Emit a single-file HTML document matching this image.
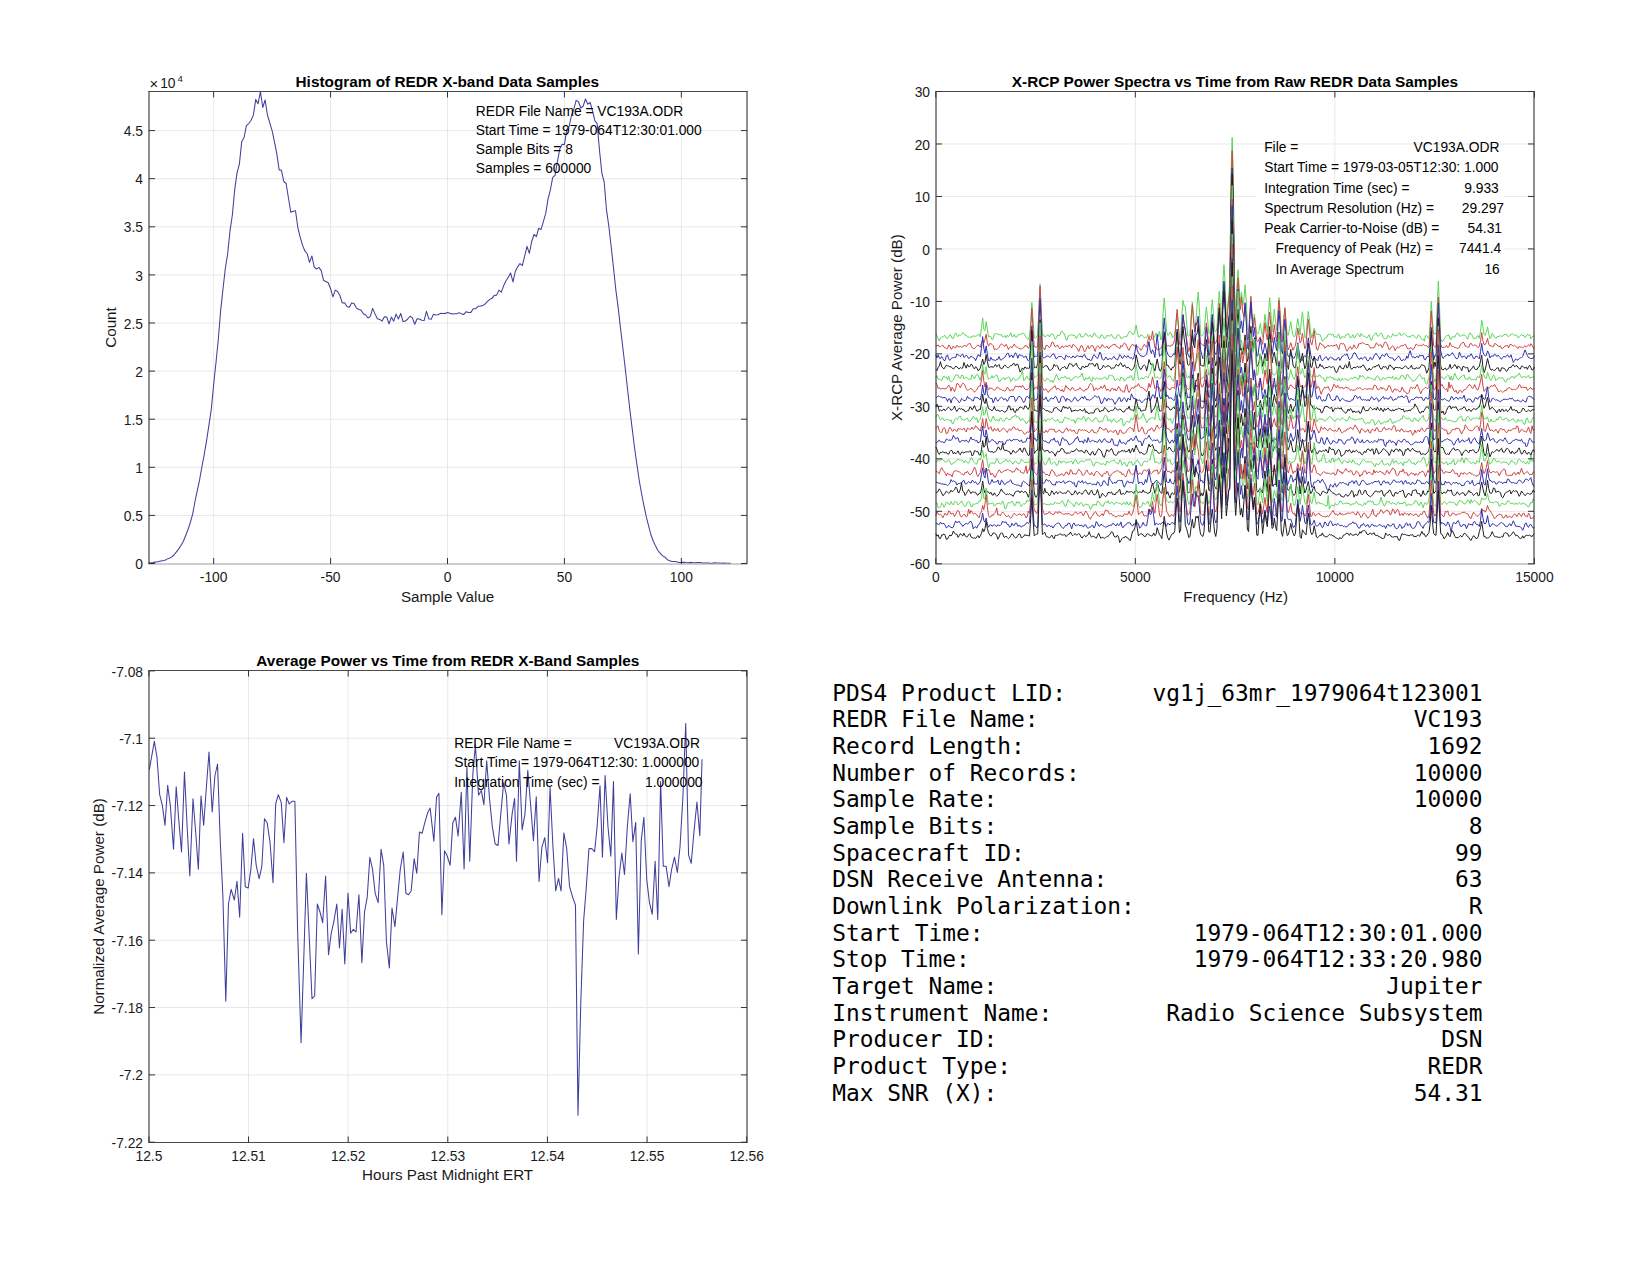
<!DOCTYPE html><html><head><meta charset="utf-8"><title>REDR X-band summary</title>
<style>html,body{margin:0;padding:0;background:#fff;}svg{display:block;}.grid line{stroke:#e8e8e8;stroke-width:1;}.frame line,.frame path{stroke-width:1;}.tk{font-family:'Liberation Sans', sans-serif;font-size:13.8px;fill:#1a1a1a;}.lb{font-family:'Liberation Sans', sans-serif;font-size:15.2px;fill:#1a1a1a;}.tt{font-family:'Liberation Sans', sans-serif;font-size:15.35px;font-weight:bold;fill:#000;}.an{font-family:'Liberation Sans', sans-serif;font-size:13.8px;fill:#000;}.mono{font-family:'DejaVu Sans Mono', 'Liberation Mono', monospace;font-size:22.85px;fill:#000;}</style></head><body>
<svg width="1650" height="1275" viewBox="0 0 1650 1275">
<rect width="1650" height="1275" fill="#fff"/>
<g class="grid"><line x1="213.65" y1="91.4" x2="213.65" y2="563.5"/><line x1="330.58" y1="91.4" x2="330.58" y2="563.5"/><line x1="447.5" y1="91.4" x2="447.5" y2="563.5"/><line x1="564.42" y1="91.4" x2="564.42" y2="563.5"/><line x1="681.35" y1="91.4" x2="681.35" y2="563.5"/><line x1="148.6" y1="515.4" x2="746.6" y2="515.4"/><line x1="148.6" y1="467.3" x2="746.6" y2="467.3"/><line x1="148.6" y1="419.2" x2="746.6" y2="419.2"/><line x1="148.6" y1="371.1" x2="746.6" y2="371.1"/><line x1="148.6" y1="323" x2="746.6" y2="323"/><line x1="148.6" y1="274.9" x2="746.6" y2="274.9"/><line x1="148.6" y1="226.8" x2="746.6" y2="226.8"/><line x1="148.6" y1="178.7" x2="746.6" y2="178.7"/><line x1="148.6" y1="130.6" x2="746.6" y2="130.6"/></g>
<polyline fill="none" stroke="#40409c" stroke-width="1.05" stroke-linejoin="round" points="148.17,562.92 150.51,562.75 152.85,562.46 155.19,562.11 157.53,561.84 159.86,561.33 162.2,560.79 164.54,560.43 166.88,559.13 169.22,558.16 171.56,557.11 173.9,555.01 176.23,552.09 178.57,549.15 180.91,545.49 183.25,541.54 185.59,535.7 187.93,529.8 190.27,522.51 192.6,514.38 194.94,501.74 197.28,490.67 199.62,479.66 201.96,466.48 204.3,454.16 206.63,440.37 208.97,424.95 211.31,409.15 213.65,384.52 215.99,362.47 218.33,338.93 220.67,310.39 223,288.97 225.34,268.31 227.68,253.62 230.02,230.7 232.36,215 234.7,189.61 237.04,172.89 239.37,164.09 241.71,141.84 244.05,137.61 246.39,125.63 248.73,123.52 251.07,120.19 253.4,115.1 255.74,99.39 258.08,103.66 260.42,91.64 262.76,107.51 265.1,99.9 267.44,115.01 269.77,122.9 272.11,130.61 274.45,141.89 276.79,153.66 279.13,169.87 281.47,170.35 283.81,181.51 286.14,183.52 288.48,198.22 290.82,212.32 293.16,211.36 295.5,210.75 297.84,227.52 300.17,237.05 302.51,245.1 304.85,250.94 307.19,253.72 309.53,262.37 311.87,255.92 314.21,266.99 316.54,269.07 318.88,267.39 321.22,270.61 323.56,280.43 325.9,281.43 328.24,282.76 330.58,288.72 332.91,296.84 335.25,290.15 337.59,291.47 339.93,295.51 342.27,302.91 344.61,302.82 346.94,306.51 349.28,307.19 351.62,302.9 353.96,303.44 356.3,307.84 358.64,309.45 360.98,310.12 363.31,313.75 365.65,315 367.99,318.04 370.33,316.42 372.67,308.41 375.01,313.89 377.35,318.66 379.68,319.44 382.02,321.14 384.36,316.85 386.7,317.02 389.04,323.95 391.38,317.12 393.71,321.21 396.05,314.14 398.39,319 400.73,313.49 403.07,321.6 405.41,321.1 407.75,319.01 410.08,316.24 412.42,317.9 414.76,324.25 417.1,318.76 419.44,318.96 421.78,320.18 424.12,320.52 426.45,311.3 428.79,318.66 431.13,319.35 433.47,314.3 435.81,315.01 438.15,314.81 440.48,313.38 442.82,313.45 445.16,313.39 447.5,312.53 449.84,313.18 452.18,314.09 454.52,313.66 456.85,313.68 459.19,312.64 461.53,313.88 463.87,314.42 466.21,311.68 468.55,312.58 470.88,312.39 473.22,308.68 475.56,308.83 477.9,306.3 480.24,306.29 482.58,305.6 484.92,304.21 487.25,301.7 489.59,299.63 491.93,298.31 494.27,295.44 496.61,295.14 498.95,290.14 501.29,292.11 503.62,285.82 505.96,280.7 508.3,277.28 510.64,273.05 512.98,281.96 515.32,271.46 517.65,266.85 519.99,263.57 522.33,265.54 524.67,256.14 527.01,246.35 529.35,253.37 531.69,241.5 534.02,234.5 536.36,236.59 538.7,228.26 541.04,229.46 543.38,221.69 545.72,213.44 548.06,198.94 550.39,189.77 552.73,177.45 555.07,175.41 557.41,161.68 559.75,149.02 562.09,144.23 564.42,144.61 566.76,129.61 569.1,126.53 571.44,115.49 573.78,109.4 576.12,100.35 578.46,101.7 580.79,108 583.13,106.25 585.47,99.02 587.81,104.24 590.15,102.4 592.49,110.74 594.83,120.65 597.16,123.64 599.5,150.32 601.84,172.96 604.18,182.04 606.52,210.2 608.86,226.34 611.19,246.99 613.53,268.16 615.87,290.07 618.21,307.94 620.55,328.66 622.89,347.99 625.23,368.44 627.56,389.24 629.9,409.9 632.24,429.08 634.58,447.98 636.92,464.61 639.26,480.54 641.6,493.78 643.93,505.65 646.27,516.72 648.61,525.85 650.95,534.77 653.29,541.28 655.63,546.12 657.96,550.53 660.3,553.34 662.64,555.89 664.98,557.18 667.32,559.66 669.66,560.65 672,561.55 674.33,561.56 676.67,561.66 679.01,562.47 681.35,562.36 683.69,562.19 686.03,562.58 688.37,562.78 690.7,562.36 693.04,562.69 695.38,562.65 697.72,562.48 700.06,562.54 702.4,562.97 704.73,563.05 707.07,562.9 709.41,563.02 711.75,563.4 714.09,562.82 716.43,563.08 718.77,562.99 721.1,563.3 723.44,562.99 725.78,563.25 728.12,563.22 730.46,563.37"/>
<g class="frame"><line x1="149" y1="90.9" x2="149" y2="564.0" stroke="#1e1e1e"/><line x1="747" y1="90.9" x2="747" y2="564.0" stroke="#1e1e1e"/><line x1="148.5" y1="91.5" x2="747.5" y2="91.5" stroke="#4a4a4a"/><line x1="148.5" y1="564" x2="747.5" y2="564" stroke="#9a9a9a"/><path d="M213.65 564V558M213.65 91.5V97.5M330.58 564V558M330.58 91.5V97.5M447.5 564V558M447.5 91.5V97.5M564.42 564V558M564.42 91.5V97.5M681.35 564V558M681.35 91.5V97.5M149 563.5H155M747 563.5H741M149 515.4H155M747 515.4H741M149 467.3H155M747 467.3H741M149 419.2H155M747 419.2H741M149 371.1H155M747 371.1H741M149 323H155M747 323H741M149 274.9H155M747 274.9H741M149 226.8H155M747 226.8H741M149 178.7H155M747 178.7H741M149 130.6H155M747 130.6H741" fill="none" stroke="#333"/></g>
<text class="tk" x="213.65" y="581.9" text-anchor="middle">-100</text>
<text class="tk" x="330.58" y="581.9" text-anchor="middle">-50</text>
<text class="tk" x="447.5" y="581.9" text-anchor="middle">0</text>
<text class="tk" x="564.42" y="581.9" text-anchor="middle">50</text>
<text class="tk" x="681.35" y="581.9" text-anchor="middle">100</text>
<text class="tk" x="143" y="569.1" text-anchor="end">0</text>
<text class="tk" x="143" y="521" text-anchor="end">0.5</text>
<text class="tk" x="143" y="472.9" text-anchor="end">1</text>
<text class="tk" x="143" y="424.8" text-anchor="end">1.5</text>
<text class="tk" x="143" y="376.7" text-anchor="end">2</text>
<text class="tk" x="143" y="328.6" text-anchor="end">2.5</text>
<text class="tk" x="143" y="280.5" text-anchor="end">3</text>
<text class="tk" x="143" y="232.4" text-anchor="end">3.5</text>
<text class="tk" x="143" y="184.3" text-anchor="end">4</text>
<text class="tk" x="143" y="136.2" text-anchor="end">4.5</text>
<text class="tk" x="149.4" y="88.6" style="font-size:15px">×</text><text class="tk" x="160.2" y="88.4">10</text><text class="tk" x="177.5" y="81.6" style="font-size:9.6px">4</text>
<text class="lb" x="447.6" y="601.6" text-anchor="middle">Sample Value</text>
<text class="lb" transform="translate(116.3 327.5) rotate(-90)" text-anchor="middle">Count</text>
<text class="tt" x="447.3" y="86.8" text-anchor="middle">Histogram of REDR X-band Data Samples</text>
<text class="an" x="475.8" y="116.1">REDR File Name = VC193A.ODR</text>
<text class="an" x="475.8" y="135">Start Time = 1979-064T12:30:01.000</text>
<text class="an" x="475.8" y="153.9">Sample Bits = 8</text>
<text class="an" x="475.8" y="172.8">Samples = 600000</text>
<g class="grid"><line x1="1135.33" y1="91.5" x2="1135.33" y2="563.8"/><line x1="1334.87" y1="91.5" x2="1334.87" y2="563.8"/><line x1="935.8" y1="143.98" x2="1534.4" y2="143.98"/><line x1="935.8" y1="301.41" x2="1534.4" y2="301.41"/><line x1="935.8" y1="353.89" x2="1534.4" y2="353.89"/><line x1="935.8" y1="406.37" x2="1534.4" y2="406.37"/><line x1="935.8" y1="458.84" x2="1534.4" y2="458.84"/><line x1="935.8" y1="511.32" x2="1534.4" y2="511.32"/><line x1="935.8" y1="196.46" x2="1256" y2="196.46"/><line x1="1504" y1="196.46" x2="1534.4" y2="196.46"/><line x1="935.8" y1="248.93" x2="1256" y2="248.93"/><line x1="1504" y1="248.93" x2="1534.4" y2="248.93"/></g>
<polyline fill="none" stroke="#5ad65a" stroke-width="1" stroke-linejoin="round" points="935.8,333.18 936.97,335.81 938.14,338.58 939.31,340.93 940.49,337.78 941.66,336.91 942.83,336.98 944,335.57 945.17,335.75 946.34,338.16 947.51,338.47 948.69,336.98 949.86,334.8 951.03,335.43 952.2,338.63 953.37,338.31 954.54,334.51 955.71,332.91 956.89,335.59 958.06,336.62 959.23,334.72 960.4,335.53 961.57,334.07 962.74,332.58 963.91,334.02 965.09,335.13 966.26,335.11 967.43,336.84 968.6,337.06 969.77,337.26 970.94,337.01 972.11,337.11 973.29,335.4 974.46,336.76 975.63,336.08 976.8,335.71 977.97,334.69 979.14,334.34 980.31,336.77 981.49,327.19 982.66,317.89 983.83,329.5 985,330.67 986.17,321.62 987.34,329.23 988.51,336.87 989.69,336.21 990.86,336.69 992.03,339.58 993.2,338.73 994.37,333.92 995.54,333.87 996.71,333.45 997.89,334.27 999.06,334.66 1000.23,334.91 1001.4,334.37 1002.57,336.89 1003.74,336.56 1004.91,335.61 1006.09,337.8 1007.26,335.14 1008.43,336.7 1009.6,335.38 1010.77,332.83 1011.94,336.54 1013.11,336.54 1014.29,334.27 1015.46,337.26 1016.63,337.12 1017.8,335.14 1018.97,334.62 1020.14,334.54 1021.31,334.29 1022.49,332.92 1023.66,333.17 1024.83,334.82 1026,337.3 1027.17,338.78 1028.34,339.37 1029.51,336.63 1030.69,322.84 1031.86,302.41 1033.03,320.02 1034.2,336.83 1035.37,338.12 1036.54,336.79 1037.71,334.43 1038.89,308.73 1040.06,283.83 1041.23,308.74 1042.4,335.06 1043.57,334.51 1044.74,336.93 1045.91,336.32 1047.09,335.04 1048.26,335.13 1049.43,337.1 1050.6,334.59 1051.77,334.15 1052.94,334.24 1054.11,336.36 1055.29,339.22 1056.46,337.64 1057.63,334.98 1058.8,335.54 1059.97,335.08 1061.14,331.7 1062.31,331.22 1063.49,333.72 1064.66,333.87 1065.83,339.57 1067,340.25 1068.17,335.88 1069.34,335.67 1070.51,334.9 1071.69,334.87 1072.86,335.51 1074.03,334.83 1075.2,336.28 1076.37,338.49 1077.54,335.82 1078.71,334.54 1079.89,333.42 1081.06,336.93 1082.23,336.91 1083.4,336.85 1084.57,335.56 1085.74,333.03 1086.91,334.7 1088.09,336.54 1089.26,335.61 1090.43,335.2 1091.6,337.48 1092.77,336.19 1093.94,333.03 1095.11,333.7 1096.29,335.91 1097.46,336.99 1098.63,337.48 1099.8,338.28 1100.97,335.11 1102.14,334.83 1103.31,336.36 1104.49,338.63 1105.66,337.74 1106.83,335.42 1108,335.59 1109.17,336.47 1110.34,334.92 1111.51,334.52 1112.69,336.98 1113.86,337.86 1115.03,338.53 1116.2,338.09 1117.37,335.04 1118.54,334.51 1119.71,335.84 1120.89,338.48 1122.06,338.57 1123.23,337.01 1124.4,336.73 1125.57,336.48 1126.74,336.81 1127.91,334.28 1129.09,331.66 1130.26,331.4 1131.43,332.32 1132.6,334.46 1133.77,334.28 1134.94,330.95 1136.11,325.07 1137.29,331.61 1138.46,337.1 1139.63,337.04 1140.8,335.05 1141.97,335.06 1143.14,336.22 1144.31,337.83 1145.49,337.29 1146.66,337.6 1147.83,334.28 1149,335.02 1150.17,335.73 1151.34,337.02 1152.51,339.64 1153.69,338.09 1154.86,335.94 1156.03,332.98 1157.2,334.44 1158.37,336.6 1159.54,331.06 1160.71,339.93 1161.89,337.06 1163.06,313.37 1164.23,298.02 1165.4,312.7 1166.57,331.31 1167.74,335.2 1168.91,334.59 1170.09,332.09 1171.26,333.09 1172.43,338.03 1173.6,336.93 1174.77,333.94 1175.94,324.61 1177.11,313.51 1178.29,325.32 1179.46,338.42 1180.63,336.21 1181.8,315.32 1182.97,300.33 1184.14,306.26 1185.31,306.26 1186.49,321.05 1187.66,335.72 1188.83,336.38 1190,333.5 1191.17,315.89 1192.34,302.02 1193.51,315.86 1194.69,330.71 1195.86,322.28 1197.03,306.12 1198.2,291.95 1199.37,307.7 1200.54,334.89 1201.71,336.11 1202.89,334.53 1204.06,333.88 1205.23,319.1 1206.4,306.97 1207.57,318.75 1208.74,332.99 1209.91,334.3 1211.09,314.38 1212.26,299.62 1213.43,313.76 1214.6,330.62 1215.77,332.19 1216.94,327.75 1218.11,306.07 1219.29,291.18 1220.46,306.65 1221.63,320.79 1222.8,283.11 1223.97,264.69 1225.14,282.89 1226.31,317.88 1227.49,308.98 1228.66,296.16 1229.83,281.88 1231,175.85 1232.17,137.53 1233.34,175.85 1234.51,285.11 1235.69,316.31 1236.86,287.07 1238.03,269.81 1239.2,286.85 1240.37,303.2 1241.54,292.23 1242.71,305.11 1243.89,300.29 1245.06,284.9 1246.23,301 1247.4,327.33 1248.57,331.37 1249.74,319.14 1250.91,307.75 1252.09,318.35 1253.26,321.97 1254.43,313.93 1255.6,324.99 1256.77,333.03 1257.94,334.04 1259.11,330.48 1260.29,323.49 1261.46,330.88 1262.63,337 1263.8,324.7 1264.97,314.31 1266.14,324.47 1267.31,331.42 1268.49,312.36 1269.66,297.5 1270.83,312.2 1272,331.85 1273.17,321.08 1274.34,309.03 1275.51,320.79 1276.69,330.27 1277.86,312.54 1279.03,297.38 1280.2,312.36 1281.37,335.69 1282.54,338.31 1283.71,319.49 1284.89,308.76 1286.06,321.62 1287.23,334.82 1288.4,335.1 1289.57,328.32 1290.74,321.5 1291.91,330.19 1293.09,335.33 1294.26,336.97 1295.43,335.19 1296.6,326.61 1297.77,318.58 1298.94,326.56 1300.11,334.84 1301.29,321.26 1302.46,311.71 1303.63,323.62 1304.8,337.4 1305.97,337.16 1307.14,323.1 1308.31,311.44 1309.49,320.8 1310.66,332.54 1311.83,338.03 1313,333.24 1314.17,328.18 1315.34,331.63 1316.51,334.63 1317.69,334.16 1318.86,334.53 1320.03,334.72 1321.2,337.57 1322.37,341.25 1323.54,340.04 1324.71,338.49 1325.89,337.97 1327.06,337.14 1328.23,333.9 1329.4,334.65 1330.57,334.09 1331.74,334.93 1332.91,334.07 1334.09,336.82 1335.26,336.47 1336.43,337.75 1337.6,335.13 1338.77,333.99 1339.94,338.46 1341.11,338.36 1342.29,336.23 1343.46,337.02 1344.63,337.86 1345.8,334.8 1346.97,334.54 1348.14,333.59 1349.31,335.41 1350.49,338.14 1351.66,336.75 1352.83,334.73 1354,337.92 1355.17,337.31 1356.34,334.69 1357.51,333.46 1358.69,334.88 1359.86,336.92 1361.03,333.38 1362.2,335.12 1363.37,336.12 1364.54,336.18 1365.71,337.01 1366.89,338.04 1368.06,336.41 1369.23,334.73 1370.4,339.05 1371.57,340.74 1372.74,336.33 1373.91,334.73 1375.09,333.59 1376.26,333.05 1377.43,336.2 1378.6,335.87 1379.77,334.36 1380.94,333.03 1382.11,334.05 1383.29,337.71 1384.46,339.08 1385.63,338.24 1386.8,338.36 1387.97,335.28 1389.14,336.3 1390.31,337.4 1391.49,336.91 1392.66,333.76 1393.83,334.91 1395,336.24 1396.17,335.27 1397.34,335.5 1398.51,334.31 1399.69,332.64 1400.86,335.45 1402.03,335.04 1403.2,334.27 1404.37,333.46 1405.54,334.34 1406.71,336.02 1407.89,336.97 1409.06,336.51 1410.23,337.31 1411.4,335.48 1412.57,335.25 1413.74,335.36 1414.91,337.09 1416.09,338.26 1417.26,337.45 1418.43,334.78 1419.6,335.92 1420.77,337.6 1421.94,339.31 1423.11,339.18 1424.29,341.29 1425.46,335.82 1426.63,335.67 1427.8,336.97 1428.97,338.69 1430.14,322.21 1431.31,301.55 1432.49,320.89 1433.66,334.32 1434.83,333.21 1436,334.18 1437.17,307.03 1438.34,281.16 1439.51,306.93 1440.69,338.19 1441.86,341.36 1443.03,341.23 1444.2,338.86 1445.37,337.21 1446.54,335.68 1447.71,335.49 1448.89,334.83 1450.06,339.19 1451.23,339.37 1452.4,336.58 1453.57,336.95 1454.74,337.48 1455.91,334.66 1457.09,332.97 1458.26,333.38 1459.43,335.99 1460.6,336.16 1461.77,335.63 1462.94,335.23 1464.11,334.54 1465.29,336.1 1466.46,336.97 1467.63,339.23 1468.8,335.07 1469.97,332.79 1471.14,334.55 1472.31,335.23 1473.49,338.52 1474.66,338.48 1475.83,338.73 1477,336.09 1478.17,335.75 1479.34,338.27 1480.51,331.15 1481.69,320.08 1482.86,326.36 1484.03,334.42 1485.2,335.53 1486.37,331.94 1487.54,326.91 1488.71,333.55 1489.89,338.72 1491.06,337.05 1492.23,333.46 1493.4,334.88 1494.57,337.33 1495.74,338.64 1496.91,336.91 1498.09,336.4 1499.26,336.65 1500.43,335.22 1501.6,336.65 1502.77,336.2 1503.94,334.56 1505.11,334.53 1506.29,334.11 1507.46,336.05 1508.63,336.66 1509.8,335.36 1510.97,334.72 1512.14,333.64 1513.31,334.68 1514.49,335.41 1515.66,334.91 1516.83,335.3 1518,337.69 1519.17,337.14 1520.34,336.02 1521.51,334.44 1522.69,335.58 1523.86,335.21 1525.03,337.66 1526.2,336.26 1527.37,334.38 1528.54,335.22 1529.71,334.62 1530.89,338.88 1532.06,337.08 1533.23,335.82 1534.4,336.17"/>
<polyline fill="none" stroke="#d04444" stroke-width="1" stroke-linejoin="round" points="935.8,345.89 936.97,345.89 938.14,344.86 939.31,346.84 940.49,346.73 941.66,345.54 942.83,345.29 944,347.32 945.17,347.67 946.34,348.72 947.51,348.56 948.69,345 949.86,345.82 951.03,349.29 952.2,348.63 953.37,346.04 954.54,347.73 955.71,347.85 956.89,345.11 958.06,346.73 959.23,347 960.4,346.05 961.57,347.3 962.74,346.69 963.91,345.69 965.09,345.45 966.26,346.64 967.43,344.77 968.6,344.16 969.77,342.98 970.94,345.31 972.11,347.53 973.29,348.32 974.46,348.71 975.63,347.14 976.8,346.04 977.97,344.88 979.14,346.28 980.31,347.17 981.49,343.04 982.66,339.84 983.83,342.88 985,339.31 986.17,334.16 987.34,342.78 988.51,346.15 989.69,343.65 990.86,343.68 992.03,344.46 993.2,345.74 994.37,349.91 995.54,349.11 996.71,349.56 997.89,348.69 999.06,347.3 1000.23,345.26 1001.4,343.78 1002.57,344.36 1003.74,345.85 1004.91,346.3 1006.09,344.42 1007.26,346.43 1008.43,349.58 1009.6,347.47 1010.77,346.36 1011.94,347.9 1013.11,345.95 1014.29,344.04 1015.46,346.27 1016.63,346.94 1017.8,347.35 1018.97,348.69 1020.14,348.68 1021.31,348.91 1022.49,348.28 1023.66,347.74 1024.83,345.59 1026,345.89 1027.17,346.06 1028.34,348.47 1029.51,346.68 1030.69,328.37 1031.86,307.89 1033.03,329.36 1034.2,346.74 1035.37,346.83 1036.54,347.54 1037.71,345.89 1038.89,312.22 1040.06,286.12 1041.23,313.07 1042.4,346.94 1043.57,347.87 1044.74,349.79 1045.91,345.66 1047.09,345.45 1048.26,346.16 1049.43,347.89 1050.6,346.24 1051.77,342.49 1052.94,342.05 1054.11,344.71 1055.29,346.9 1056.46,346.3 1057.63,344.89 1058.8,347.74 1059.97,348.85 1061.14,346.98 1062.31,345.85 1063.49,347.88 1064.66,346.53 1065.83,345.81 1067,346.39 1068.17,346.41 1069.34,344.89 1070.51,346.07 1071.69,348.06 1072.86,344.56 1074.03,344.87 1075.2,346.19 1076.37,347.42 1077.54,349.01 1078.71,351.55 1079.89,348.37 1081.06,345.59 1082.23,345.83 1083.4,349.07 1084.57,352.06 1085.74,350.41 1086.91,347.34 1088.09,345.76 1089.26,348.96 1090.43,347.45 1091.6,345.47 1092.77,345.5 1093.94,348.3 1095.11,351.45 1096.29,347.37 1097.46,345.98 1098.63,346.4 1099.8,348.49 1100.97,347.37 1102.14,344.55 1103.31,346.13 1104.49,347.32 1105.66,347.35 1106.83,346 1108,348.13 1109.17,348.43 1110.34,346.37 1111.51,346.09 1112.69,344.62 1113.86,344.67 1115.03,344.12 1116.2,346.38 1117.37,346.94 1118.54,347.36 1119.71,348.86 1120.89,345.53 1122.06,346.82 1123.23,344.4 1124.4,342.91 1125.57,343.95 1126.74,346.1 1127.91,348.91 1129.09,350.44 1130.26,347.05 1131.43,345.74 1132.6,343.95 1133.77,345.79 1134.94,345.95 1136.11,346.73 1137.29,346.32 1138.46,347.09 1139.63,348.24 1140.8,350.45 1141.97,349.08 1143.14,346.57 1144.31,344.32 1145.49,346.12 1146.66,347.37 1147.83,340.66 1149,336.27 1150.17,340.57 1151.34,338.83 1152.51,330.93 1153.69,339.69 1154.86,347.86 1156.03,347.66 1157.2,349.71 1158.37,349.9 1159.54,349.47 1160.71,347.73 1161.89,347.05 1163.06,340.55 1164.23,335.84 1165.4,340.99 1166.57,346.04 1167.74,345.79 1168.91,345.42 1170.09,346.83 1171.26,344.93 1172.43,345.24 1173.6,343.04 1174.77,338.95 1175.94,322.65 1177.11,309.39 1178.29,323.49 1179.46,344 1180.63,345.52 1181.8,328.03 1182.97,314.21 1184.14,324.25 1185.31,330.84 1186.49,337.94 1187.66,346.23 1188.83,351.39 1190,346.56 1191.17,320.87 1192.34,304.73 1193.51,320.11 1194.69,331.96 1195.86,322.68 1197.03,325.3 1198.2,320.12 1199.37,331.25 1200.54,343.89 1201.71,344 1202.89,345.15 1204.06,345.98 1205.23,334.25 1206.4,322.84 1207.57,332.97 1208.74,343.58 1209.91,341.79 1211.09,328.24 1212.26,317.07 1213.43,330.16 1214.6,343.64 1215.77,343.1 1216.94,339.18 1218.11,318.23 1219.29,303.44 1220.46,318.67 1221.63,332.98 1222.8,301.54 1223.97,283.61 1225.14,300.54 1226.31,329.75 1227.49,314.33 1228.66,299.55 1229.83,292.28 1231,188.93 1232.17,150.62 1233.34,188.93 1234.51,297.46 1235.69,326.24 1236.86,295.5 1238.03,278 1239.2,295.85 1240.37,309.71 1241.54,296.84 1242.71,312 1243.89,316.75 1245.06,304.23 1246.23,319.28 1247.4,339.71 1248.57,338.43 1249.74,312.99 1250.91,296.24 1252.09,313.22 1253.26,327.76 1254.43,317.4 1255.6,329.6 1256.77,340.78 1257.94,341.75 1259.11,339.18 1260.29,336.9 1261.46,340.25 1262.63,344.44 1263.8,333.3 1264.97,322.66 1266.14,333.44 1267.31,340.11 1268.49,324.7 1269.66,312.02 1270.83,325.64 1272,342.68 1273.17,334.67 1274.34,324.66 1275.51,335.32 1276.69,341.44 1277.86,316.55 1279.03,300.48 1280.2,316.83 1281.37,341.38 1282.54,341.96 1283.71,321.25 1284.89,307.64 1286.06,323.33 1287.23,344.72 1288.4,349.88 1289.57,346.48 1290.74,342.67 1291.91,346.77 1293.09,350.32 1294.26,347.2 1295.43,345.79 1296.6,338.01 1297.77,328.11 1298.94,335.42 1300.11,342.83 1301.29,340.66 1302.46,333.01 1303.63,342.24 1304.8,348.66 1305.97,345.42 1307.14,330.37 1308.31,319.32 1309.49,330.67 1310.66,342.15 1311.83,344.94 1313,339.17 1314.17,330.64 1315.34,339.51 1316.51,349.24 1317.69,350.23 1318.86,346.2 1320.03,342.76 1321.2,344.14 1322.37,344.91 1323.54,345.28 1324.71,348.21 1325.89,346.99 1327.06,346.44 1328.23,344.95 1329.4,346.75 1330.57,345.53 1331.74,345.73 1332.91,346.01 1334.09,345.41 1335.26,345.54 1336.43,344.24 1337.6,347.35 1338.77,349.64 1339.94,344.52 1341.11,343.09 1342.29,344.08 1343.46,343.42 1344.63,345.02 1345.8,348.8 1346.97,351.23 1348.14,349.74 1349.31,347.36 1350.49,346.64 1351.66,349.27 1352.83,348.09 1354,344.84 1355.17,347.33 1356.34,348.81 1357.51,347.71 1358.69,343.82 1359.86,343.72 1361.03,343.58 1362.2,342.59 1363.37,343.14 1364.54,343.44 1365.71,344.63 1366.89,344.46 1368.06,344.55 1369.23,345.65 1370.4,348.32 1371.57,347.83 1372.74,347.7 1373.91,347.94 1375.09,345.97 1376.26,342.88 1377.43,343.81 1378.6,345.66 1379.77,345.11 1380.94,344.63 1382.11,347.65 1383.29,345.64 1384.46,342.41 1385.63,341.96 1386.8,343.65 1387.97,346.15 1389.14,349.84 1390.31,348.91 1391.49,346.86 1392.66,345.73 1393.83,347 1395,350.67 1396.17,348.71 1397.34,346.88 1398.51,347.92 1399.69,347.15 1400.86,345.68 1402.03,345.68 1403.2,345.7 1404.37,344.58 1405.54,344.39 1406.71,347.08 1407.89,349.02 1409.06,348.72 1410.23,347.9 1411.4,347.85 1412.57,349.7 1413.74,348.96 1414.91,346.7 1416.09,344.09 1417.26,344.99 1418.43,346.05 1419.6,345.04 1420.77,345.63 1421.94,345.46 1423.11,344.4 1424.29,345.29 1425.46,345.7 1426.63,345.55 1427.8,347.08 1428.97,347.58 1430.14,332.51 1431.31,310.96 1432.49,329.53 1433.66,345.88 1434.83,347.01 1436,346.99 1437.17,321.78 1438.34,297.2 1439.51,320.93 1440.69,344.39 1441.86,347.44 1443.03,347.19 1444.2,347.46 1445.37,347.14 1446.54,345.43 1447.71,347.61 1448.89,346.76 1450.06,342.62 1451.23,345.32 1452.4,346.67 1453.57,346.44 1454.74,347.81 1455.91,347.19 1457.09,348.65 1458.26,348.37 1459.43,347.02 1460.6,344.16 1461.77,343.59 1462.94,342 1464.11,342.95 1465.29,346.44 1466.46,346.26 1467.63,347.34 1468.8,347.18 1469.97,343.99 1471.14,343.27 1472.31,345.28 1473.49,345.7 1474.66,344.65 1475.83,345.59 1477,346.31 1478.17,347.72 1479.34,346.16 1480.51,341.29 1481.69,332.59 1482.86,340.73 1484.03,344.4 1485.2,344.58 1486.37,342.38 1487.54,338.41 1488.71,344.19 1489.89,345.98 1491.06,345.77 1492.23,346.34 1493.4,346.68 1494.57,343.58 1495.74,343.85 1496.91,344.87 1498.09,346.15 1499.26,346.44 1500.43,345.86 1501.6,348.57 1502.77,348.28 1503.94,346.99 1505.11,345.91 1506.29,345.94 1507.46,345.28 1508.63,347.88 1509.8,344.67 1510.97,344.56 1512.14,345.04 1513.31,346.31 1514.49,345.25 1515.66,346.38 1516.83,347.16 1518,348.67 1519.17,346.4 1520.34,347.12 1521.51,347.02 1522.69,348.01 1523.86,346.7 1525.03,345.72 1526.2,347.16 1527.37,345.88 1528.54,344.72 1529.71,346.25 1530.89,343.67 1532.06,345.19 1533.23,347.61 1534.4,349.07"/>
<polyline fill="none" stroke="#3030b0" stroke-width="1" stroke-linejoin="round" points="935.8,354.71 936.97,357.9 938.14,354.92 939.31,358.05 940.49,358.64 941.66,356.46 942.83,358.47 944,360.62 945.17,360.41 946.34,355.82 947.51,354.94 948.69,358.95 949.86,360.43 951.03,358.73 952.2,357.72 953.37,357.79 954.54,357.22 955.71,357.5 956.89,353.96 958.06,354.73 959.23,355.39 960.4,356.67 961.57,354.71 962.74,354.08 963.91,357.31 965.09,356.69 966.26,355.03 967.43,356.26 968.6,358.56 969.77,358.03 970.94,356.13 972.11,356.53 973.29,357.82 974.46,358.15 975.63,360.67 976.8,357.66 977.97,354.81 979.14,355.13 980.31,356.68 981.49,347.82 982.66,336.67 983.83,348.25 985,353.23 986.17,345.93 987.34,353.88 988.51,360.64 989.69,360.95 990.86,357.32 992.03,359.63 993.2,359.84 994.37,360.06 995.54,360.83 996.71,359.1 997.89,359.48 999.06,356.5 1000.23,359.66 1001.4,360.11 1002.57,358.67 1003.74,358.18 1004.91,357.28 1006.09,355.08 1007.26,353.33 1008.43,353.29 1009.6,357.28 1010.77,355.49 1011.94,355.33 1013.11,357.8 1014.29,355.17 1015.46,352.72 1016.63,354.37 1017.8,358.35 1018.97,354.93 1020.14,354.97 1021.31,355.66 1022.49,355.63 1023.66,357.49 1024.83,356.85 1026,355.9 1027.17,359.09 1028.34,360.89 1029.51,359.78 1030.69,343.81 1031.86,325.84 1033.03,344.51 1034.2,357.3 1035.37,355.96 1036.54,356.42 1037.71,356.03 1038.89,324.26 1040.06,298.9 1041.23,324.68 1042.4,356.38 1043.57,357.94 1044.74,357.58 1045.91,356.82 1047.09,355.95 1048.26,356.11 1049.43,357.23 1050.6,356.92 1051.77,355.11 1052.94,353.74 1054.11,354.1 1055.29,357.02 1056.46,359.1 1057.63,357.33 1058.8,356.54 1059.97,356.43 1061.14,356.31 1062.31,357.48 1063.49,358.41 1064.66,359.91 1065.83,355.2 1067,356.07 1068.17,357.22 1069.34,356.41 1070.51,357.54 1071.69,357.92 1072.86,355.93 1074.03,356.8 1075.2,357.75 1076.37,355.93 1077.54,355.61 1078.71,356.26 1079.89,356.68 1081.06,355.83 1082.23,357.47 1083.4,355.19 1084.57,354.4 1085.74,357.59 1086.91,358.19 1088.09,360 1089.26,359 1090.43,360.77 1091.6,360.24 1092.77,356.84 1093.94,354.75 1095.11,355.66 1096.29,357.59 1097.46,358.53 1098.63,356.07 1099.8,352 1100.97,353.95 1102.14,358.97 1103.31,359.91 1104.49,359.65 1105.66,357.08 1106.83,358.14 1108,360.02 1109.17,358.55 1110.34,358.63 1111.51,359.41 1112.69,357.8 1113.86,356.3 1115.03,358.4 1116.2,359.07 1117.37,360.01 1118.54,357.82 1119.71,354.59 1120.89,355.72 1122.06,358.33 1123.23,357.79 1124.4,355.28 1125.57,356.84 1126.74,357.33 1127.91,355.55 1129.09,357.46 1130.26,358.14 1131.43,357.43 1132.6,359.22 1133.77,358.38 1134.94,352.07 1136.11,344.49 1137.29,350.14 1138.46,352.94 1139.63,354.57 1140.8,356.07 1141.97,355.95 1143.14,356.72 1144.31,356.15 1145.49,355.36 1146.66,354.31 1147.83,347.41 1149,341.51 1150.17,350.04 1151.34,353.44 1152.51,349.79 1153.69,351.87 1154.86,357.54 1156.03,345.55 1157.2,334.41 1158.37,345.89 1159.54,356.42 1160.71,354.75 1161.89,354.95 1163.06,332.62 1164.23,317.88 1165.4,332.76 1166.57,350.79 1167.74,354.09 1168.91,355.86 1170.09,356.96 1171.26,356.78 1172.43,355.98 1173.6,353.63 1174.77,354.39 1175.94,341.72 1177.11,328.96 1178.29,341.11 1179.46,357.24 1180.63,356.1 1181.8,331.8 1182.97,315.16 1184.14,324.38 1185.31,329.44 1186.49,340.87 1187.66,353.4 1188.83,356.54 1190,357.47 1191.17,345.9 1192.34,335.51 1193.51,344.99 1194.69,337.62 1195.86,324.03 1197.03,323.63 1198.2,316.17 1199.37,332.09 1200.54,349.84 1201.71,354.25 1202.89,358.68 1204.06,357.5 1205.23,340.41 1206.4,327.02 1207.57,339.69 1208.74,355.55 1209.91,353.13 1211.09,329.96 1212.26,314.35 1213.43,330.17 1214.6,352.04 1215.77,354.37 1216.94,352.51 1218.11,328.02 1219.29,311.68 1220.46,327.6 1221.63,340.05 1222.8,299.97 1223.97,281.2 1225.14,299.81 1226.31,336.49 1227.49,330.07 1228.66,318.56 1229.83,309.12 1231,206.27 1232.17,167.97 1233.34,206.27 1234.51,313.25 1235.69,335.72 1236.86,306.06 1238.03,288.97 1239.2,306.65 1240.37,328.53 1241.54,320.95 1242.71,332.77 1243.89,319.06 1245.06,302.69 1246.23,319.99 1247.4,347.92 1248.57,349.55 1249.74,319.43 1250.91,301.71 1252.09,319.01 1253.26,336.6 1254.43,327.52 1255.6,339.37 1256.77,356.35 1257.94,355.56 1259.11,345.89 1260.29,338.36 1261.46,346.9 1262.63,354.25 1263.8,349.67 1264.97,343.12 1266.14,349.1 1267.31,357.72 1268.49,345.97 1269.66,333.89 1270.83,344.11 1272,354.42 1273.17,347.14 1274.34,337.4 1275.51,345.55 1276.69,350.58 1277.86,327.2 1279.03,310.72 1280.2,326.59 1281.37,349.6 1282.54,353.94 1283.71,333.99 1284.89,319.3 1286.06,334.12 1287.23,353.22 1288.4,356.75 1289.57,356.21 1290.74,353.28 1291.91,355.29 1293.09,358.31 1294.26,358.05 1295.43,355.37 1296.6,350.34 1297.77,342.79 1298.94,350.66 1300.11,358.77 1301.29,360.59 1302.46,360.38 1303.63,356.57 1304.8,355.87 1305.97,357.25 1307.14,348.38 1308.31,337.87 1309.49,346.45 1310.66,354.53 1311.83,358.65 1313,360.48 1314.17,358.1 1315.34,358.3 1316.51,360.09 1317.69,360.76 1318.86,356.61 1320.03,355.14 1321.2,359.21 1322.37,360.92 1323.54,359.42 1324.71,357.96 1325.89,356.63 1327.06,357.96 1328.23,360.23 1329.4,357.82 1330.57,357.12 1331.74,358.08 1332.91,358.08 1334.09,359.92 1335.26,359.72 1336.43,360.12 1337.6,357.89 1338.77,357.33 1339.94,360.5 1341.11,358.19 1342.29,356.07 1343.46,355.71 1344.63,354.57 1345.8,355.39 1346.97,353.66 1348.14,356.74 1349.31,359.6 1350.49,358.79 1351.66,357.99 1352.83,354.75 1354,352.85 1355.17,352.99 1356.34,355.08 1357.51,357.46 1358.69,359.08 1359.86,359.24 1361.03,357.52 1362.2,359.27 1363.37,358.36 1364.54,356.8 1365.71,357.21 1366.89,360.21 1368.06,360.99 1369.23,359.59 1370.4,357.16 1371.57,359.33 1372.74,359.21 1373.91,356.23 1375.09,354.2 1376.26,353.43 1377.43,355.63 1378.6,356.64 1379.77,359.42 1380.94,356.64 1382.11,354.74 1383.29,355.25 1384.46,356.59 1385.63,353.97 1386.8,353.42 1387.97,356.09 1389.14,357.17 1390.31,357.81 1391.49,357.79 1392.66,358 1393.83,360.12 1395,360.39 1396.17,358.68 1397.34,357.62 1398.51,355.86 1399.69,357.49 1400.86,359.97 1402.03,361 1403.2,359.38 1404.37,360.24 1405.54,359.78 1406.71,355.95 1407.89,358.4 1409.06,353.51 1410.23,350.65 1411.4,355.32 1412.57,357.36 1413.74,356.64 1414.91,358.1 1416.09,356.76 1417.26,356.3 1418.43,357.87 1419.6,354.99 1420.77,355.79 1421.94,355.67 1423.11,355.33 1424.29,359.41 1425.46,359.84 1426.63,356.99 1427.8,356.3 1428.97,356.95 1430.14,344.99 1431.31,327.47 1432.49,346.2 1433.66,359.96 1434.83,355.38 1436,355.92 1437.17,327.86 1438.34,302.89 1439.51,326.8 1440.69,350.94 1441.86,355.77 1443.03,358.43 1444.2,357.36 1445.37,355.82 1446.54,355.65 1447.71,353.97 1448.89,355.89 1450.06,355.29 1451.23,354.36 1452.4,352.59 1453.57,354.72 1454.74,356.45 1455.91,358.39 1457.09,358.74 1458.26,357.61 1459.43,352.12 1460.6,355.15 1461.77,357.31 1462.94,356.83 1464.11,355.96 1465.29,356.83 1466.46,359.03 1467.63,355.75 1468.8,356.16 1469.97,355.99 1471.14,353.71 1472.31,355.92 1473.49,358.71 1474.66,358.5 1475.83,356.08 1477,356.34 1478.17,357.45 1479.34,358.76 1480.51,351.62 1481.69,343.32 1482.86,351.77 1484.03,354.78 1485.2,355.84 1486.37,355.35 1487.54,350.82 1488.71,352.76 1489.89,357.93 1491.06,356.07 1492.23,356.03 1493.4,356.15 1494.57,354.06 1495.74,354.93 1496.91,356.54 1498.09,355.14 1499.26,356.58 1500.43,357.88 1501.6,359.27 1502.77,357.33 1503.94,356.1 1505.11,357.19 1506.29,356.37 1507.46,354.81 1508.63,356.87 1509.8,357.18 1510.97,354.78 1512.14,358.64 1513.31,362.36 1514.49,360.81 1515.66,358.92 1516.83,359.96 1518,360.02 1519.17,358.66 1520.34,357.77 1521.51,357.57 1522.69,356.54 1523.86,353.17 1525.03,349.87 1526.2,352.59 1527.37,355.52 1528.54,357.74 1529.71,357.84 1530.89,358.8 1532.06,358.28 1533.23,358.28 1534.4,355.74"/>
<polyline fill="none" stroke="#1e1e1e" stroke-width="1" stroke-linejoin="round" points="935.8,369.39 936.97,370.65 938.14,367.51 939.31,365.81 940.49,361.62 941.66,366.81 942.83,367.79 944,368.94 945.17,366.94 946.34,365.23 947.51,365.81 948.69,366.07 949.86,366.87 951.03,366.79 952.2,367.72 953.37,369.16 954.54,367.88 955.71,366.23 956.89,366.7 958.06,368.15 959.23,368.91 960.4,367.54 961.57,368.36 962.74,367.92 963.91,362.49 965.09,365.73 966.26,368.2 967.43,364.41 968.6,366.71 969.77,366.68 970.94,364.25 972.11,364.88 973.29,367.5 974.46,368.93 975.63,366.68 976.8,367.65 977.97,370.59 979.14,370.11 980.31,367.88 981.49,363.6 982.66,359.13 983.83,364.47 985,362.25 986.17,354.64 987.34,361.25 988.51,367.06 989.69,367.48 990.86,366.84 992.03,366.64 993.2,367.51 994.37,365.97 995.54,364.38 996.71,366.73 997.89,365.7 999.06,364.5 1000.23,367.94 1001.4,368.56 1002.57,368.34 1003.74,365.97 1004.91,365.04 1006.09,366.3 1007.26,367.52 1008.43,367.72 1009.6,366.76 1010.77,365.4 1011.94,365.47 1013.11,363.66 1014.29,363.46 1015.46,365.96 1016.63,364.08 1017.8,364.34 1018.97,368.21 1020.14,372.13 1021.31,370.15 1022.49,367.92 1023.66,369.59 1024.83,366.87 1026,368.18 1027.17,368.05 1028.34,368.3 1029.51,368.14 1030.69,350.81 1031.86,330.35 1033.03,351.24 1034.2,367.88 1035.37,367.32 1036.54,367.83 1037.71,363.05 1038.89,341.88 1040.06,319.58 1041.23,344.16 1042.4,368.29 1043.57,367.07 1044.74,366.09 1045.91,365.72 1047.09,365.88 1048.26,367.98 1049.43,370.26 1050.6,370.18 1051.77,369.33 1052.94,367.88 1054.11,364.26 1055.29,366.32 1056.46,365.33 1057.63,366.1 1058.8,369.39 1059.97,370.59 1061.14,368.76 1062.31,367.45 1063.49,367.39 1064.66,366.29 1065.83,368.44 1067,368.92 1068.17,366.34 1069.34,363.53 1070.51,363.97 1071.69,364.17 1072.86,366.59 1074.03,365.58 1075.2,364.6 1076.37,363.14 1077.54,366.5 1078.71,367.66 1079.89,369.3 1081.06,369.33 1082.23,366.32 1083.4,366.44 1084.57,368.02 1085.74,366.14 1086.91,366.77 1088.09,366.07 1089.26,363.39 1090.43,363.97 1091.6,363.73 1092.77,363.46 1093.94,365.64 1095.11,366.37 1096.29,363.52 1097.46,363.92 1098.63,368.93 1099.8,369.65 1100.97,369.2 1102.14,367.98 1103.31,365.25 1104.49,366.74 1105.66,367.26 1106.83,366.19 1108,365.62 1109.17,366.23 1110.34,366.94 1111.51,368.92 1112.69,367.91 1113.86,368.19 1115.03,366.62 1116.2,364.42 1117.37,365.51 1118.54,366.04 1119.71,363.66 1120.89,362.73 1122.06,365.26 1123.23,366.96 1124.4,364.76 1125.57,366.51 1126.74,368.21 1127.91,367.06 1129.09,368.29 1130.26,369.25 1131.43,370.2 1132.6,369.39 1133.77,367.83 1134.94,364.18 1136.11,354.88 1137.29,359.82 1138.46,365.48 1139.63,367.97 1140.8,369.74 1141.97,368.03 1143.14,365.8 1144.31,364.92 1145.49,366.08 1146.66,371.02 1147.83,365.83 1149,359.57 1150.17,362.76 1151.34,365.04 1152.51,363.14 1153.69,367.68 1154.86,370.87 1156.03,364.96 1157.2,358.96 1158.37,365.59 1159.54,370.55 1160.71,371.09 1161.89,366.77 1163.06,346.09 1164.23,331.79 1165.4,346.18 1166.57,365.77 1167.74,364.94 1168.91,367.12 1170.09,368.55 1171.26,370.21 1172.43,367.24 1173.6,367.41 1174.77,365.4 1175.94,345.72 1177.11,332.26 1178.29,346.58 1179.46,363.66 1180.63,364.29 1181.8,341.63 1182.97,326.31 1184.14,338.4 1185.31,345.94 1186.49,356.25 1187.66,364.38 1188.83,365.35 1190,364.13 1191.17,344.16 1192.34,329.7 1193.51,343.97 1194.69,347.92 1195.86,335.23 1197.03,333.8 1198.2,325.36 1199.37,341.42 1200.54,365.26 1201.71,365.46 1202.89,365.91 1204.06,366.11 1205.23,351.23 1206.4,339.54 1207.57,352.49 1208.74,364.3 1209.91,360.53 1211.09,338.32 1212.26,322.53 1213.43,338.05 1214.6,360.19 1215.77,365.98 1216.94,360.93 1218.11,326.04 1219.29,307.97 1220.46,325.32 1221.63,347.88 1222.8,310.25 1223.97,291.52 1225.14,310.14 1226.31,347.59 1227.49,335.45 1228.66,320.62 1229.83,314.29 1231,212.39 1232.17,174.08 1233.34,212.39 1234.51,320.38 1235.69,349.53 1236.86,325.33 1238.03,309.21 1239.2,325.84 1240.37,350.27 1241.54,348.11 1242.71,354.31 1243.89,346.55 1245.06,334.87 1246.23,347.58 1247.4,361.41 1248.57,358.11 1249.74,340.28 1250.91,326.24 1252.09,341.09 1253.26,349.1 1254.43,337.77 1255.6,351.33 1256.77,366.42 1257.94,365.61 1259.11,361.3 1260.29,353.93 1261.46,357.95 1262.63,366.43 1263.8,361.17 1264.97,353.38 1266.14,359.76 1267.31,360.96 1268.49,340.43 1269.66,326.57 1270.83,341.97 1272,363.07 1273.17,356.45 1274.34,352.21 1275.51,359.96 1276.69,366.01 1277.86,346.34 1279.03,332.3 1280.2,347.02 1281.37,368.59 1282.54,368 1283.71,350.97 1284.89,339.69 1286.06,352.47 1287.23,365.54 1288.4,369.31 1289.57,359.02 1290.74,349.31 1291.91,357.18 1293.09,364.98 1294.26,367.65 1295.43,367.91 1296.6,359.41 1297.77,349.68 1298.94,356.97 1300.11,362.61 1301.29,359.17 1302.46,353.33 1303.63,362.16 1304.8,368.77 1305.97,365.83 1307.14,354.47 1308.31,343.16 1309.49,353.97 1310.66,367.07 1311.83,367.44 1313,361.25 1314.17,356.18 1315.34,361.73 1316.51,367.85 1317.69,367.91 1318.86,367.21 1320.03,363.93 1321.2,366.48 1322.37,365.64 1323.54,368.23 1324.71,368.61 1325.89,367.16 1327.06,367.89 1328.23,367.14 1329.4,366.32 1330.57,367.15 1331.74,367.54 1332.91,366.35 1334.09,367.6 1335.26,370.75 1336.43,372.73 1337.6,370.87 1338.77,367.36 1339.94,365.71 1341.11,367.95 1342.29,368.43 1343.46,369.01 1344.63,365.91 1345.8,364.67 1346.97,368.17 1348.14,366.91 1349.31,361.49 1350.49,367.71 1351.66,369.34 1352.83,367.88 1354,367.13 1355.17,367.81 1356.34,367.14 1357.51,366.18 1358.69,367.83 1359.86,366.44 1361.03,367.4 1362.2,365.54 1363.37,364.76 1364.54,366.89 1365.71,368.93 1366.89,370.56 1368.06,370.21 1369.23,368.14 1370.4,370.15 1371.57,368.84 1372.74,367.75 1373.91,366.45 1375.09,367.23 1376.26,365.73 1377.43,365.89 1378.6,364.3 1379.77,367.25 1380.94,369.07 1382.11,368.86 1383.29,366.36 1384.46,367.09 1385.63,366.38 1386.8,368.53 1387.97,369.41 1389.14,365.3 1390.31,364.95 1391.49,367.03 1392.66,367.28 1393.83,369.89 1395,367.54 1396.17,367.53 1397.34,367.45 1398.51,367.76 1399.69,367.56 1400.86,368.16 1402.03,368.64 1403.2,367.96 1404.37,366.8 1405.54,365.84 1406.71,367.07 1407.89,368.64 1409.06,368.44 1410.23,367.19 1411.4,365.27 1412.57,368.55 1413.74,368.62 1414.91,369.12 1416.09,367.64 1417.26,368.24 1418.43,368.21 1419.6,368.1 1420.77,365.74 1421.94,364.61 1423.11,365.32 1424.29,365.54 1425.46,368.15 1426.63,373.18 1427.8,370.98 1428.97,367.5 1430.14,351.57 1431.31,331.24 1432.49,353.05 1433.66,368.62 1434.83,362.04 1436,366.71 1437.17,341.47 1438.34,317.7 1439.51,341.42 1440.69,366.05 1441.86,369.39 1443.03,369.86 1444.2,368.93 1445.37,367.96 1446.54,370.08 1447.71,369.08 1448.89,367.88 1450.06,364.39 1451.23,368.67 1452.4,367.69 1453.57,366.33 1454.74,364.52 1455.91,365.99 1457.09,368.77 1458.26,365.81 1459.43,367.07 1460.6,368.43 1461.77,370.66 1462.94,366.41 1464.11,366.57 1465.29,367.66 1466.46,367.63 1467.63,367.47 1468.8,372.05 1469.97,370.22 1471.14,369.54 1472.31,367.69 1473.49,365.86 1474.66,368.72 1475.83,369.41 1477,369.65 1478.17,367.26 1479.34,366.66 1480.51,360.84 1481.69,355.05 1482.86,366.57 1484.03,372.56 1485.2,369.83 1486.37,364.46 1487.54,358.46 1488.71,363.38 1489.89,368.14 1491.06,370.23 1492.23,369.19 1493.4,370.24 1494.57,370.69 1495.74,369.08 1496.91,368.05 1498.09,367.62 1499.26,370.95 1500.43,371.17 1501.6,367.79 1502.77,367.97 1503.94,368.32 1505.11,369.17 1506.29,371.37 1507.46,370.68 1508.63,367.88 1509.8,367.49 1510.97,367.59 1512.14,365.59 1513.31,364.73 1514.49,366.7 1515.66,366.01 1516.83,365.54 1518,367.31 1519.17,368.65 1520.34,369.07 1521.51,366.17 1522.69,366.2 1523.86,367.54 1525.03,368.08 1526.2,367.11 1527.37,369.4 1528.54,366.67 1529.71,365.29 1530.89,367.7 1532.06,370.07 1533.23,369.56 1534.4,366.78"/>
<polyline fill="none" stroke="#5ad65a" stroke-width="1" stroke-linejoin="round" points="935.8,377.81 936.97,375.56 938.14,379.4 939.31,379.08 940.49,379.84 941.66,380.63 942.83,377.64 944,375.92 945.17,377.49 946.34,376.98 947.51,379.81 948.69,376.3 949.86,380.61 951.03,381.58 952.2,380.89 953.37,380 954.54,377.29 955.71,374.8 956.89,374.99 958.06,375.08 959.23,377.93 960.4,378.51 961.57,375.14 962.74,375.2 963.91,378.69 965.09,378.33 966.26,376.92 967.43,378.25 968.6,379.66 969.77,378.84 970.94,379.33 972.11,374.62 973.29,376.46 974.46,379.02 975.63,375.99 976.8,374.3 977.97,374.9 979.14,377.66 980.31,380.33 981.49,374.05 982.66,364.4 983.83,372.84 985,374.11 986.17,366.55 987.34,375.52 988.51,379.44 989.69,378.32 990.86,378.03 992.03,375.57 993.2,378.08 994.37,376.34 995.54,375.62 996.71,374.75 997.89,377.61 999.06,381.86 1000.23,381.22 1001.4,379 1002.57,378.82 1003.74,377.48 1004.91,379.85 1006.09,377.98 1007.26,378.05 1008.43,377.01 1009.6,377.47 1010.77,381.44 1011.94,380.12 1013.11,377.69 1014.29,378.51 1015.46,380.76 1016.63,379.92 1017.8,378.89 1018.97,378.6 1020.14,376.45 1021.31,374.7 1022.49,370.45 1023.66,380.6 1024.83,380.16 1026,376.93 1027.17,376.4 1028.34,379.06 1029.51,380.29 1030.69,363.31 1031.86,341.29 1033.03,361.52 1034.2,378.18 1035.37,376.93 1036.54,376.15 1037.71,374.99 1038.89,348.17 1040.06,322.74 1041.23,348.43 1042.4,377.81 1043.57,379.81 1044.74,381.45 1045.91,380.34 1047.09,378.17 1048.26,379.14 1049.43,379.99 1050.6,381.97 1051.77,380.3 1052.94,382.52 1054.11,380.33 1055.29,376.89 1056.46,374.1 1057.63,376.92 1058.8,379.82 1059.97,379.31 1061.14,377.61 1062.31,377.43 1063.49,377.95 1064.66,376.37 1065.83,376.88 1067,378.95 1068.17,377.9 1069.34,377.79 1070.51,380.51 1071.69,380.26 1072.86,378.38 1074.03,377.95 1075.2,376.51 1076.37,376.85 1077.54,377.98 1078.71,376.55 1079.89,376.94 1081.06,375.11 1082.23,373.14 1083.4,378.58 1084.57,380.7 1085.74,377.73 1086.91,378.99 1088.09,378.95 1089.26,376.8 1090.43,379.45 1091.6,381.58 1092.77,377.32 1093.94,378.35 1095.11,379.6 1096.29,377.99 1097.46,378.2 1098.63,378.97 1099.8,377.85 1100.97,379.63 1102.14,378.63 1103.31,378.28 1104.49,376.98 1105.66,377.37 1106.83,379.65 1108,378.61 1109.17,375.01 1110.34,375.19 1111.51,375.58 1112.69,375.72 1113.86,377.85 1115.03,380.73 1116.2,379.8 1117.37,378.64 1118.54,379.26 1119.71,380.86 1120.89,377.1 1122.06,377.91 1123.23,378.44 1124.4,381.3 1125.57,379.23 1126.74,378.67 1127.91,377 1129.09,378.04 1130.26,375.69 1131.43,375.9 1132.6,379.84 1133.77,380.24 1134.94,372.83 1136.11,364.59 1137.29,371.55 1138.46,379.31 1139.63,379.52 1140.8,378.28 1141.97,377.72 1143.14,379.12 1144.31,377.83 1145.49,376.53 1146.66,376.56 1147.83,378.05 1149,375.48 1150.17,374.12 1151.34,369.78 1152.51,363.08 1153.69,370.32 1154.86,377.85 1156.03,377.78 1157.2,376.57 1158.37,378.08 1159.54,378.63 1160.71,378.23 1161.89,375.11 1163.06,356.72 1164.23,343.44 1165.4,358.41 1166.57,376.5 1167.74,377.59 1168.91,375.94 1170.09,375.78 1171.26,378.17 1172.43,380.02 1173.6,381.23 1174.77,375.8 1175.94,358.06 1177.11,344.83 1178.29,359.49 1179.46,376.99 1180.63,376.79 1181.8,365.96 1182.97,354.43 1184.14,363.83 1185.31,369.43 1186.49,377.37 1187.66,377.9 1188.83,375.92 1190,378.14 1191.17,361.2 1192.34,348.53 1193.51,361.15 1194.69,369.1 1195.86,362.97 1197.03,359.87 1198.2,352.47 1199.37,364.81 1200.54,379.65 1201.71,378.99 1202.89,377.18 1204.06,377.52 1205.23,367.67 1206.4,355.48 1207.57,365.1 1208.74,375.34 1209.91,373.23 1211.09,351.37 1212.26,335.62 1213.43,350.9 1214.6,373.62 1215.77,375.65 1216.94,370.95 1218.11,352.75 1219.29,340.27 1220.46,355.27 1221.63,366.32 1222.8,335.32 1223.97,317.64 1225.14,334.73 1226.31,360.44 1227.49,349.65 1228.66,336.64 1229.83,327.29 1231,223.77 1232.17,185.46 1233.34,223.76 1234.51,331.4 1235.69,352.04 1236.86,310.06 1238.03,291.14 1239.2,310.16 1240.37,343.87 1241.54,340.02 1242.71,352.33 1243.89,354.2 1245.06,342.7 1246.23,355.68 1247.4,374.03 1248.57,372.06 1249.74,349.08 1250.91,333.33 1252.09,347.96 1253.26,352.4 1254.43,339.42 1255.6,353.91 1256.77,375.45 1257.94,374.63 1259.11,363.55 1260.29,354.14 1261.46,364.76 1262.63,374.12 1263.8,366.58 1264.97,359.08 1266.14,368.74 1267.31,375.33 1268.49,354.53 1269.66,338.98 1270.83,352.86 1272,371.95 1273.17,374.87 1274.34,374.97 1275.51,374.46 1276.69,371.6 1277.86,349.18 1279.03,333.42 1280.2,349.97 1281.37,373.56 1282.54,371.05 1283.71,348.76 1284.89,333.44 1286.06,349.43 1287.23,375.27 1288.4,379.99 1289.57,375.44 1290.74,369.62 1291.91,374 1293.09,377.26 1294.26,379.37 1295.43,376.19 1296.6,358.72 1297.77,344.19 1298.94,357.78 1300.11,374.36 1301.29,373.54 1302.46,368.43 1303.63,373.43 1304.8,377.86 1305.97,375.55 1307.14,366.48 1308.31,356.16 1309.49,365.35 1310.66,376.15 1311.83,377.57 1313,374.64 1314.17,376.39 1315.34,377.16 1316.51,375.7 1317.69,377.09 1318.86,375.07 1320.03,375.1 1321.2,377.22 1322.37,377.89 1323.54,377.96 1324.71,381.68 1325.89,380.7 1327.06,376.84 1328.23,377.97 1329.4,376.81 1330.57,376.64 1331.74,378.3 1332.91,377.34 1334.09,379.73 1335.26,378.97 1336.43,379.52 1337.6,380.98 1338.77,377.94 1339.94,380.62 1341.11,380.52 1342.29,378.11 1343.46,379.71 1344.63,378.84 1345.8,379.29 1346.97,379.98 1348.14,380.42 1349.31,379.53 1350.49,378.27 1351.66,378.05 1352.83,378.84 1354,377.06 1355.17,377.38 1356.34,377.44 1357.51,379.64 1358.69,379.36 1359.86,375.03 1361.03,376.99 1362.2,375.54 1363.37,376.09 1364.54,378.06 1365.71,379.2 1366.89,378.47 1368.06,376.74 1369.23,378.26 1370.4,377.68 1371.57,378.52 1372.74,379.11 1373.91,379.76 1375.09,379.92 1376.26,376.82 1377.43,375.55 1378.6,376.95 1379.77,379.59 1380.94,380.14 1382.11,379.35 1383.29,377.43 1384.46,378.74 1385.63,379.19 1386.8,377.85 1387.97,377.46 1389.14,377.43 1390.31,377.39 1391.49,378.4 1392.66,376.3 1393.83,378.72 1395,379.36 1396.17,377.13 1397.34,379.18 1398.51,379.26 1399.69,378.97 1400.86,375.93 1402.03,375.67 1403.2,375.49 1404.37,378.23 1405.54,379.4 1406.71,374.84 1407.89,374.46 1409.06,377.1 1410.23,377.71 1411.4,379.41 1412.57,381.41 1413.74,380.71 1414.91,380.67 1416.09,378.82 1417.26,377.76 1418.43,375.77 1419.6,374.06 1420.77,375.79 1421.94,378.49 1423.11,378.61 1424.29,377.58 1425.46,383.17 1426.63,384.26 1427.8,381.67 1428.97,377.37 1430.14,366.42 1431.31,346.8 1432.49,363.55 1433.66,378.31 1434.83,381.68 1436,378.31 1437.17,350.99 1438.34,326.44 1439.51,351.41 1440.69,377.89 1441.86,376.77 1443.03,378.1 1444.2,379.35 1445.37,377.52 1446.54,376 1447.71,374.92 1448.89,375.85 1450.06,379.69 1451.23,376.29 1452.4,380.46 1453.57,377.26 1454.74,373.11 1455.91,375.91 1457.09,378.05 1458.26,379.64 1459.43,378.97 1460.6,376.92 1461.77,376.15 1462.94,375.66 1464.11,374.87 1465.29,379.17 1466.46,378.57 1467.63,379.91 1468.8,377.06 1469.97,377.87 1471.14,379.83 1472.31,379.41 1473.49,379.42 1474.66,378.95 1475.83,380.35 1477,377.24 1478.17,376.58 1479.34,377.93 1480.51,373.13 1481.69,365.08 1482.86,370.64 1484.03,376.1 1485.2,378.06 1486.37,378.3 1487.54,372.34 1488.71,375.79 1489.89,379.45 1491.06,380.53 1492.23,378.04 1493.4,374.85 1494.57,376.21 1495.74,380.7 1496.91,379.37 1498.09,378.87 1499.26,377.26 1500.43,378.18 1501.6,377.96 1502.77,377.83 1503.94,379.81 1505.11,382.05 1506.29,381.66 1507.46,378.51 1508.63,379.21 1509.8,378.7 1510.97,376.93 1512.14,376.73 1513.31,376.72 1514.49,378.46 1515.66,375.89 1516.83,376.11 1518,375.17 1519.17,373.02 1520.34,375.47 1521.51,377.41 1522.69,376.97 1523.86,376.8 1525.03,376.96 1526.2,377.73 1527.37,376.05 1528.54,375.54 1529.71,378.27 1530.89,377.21 1532.06,377.3 1533.23,376.86 1534.4,378.02"/>
<polyline fill="none" stroke="#d04444" stroke-width="1" stroke-linejoin="round" points="935.8,382.8 936.97,384.68 938.14,388.62 939.31,387.47 940.49,389.14 941.66,388.71 942.83,388.4 944,388.72 945.17,388.9 946.34,388.77 947.51,386.99 948.69,385.08 949.86,386.61 951.03,391.18 952.2,387.38 953.37,389.15 954.54,391.69 955.71,388.32 956.89,383.58 958.06,383.63 959.23,385.58 960.4,387.91 961.57,384.79 962.74,383.29 963.91,383.71 965.09,385.55 966.26,388.64 967.43,390.28 968.6,390.06 969.77,388.75 970.94,388.45 972.11,389.14 973.29,390.71 974.46,392.29 975.63,390.83 976.8,389.85 977.97,387.16 979.14,385.69 980.31,386.25 981.49,379.7 982.66,370.62 983.83,381.17 985,387.08 986.17,382 987.34,386.6 988.51,390.08 989.69,387.71 990.86,388.18 992.03,388.55 993.2,389.38 994.37,390.29 995.54,389.35 996.71,387.31 997.89,387.15 999.06,388.69 1000.23,389.27 1001.4,389.26 1002.57,390.65 1003.74,390.41 1004.91,391.32 1006.09,389.96 1007.26,387.28 1008.43,388.35 1009.6,390.87 1010.77,390.5 1011.94,389.48 1013.11,390.6 1014.29,388.41 1015.46,385.86 1016.63,386.69 1017.8,386.48 1018.97,387.03 1020.14,385.93 1021.31,387.56 1022.49,385.2 1023.66,386.84 1024.83,389.01 1026,389.73 1027.17,389.5 1028.34,388.76 1029.51,387.64 1030.69,376 1031.86,361.2 1033.03,377.71 1034.2,389.46 1035.37,388.32 1036.54,386.9 1037.71,389.32 1038.89,361.64 1040.06,335.67 1041.23,359.73 1042.4,387.29 1043.57,390.05 1044.74,389.82 1045.91,388.8 1047.09,390.52 1048.26,392.52 1049.43,390.95 1050.6,389.26 1051.77,388.75 1052.94,387.95 1054.11,386.26 1055.29,385.96 1056.46,389.44 1057.63,388.34 1058.8,388.67 1059.97,389.94 1061.14,391.12 1062.31,389.35 1063.49,392.06 1064.66,389.4 1065.83,385.48 1067,387.69 1068.17,387.99 1069.34,389.76 1070.51,390.35 1071.69,387.82 1072.86,387.45 1074.03,389.59 1075.2,390.81 1076.37,390.1 1077.54,389.61 1078.71,389.58 1079.89,387.54 1081.06,389.32 1082.23,390.2 1083.4,391.03 1084.57,391.11 1085.74,388.97 1086.91,389.34 1088.09,388.39 1089.26,385.38 1090.43,383.38 1091.6,384.37 1092.77,385.52 1093.94,390.8 1095.11,389.09 1096.29,387.84 1097.46,389.78 1098.63,388.92 1099.8,388.57 1100.97,386.35 1102.14,388.16 1103.31,387.68 1104.49,384.85 1105.66,388.28 1106.83,390.46 1108,388.99 1109.17,390.55 1110.34,391.28 1111.51,388.51 1112.69,388.23 1113.86,390.23 1115.03,388.68 1116.2,391.02 1117.37,389.3 1118.54,386.47 1119.71,387.75 1120.89,390.82 1122.06,390.73 1123.23,391.73 1124.4,392.16 1125.57,387.14 1126.74,384.61 1127.91,389.94 1129.09,392.53 1130.26,390.41 1131.43,387.85 1132.6,387.61 1133.77,388.56 1134.94,386.14 1136.11,386.22 1137.29,385.9 1138.46,383.61 1139.63,386.19 1140.8,387.53 1141.97,387.36 1143.14,388.42 1144.31,389.01 1145.49,390.76 1146.66,391.75 1147.83,388.57 1149,383.42 1150.17,387.45 1151.34,383.64 1152.51,376.9 1153.69,382.7 1154.86,388.55 1156.03,387.33 1157.2,386.13 1158.37,388.14 1159.54,387.82 1160.71,391.48 1161.89,389.36 1163.06,373.15 1164.23,361.52 1165.4,372.55 1166.57,386.89 1167.74,388.24 1168.91,389.14 1170.09,389.99 1171.26,387.77 1172.43,387.59 1173.6,387.73 1174.77,388.4 1175.94,363.78 1177.11,346.87 1178.29,362.32 1179.46,385.49 1180.63,384.47 1181.8,362.44 1182.97,347.35 1184.14,362.88 1185.31,382.92 1186.49,387.25 1187.66,388.81 1188.83,389.72 1190,388.4 1191.17,361.73 1192.34,345.94 1193.51,360.99 1194.69,371.19 1195.86,361.01 1197.03,352.3 1198.2,339.53 1199.37,355.84 1200.54,382.83 1201.71,386.97 1202.89,386.83 1204.06,382.71 1205.23,374.84 1206.4,369.4 1207.57,379.02 1208.74,387.99 1209.91,383.93 1211.09,356.33 1212.26,340.77 1213.43,357.98 1214.6,384.19 1215.77,384.89 1216.94,379.84 1218.11,351.68 1219.29,335.03 1220.46,351.42 1221.63,376.17 1222.8,352.19 1223.97,335.66 1225.14,351.44 1226.31,373.38 1227.49,363.71 1228.66,351.97 1229.83,340.84 1231,237.5 1232.17,199.2 1233.34,237.5 1234.51,344.15 1235.69,370.51 1236.86,344.81 1238.03,328.17 1239.2,345.45 1240.37,362.32 1241.54,351.38 1242.71,362.97 1243.89,354.93 1245.06,339.98 1246.23,355.96 1247.4,382.34 1248.57,383.33 1249.74,356.89 1250.91,341.06 1252.09,357.73 1253.26,376.34 1254.43,369.63 1255.6,378.03 1256.77,387.15 1257.94,387.5 1259.11,381.5 1260.29,378.07 1261.46,386.09 1262.63,390.03 1263.8,380.24 1264.97,369.92 1266.14,378.17 1267.31,384.38 1268.49,359.53 1269.66,343.79 1270.83,359.46 1272,383.75 1273.17,388.23 1274.34,385.61 1275.51,385.38 1276.69,387.04 1277.86,372.79 1279.03,360.77 1280.2,372.93 1281.37,384.76 1282.54,381.92 1283.71,359.94 1284.89,345.31 1286.06,361.26 1287.23,385.38 1288.4,389.8 1289.57,386.77 1290.74,384.72 1291.91,386.41 1293.09,387.07 1294.26,388.44 1295.43,388.81 1296.6,376.25 1297.77,366.56 1298.94,377.74 1300.11,386.93 1301.29,385.62 1302.46,387.81 1303.63,387.34 1304.8,386.69 1305.97,385.02 1307.14,372.63 1308.31,360.73 1309.49,373.43 1310.66,387.97 1311.83,385.06 1313,376.02 1314.17,367.54 1315.34,379.67 1316.51,388.98 1317.69,386.34 1318.86,387.05 1320.03,390.54 1321.2,394.31 1322.37,390.94 1323.54,389.02 1324.71,387.12 1325.89,388.02 1327.06,387.24 1328.23,386.63 1329.4,389.67 1330.57,391.48 1331.74,390.31 1332.91,386.93 1334.09,384.24 1335.26,386.27 1336.43,387.86 1337.6,385.26 1338.77,387.55 1339.94,387.93 1341.11,387.88 1342.29,387.1 1343.46,389.02 1344.63,388.16 1345.8,386.8 1346.97,387.95 1348.14,388.01 1349.31,388.67 1350.49,390.67 1351.66,389.36 1352.83,390.37 1354,390.21 1355.17,389.88 1356.34,388.97 1357.51,387.68 1358.69,388.62 1359.86,387.52 1361.03,388.44 1362.2,389.68 1363.37,389.64 1364.54,388.49 1365.71,388.5 1366.89,389.67 1368.06,388.79 1369.23,388.94 1370.4,388.82 1371.57,388.92 1372.74,389.49 1373.91,385.85 1375.09,385.36 1376.26,386.16 1377.43,389.28 1378.6,390.01 1379.77,388.81 1380.94,387.09 1382.11,389.17 1383.29,387.76 1384.46,389.01 1385.63,390.25 1386.8,390.55 1387.97,387.23 1389.14,385.2 1390.31,386.86 1391.49,390.3 1392.66,392.43 1393.83,389.94 1395,388.65 1396.17,390.45 1397.34,389.37 1398.51,390.68 1399.69,392.17 1400.86,390.87 1402.03,387.1 1403.2,389.19 1404.37,391.71 1405.54,391.83 1406.71,393.82 1407.89,393.73 1409.06,392.32 1410.23,388.29 1411.4,386.86 1412.57,388.57 1413.74,387.43 1414.91,388.7 1416.09,386.32 1417.26,384.42 1418.43,387.64 1419.6,390.63 1420.77,393.73 1421.94,390.62 1423.11,389.62 1424.29,388.38 1425.46,387.21 1426.63,387.89 1427.8,388.66 1428.97,387.38 1430.14,370.36 1431.31,351.44 1432.49,371.57 1433.66,389.17 1434.83,389.72 1436,386.19 1437.17,355.29 1438.34,329.33 1439.51,355.78 1440.69,386.26 1441.86,384.39 1443.03,386.45 1444.2,388.25 1445.37,389.58 1446.54,388.82 1447.71,391.86 1448.89,381.97 1450.06,388.21 1451.23,384.81 1452.4,386.6 1453.57,390.37 1454.74,391.99 1455.91,390.18 1457.09,393.08 1458.26,393.34 1459.43,390.35 1460.6,390.27 1461.77,392.53 1462.94,391.48 1464.11,389.55 1465.29,389.64 1466.46,388.43 1467.63,386.7 1468.8,384.96 1469.97,384.52 1471.14,386.47 1472.31,388.45 1473.49,387.7 1474.66,384.58 1475.83,387.6 1477,389.75 1478.17,389.5 1479.34,385.77 1480.51,381.08 1481.69,374.31 1482.86,385.61 1484.03,391.44 1485.2,389.91 1486.37,388.3 1487.54,386.84 1488.71,388.52 1489.89,387.29 1491.06,385.57 1492.23,386.29 1493.4,386.11 1494.57,384.46 1495.74,386.93 1496.91,388.04 1498.09,391.32 1499.26,391.75 1500.43,390.69 1501.6,391.33 1502.77,392.49 1503.94,391.22 1505.11,390.42 1506.29,390.71 1507.46,388.05 1508.63,388.15 1509.8,387.56 1510.97,388.87 1512.14,389.86 1513.31,389.4 1514.49,389.34 1515.66,389.64 1516.83,388.49 1518,387.84 1519.17,384.66 1520.34,385.25 1521.51,388.11 1522.69,386.75 1523.86,387.46 1525.03,387.78 1526.2,387 1527.37,390.29 1528.54,389.76 1529.71,388.09 1530.89,387.52 1532.06,389.44 1533.23,388.9 1534.4,388.21"/>
<polyline fill="none" stroke="#3030b0" stroke-width="1" stroke-linejoin="round" points="935.8,398.06 936.97,397.17 938.14,396.01 939.31,396.43 940.49,396.98 941.66,397.13 942.83,398.03 944,397.23 945.17,397.85 946.34,398.49 947.51,401.52 948.69,398.78 949.86,399.01 951.03,403 952.2,399.17 953.37,397.56 954.54,397.11 955.71,398.05 956.89,399.71 958.06,400.88 959.23,402.74 960.4,401.42 961.57,398.35 962.74,399.59 963.91,400.66 965.09,400.57 966.26,399.82 967.43,396.21 968.6,398.27 969.77,398.16 970.94,399.58 972.11,400.1 973.29,401.12 974.46,397.3 975.63,397.35 976.8,397.68 977.97,397.7 979.14,399.11 980.31,399.89 981.49,393.71 982.66,385.03 983.83,393.41 985,395.03 986.17,384.56 987.34,393.44 988.51,397.25 989.69,397.84 990.86,398.67 992.03,398.54 993.2,402.91 994.37,400.12 995.54,397.17 996.71,399.79 997.89,401.24 999.06,399.3 1000.23,398.16 1001.4,397.15 1002.57,397.94 1003.74,399.9 1004.91,398.74 1006.09,399.15 1007.26,401.42 1008.43,399.62 1009.6,397.06 1010.77,396.21 1011.94,396.74 1013.11,396.19 1014.29,397.09 1015.46,401.6 1016.63,400.44 1017.8,397.39 1018.97,396.3 1020.14,396.88 1021.31,397.81 1022.49,400.52 1023.66,402.62 1024.83,401.17 1026,397.51 1027.17,396.21 1028.34,397.5 1029.51,398.65 1030.69,379.87 1031.86,358.23 1033.03,381.15 1034.2,400.86 1035.37,399.58 1036.54,399.72 1037.71,396.99 1038.89,374.87 1040.06,351.96 1041.23,374.47 1042.4,398.07 1043.57,399.93 1044.74,399.45 1045.91,396.92 1047.09,399.75 1048.26,401.75 1049.43,400.11 1050.6,398.41 1051.77,398.1 1052.94,399 1054.11,398.33 1055.29,396.23 1056.46,397.12 1057.63,400.34 1058.8,402.74 1059.97,401.97 1061.14,397.28 1062.31,396.32 1063.49,396.6 1064.66,398.57 1065.83,401.32 1067,398.12 1068.17,399.74 1069.34,399.49 1070.51,401.26 1071.69,401.79 1072.86,400.35 1074.03,398.1 1075.2,397.39 1076.37,398.94 1077.54,401.29 1078.71,400.09 1079.89,399.52 1081.06,397.61 1082.23,396.81 1083.4,398.93 1084.57,396.21 1085.74,398.17 1086.91,400.06 1088.09,399.4 1089.26,400.38 1090.43,399.62 1091.6,399.06 1092.77,397.95 1093.94,396.58 1095.11,395.71 1096.29,396.79 1097.46,397.23 1098.63,396.11 1099.8,398.98 1100.97,403.44 1102.14,403.29 1103.31,400.73 1104.49,397.73 1105.66,398.57 1106.83,401.1 1108,398.56 1109.17,398.87 1110.34,399.72 1111.51,399.07 1112.69,399.57 1113.86,402.18 1115.03,404.32 1116.2,402.09 1117.37,400.73 1118.54,397.91 1119.71,397.34 1120.89,401.42 1122.06,401.15 1123.23,398.73 1124.4,397.77 1125.57,399.47 1126.74,401.82 1127.91,398.23 1129.09,399.15 1130.26,400.06 1131.43,393.79 1132.6,396.33 1133.77,398.84 1134.94,398.57 1136.11,399.18 1137.29,399.94 1138.46,400.42 1139.63,399.75 1140.8,401.88 1141.97,402.6 1143.14,401.49 1144.31,400.2 1145.49,398.7 1146.66,399.31 1147.83,398.39 1149,398.21 1150.17,400.99 1151.34,398.01 1152.51,394.83 1153.69,394.97 1154.86,398.31 1156.03,390.48 1157.2,380.27 1158.37,386.54 1159.54,395.97 1160.71,399.09 1161.89,396.99 1163.06,382.75 1164.23,369.06 1165.4,381.7 1166.57,396.87 1167.74,395.19 1168.91,398.44 1170.09,398.04 1171.26,397.75 1172.43,399.49 1173.6,400.25 1174.77,400.08 1175.94,390.89 1177.11,379.97 1178.29,387.43 1179.46,396.06 1180.63,397.72 1181.8,376.51 1182.97,360.77 1184.14,373.48 1185.31,382.77 1186.49,391.28 1187.66,397.92 1188.83,397.03 1190,397.76 1191.17,376.76 1192.34,361.76 1193.51,376.49 1194.69,390.26 1195.86,384.83 1197.03,386.67 1198.2,384.73 1199.37,392.49 1200.54,400.26 1201.71,401.29 1202.89,400.97 1204.06,402.33 1205.23,386.61 1206.4,374.67 1207.57,385.96 1208.74,397.17 1209.91,397.26 1211.09,373.45 1212.26,357.55 1213.43,372.75 1214.6,397.12 1215.77,401.1 1216.94,395.05 1218.11,361.48 1219.29,343.5 1220.46,360.18 1221.63,384.53 1222.8,364.74 1223.97,349.67 1225.14,365.31 1226.31,381.94 1227.49,358.32 1228.66,342.08 1229.83,342.43 1231,243.93 1232.17,205.62 1233.34,243.93 1234.51,351.96 1235.69,377.49 1236.86,345.63 1238.03,327.93 1239.2,346.22 1240.37,373.05 1241.54,367.28 1242.71,378.86 1243.89,378.83 1245.06,367.51 1246.23,379.63 1247.4,392.64 1248.57,391.11 1249.74,365.21 1250.91,348.82 1252.09,365.29 1253.26,380.15 1254.43,370.43 1255.6,383.02 1256.77,399.16 1257.94,400.08 1259.11,388.38 1260.29,378.01 1261.46,387.74 1262.63,399.01 1263.8,394.91 1264.97,389.33 1266.14,395.88 1267.31,398.21 1268.49,383.73 1269.66,371.68 1270.83,383.18 1272,394.77 1273.17,386.25 1274.34,377.97 1275.51,388.07 1276.69,395.93 1277.86,378.09 1279.03,362.58 1280.2,377.95 1281.37,396.22 1282.54,393.43 1283.71,367 1284.89,351.05 1286.06,367.67 1287.23,393.07 1288.4,397.82 1289.57,400.35 1290.74,398.02 1291.91,399.3 1293.09,399.5 1294.26,400.48 1295.43,399.78 1296.6,387.26 1297.77,375.86 1298.94,386.72 1300.11,396.58 1301.29,396.03 1302.46,389.81 1303.63,393.72 1304.8,398.32 1305.97,396.08 1307.14,376.49 1308.31,363.2 1309.49,377.46 1310.66,396.22 1311.83,397.17 1313,390.98 1314.17,380.66 1315.34,390.19 1316.51,398.49 1317.69,399.19 1318.86,396.1 1320.03,396.29 1321.2,399.84 1322.37,401.27 1323.54,399.49 1324.71,401.16 1325.89,400.42 1327.06,396.19 1328.23,393.72 1329.4,394.45 1330.57,398.69 1331.74,399.75 1332.91,400.87 1334.09,399.43 1335.26,399.89 1336.43,395.85 1337.6,396.07 1338.77,398.71 1339.94,401.2 1341.11,399.83 1342.29,398.24 1343.46,399.29 1344.63,400.15 1345.8,400.8 1346.97,400.99 1348.14,401.21 1349.31,401.4 1350.49,401.65 1351.66,399.85 1352.83,400.1 1354,397.32 1355.17,395.37 1356.34,396.04 1357.51,398.41 1358.69,397.62 1359.86,396.38 1361.03,399.23 1362.2,400.25 1363.37,399.27 1364.54,400.03 1365.71,399.54 1366.89,400.8 1368.06,399.29 1369.23,401.01 1370.4,399.06 1371.57,396.79 1372.74,397.8 1373.91,399.88 1375.09,399.42 1376.26,397.67 1377.43,398.6 1378.6,401.58 1379.77,400.83 1380.94,399.16 1382.11,397.82 1383.29,396.49 1384.46,399.22 1385.63,397.79 1386.8,398.5 1387.97,399.18 1389.14,398.72 1390.31,396.7 1391.49,397.24 1392.66,400.25 1393.83,400.35 1395,398.84 1396.17,399.4 1397.34,398.42 1398.51,396.33 1399.69,397.23 1400.86,396.51 1402.03,395.94 1403.2,397.55 1404.37,397.21 1405.54,396.09 1406.71,395.83 1407.89,399.09 1409.06,402.66 1410.23,400.82 1411.4,399.51 1412.57,399.54 1413.74,399.49 1414.91,398.01 1416.09,397.36 1417.26,396.9 1418.43,398.18 1419.6,397.44 1420.77,397.37 1421.94,397.59 1423.11,400.44 1424.29,400.3 1425.46,397.52 1426.63,397.51 1427.8,399.2 1428.97,398.4 1430.14,383.76 1431.31,364.45 1432.49,383.76 1433.66,398.78 1434.83,400.03 1436,397.14 1437.17,370.07 1438.34,344.74 1439.51,369.91 1440.69,398.82 1441.86,399.75 1443.03,399.98 1444.2,398.33 1445.37,399.35 1446.54,400.12 1447.71,400.63 1448.89,401.38 1450.06,400.26 1451.23,396.68 1452.4,396.93 1453.57,399.82 1454.74,398.36 1455.91,397.39 1457.09,397.58 1458.26,399.39 1459.43,397.69 1460.6,397.7 1461.77,398.41 1462.94,397.82 1464.11,395.28 1465.29,399.99 1466.46,401.73 1467.63,399.22 1468.8,398.94 1469.97,399.11 1471.14,399.87 1472.31,402.32 1473.49,401.77 1474.66,398.84 1475.83,397.29 1477,399.12 1478.17,398.8 1479.34,396.57 1480.51,396.95 1481.69,394.15 1482.86,397.3 1484.03,399.28 1485.2,399 1486.37,392.49 1487.54,386.85 1488.71,397.46 1489.89,402.45 1491.06,401.25 1492.23,398.52 1493.4,398.14 1494.57,399.45 1495.74,400.17 1496.91,399.65 1498.09,400.67 1499.26,401.09 1500.43,401.9 1501.6,400.3 1502.77,400.1 1503.94,399.06 1505.11,399.3 1506.29,399.47 1507.46,399.38 1508.63,399.39 1509.8,398.08 1510.97,399.08 1512.14,398.28 1513.31,399.31 1514.49,401.04 1515.66,400.72 1516.83,400.79 1518,399.88 1519.17,401.09 1520.34,401.69 1521.51,401.48 1522.69,399.74 1523.86,400.61 1525.03,401.99 1526.2,401.74 1527.37,397.41 1528.54,396.45 1529.71,396.43 1530.89,396.75 1532.06,397.16 1533.23,399.04 1534.4,399.16"/>
<polyline fill="none" stroke="#1e1e1e" stroke-width="1" stroke-linejoin="round" points="935.8,406.61 936.97,404.09 938.14,406.38 939.31,411.22 940.49,410.06 941.66,410.66 942.83,409.95 944,408.95 945.17,410.75 946.34,409.49 947.51,407.88 948.69,407.31 949.86,408.49 951.03,410.29 952.2,409.81 953.37,408.7 954.54,406.13 955.71,409.73 956.89,411.45 958.06,409.33 959.23,408.21 960.4,409.24 961.57,408.33 962.74,409.99 963.91,409.67 965.09,411.75 966.26,411.56 967.43,410.6 968.6,410.76 969.77,407.14 970.94,407.35 972.11,409.78 973.29,408.06 974.46,405.62 975.63,408.68 976.8,411.05 977.97,410.77 979.14,409.21 980.31,409.69 981.49,403 982.66,394.25 983.83,401.45 985,403.63 986.17,398.34 987.34,404.43 988.51,408.56 989.69,409.04 990.86,409.78 992.03,410.87 993.2,409.25 994.37,406.55 995.54,409.99 996.71,410.57 997.89,409.97 999.06,410.9 1000.23,411.31 1001.4,410.6 1002.57,410.59 1003.74,411.77 1004.91,412.14 1006.09,411.34 1007.26,409.46 1008.43,405.82 1009.6,405.99 1010.77,410.02 1011.94,409.5 1013.11,408.46 1014.29,411.91 1015.46,412.54 1016.63,409.15 1017.8,410.3 1018.97,408.08 1020.14,406.93 1021.31,407.35 1022.49,408.1 1023.66,409.2 1024.83,405.81 1026,406.07 1027.17,408.21 1028.34,409.46 1029.51,406.68 1030.69,393.11 1031.86,372.55 1033.03,392.57 1034.2,410.52 1035.37,409.97 1036.54,411.27 1037.71,411.67 1038.89,381.06 1040.06,355.6 1041.23,381 1042.4,409 1043.57,408.48 1044.74,409.38 1045.91,410.79 1047.09,410.72 1048.26,410.67 1049.43,412.2 1050.6,411.84 1051.77,412.61 1052.94,411.39 1054.11,408.06 1055.29,407.84 1056.46,407.42 1057.63,408.83 1058.8,410.14 1059.97,410.41 1061.14,411.95 1062.31,408.54 1063.49,406 1064.66,408.2 1065.83,407.32 1067,408.06 1068.17,408.58 1069.34,406.9 1070.51,407.99 1071.69,411.95 1072.86,410.52 1074.03,410.86 1075.2,409.97 1076.37,410.58 1077.54,410.75 1078.71,410.43 1079.89,409.61 1081.06,409.87 1082.23,411.17 1083.4,410.52 1084.57,408.59 1085.74,412.61 1086.91,411.52 1088.09,413.34 1089.26,413.48 1090.43,412.83 1091.6,412.98 1092.77,413.07 1093.94,412.82 1095.11,409.43 1096.29,408.98 1097.46,408.34 1098.63,409.24 1099.8,412.09 1100.97,410.8 1102.14,410.66 1103.31,410.61 1104.49,407.4 1105.66,408.24 1106.83,409.59 1108,411.72 1109.17,411.74 1110.34,410.46 1111.51,410.35 1112.69,410.37 1113.86,409.6 1115.03,407.4 1116.2,408.66 1117.37,410.05 1118.54,409.8 1119.71,409.06 1120.89,409.58 1122.06,411.1 1123.23,412.1 1124.4,411.78 1125.57,409.68 1126.74,408.59 1127.91,408.98 1129.09,406.35 1130.26,409.76 1131.43,409.88 1132.6,410.15 1133.77,411.22 1134.94,405.26 1136.11,398.93 1137.29,403.88 1138.46,408.77 1139.63,407.96 1140.8,411.07 1141.97,411.18 1143.14,410.33 1144.31,410.3 1145.49,410.19 1146.66,405.16 1147.83,397.19 1149,391.17 1150.17,400.48 1151.34,412.61 1152.51,410.09 1153.69,409.31 1154.86,407.06 1156.03,403.3 1157.2,397.13 1158.37,404.65 1159.54,410.96 1160.71,411.14 1161.89,409.67 1163.06,392.71 1164.23,381.14 1165.4,393.74 1166.57,407.44 1167.74,406.79 1168.91,407.66 1170.09,409.97 1171.26,409.96 1172.43,408.4 1173.6,406.94 1174.77,408.86 1175.94,401.78 1177.11,394.54 1178.29,404.19 1179.46,411.1 1180.63,406.6 1181.8,386.79 1182.97,372.49 1184.14,383.71 1185.31,391.83 1186.49,401.54 1187.66,410.22 1188.83,408.45 1190,404.58 1191.17,387.8 1192.34,374.72 1193.51,388.87 1194.69,392.29 1195.86,380.19 1197.03,380.53 1198.2,373.09 1199.37,386.45 1200.54,406.89 1201.71,408.28 1202.89,407.88 1204.06,406.33 1205.23,392.69 1206.4,379.87 1207.57,392.83 1208.74,411.65 1209.91,409.25 1211.09,384.24 1212.26,367.94 1213.43,383.01 1214.6,404.35 1215.77,407.28 1216.94,402.63 1218.11,374.05 1219.29,357.01 1220.46,373.4 1221.63,393.14 1222.8,358.97 1223.97,340.81 1225.14,358.81 1226.31,392.53 1227.49,382.33 1228.66,368.73 1229.83,360.41 1231,258.4 1232.17,220.11 1233.34,258.4 1234.51,364.83 1235.69,391.22 1236.86,368.45 1238.03,352.64 1239.2,368.63 1240.37,383.63 1241.54,375.47 1242.71,385.97 1243.89,377.24 1245.06,362.99 1246.23,378.9 1247.4,403.58 1248.57,409.34 1249.74,392.14 1250.91,377.98 1252.09,390.59 1253.26,395.26 1254.43,384.93 1255.6,393.37 1256.77,406.11 1257.94,406.75 1259.11,405.56 1260.29,400.31 1261.46,405.92 1262.63,409.73 1263.8,402.05 1264.97,395.28 1266.14,403.24 1267.31,406.62 1268.49,384.49 1269.66,369.16 1270.83,384.95 1272,406.77 1273.17,401.74 1274.34,394.49 1275.51,400.48 1276.69,403.91 1277.86,385.35 1279.03,371.05 1280.2,386.63 1281.37,408.75 1282.54,411.77 1283.71,391.01 1284.89,376.47 1286.06,390.69 1287.23,408.6 1288.4,413.4 1289.57,408.43 1290.74,404.16 1291.91,409.23 1293.09,411.45 1294.26,406.88 1295.43,405.99 1296.6,392.9 1297.77,379.15 1298.94,391.32 1300.11,405.81 1301.29,395.78 1302.46,385.09 1303.63,395.25 1304.8,406.31 1305.97,405.5 1307.14,387.68 1308.31,372.79 1309.49,387.18 1310.66,405.13 1311.83,405.39 1313,408.36 1314.17,409.82 1315.34,408.68 1316.51,407.51 1317.69,409.03 1318.86,409.26 1320.03,409.11 1321.2,412.76 1322.37,412.53 1323.54,409.53 1324.71,406.68 1325.89,406.51 1327.06,406.56 1328.23,407.02 1329.4,408.27 1330.57,407.94 1331.74,407.31 1332.91,411.74 1334.09,409.82 1335.26,408.15 1336.43,408.68 1337.6,408.02 1338.77,408.27 1339.94,408.99 1341.11,407.55 1342.29,410.14 1343.46,410.99 1344.63,412.45 1345.8,413.33 1346.97,411.57 1348.14,409.14 1349.31,410.89 1350.49,408.47 1351.66,409.9 1352.83,412.58 1354,410.92 1355.17,412.24 1356.34,411.83 1357.51,411.95 1358.69,410.85 1359.86,413.29 1361.03,412.91 1362.2,409.21 1363.37,406.5 1364.54,409.89 1365.71,410.86 1366.89,410.34 1368.06,410.77 1369.23,408.68 1370.4,407.28 1371.57,408.49 1372.74,409.72 1373.91,408.88 1375.09,408.46 1376.26,410.15 1377.43,407.08 1378.6,409.6 1379.77,410.64 1380.94,408.01 1382.11,410.07 1383.29,411.74 1384.46,408.46 1385.63,410.34 1386.8,409.07 1387.97,407.86 1389.14,409.77 1390.31,410.05 1391.49,411.28 1392.66,409.51 1393.83,411 1395,409.87 1396.17,409.21 1397.34,409.37 1398.51,408.19 1399.69,408.64 1400.86,409.08 1402.03,409.91 1403.2,408.96 1404.37,411.95 1405.54,411.21 1406.71,410.71 1407.89,411.02 1409.06,410.01 1410.23,410.88 1411.4,409.03 1412.57,408.58 1413.74,407.61 1414.91,403.85 1416.09,406.09 1417.26,407.46 1418.43,410.31 1419.6,412.91 1420.77,413.19 1421.94,411.07 1423.11,412.06 1424.29,410.41 1425.46,408.24 1426.63,406.62 1427.8,407.29 1428.97,408.79 1430.14,397.91 1431.31,381.47 1432.49,398.24 1433.66,408.94 1434.83,410.5 1436,409.28 1437.17,380.64 1438.34,355.65 1439.51,380.85 1440.69,410.6 1441.86,413.03 1443.03,411.01 1444.2,414.47 1445.37,413.9 1446.54,410.36 1447.71,407.88 1448.89,406.33 1450.06,405.85 1451.23,409.07 1452.4,407.01 1453.57,407.08 1454.74,407.59 1455.91,406.67 1457.09,408.97 1458.26,410.73 1459.43,409.67 1460.6,408.96 1461.77,408.94 1462.94,408.08 1464.11,406.68 1465.29,408.12 1466.46,410.7 1467.63,410.85 1468.8,409.12 1469.97,410 1471.14,411.59 1472.31,409.65 1473.49,408.79 1474.66,408.89 1475.83,409.39 1477,408.95 1478.17,407.3 1479.34,407.06 1480.51,402.61 1481.69,394.96 1482.86,403.26 1484.03,408.32 1485.2,406 1486.37,401.28 1487.54,397.31 1488.71,405.01 1489.89,409.57 1491.06,408.13 1492.23,407.24 1493.4,408.73 1494.57,409.57 1495.74,411.02 1496.91,413.07 1498.09,410.54 1499.26,409.26 1500.43,412.07 1501.6,409.4 1502.77,409.2 1503.94,411.58 1505.11,410.3 1506.29,409.49 1507.46,411.74 1508.63,410.71 1509.8,408.91 1510.97,406.57 1512.14,410.22 1513.31,409.89 1514.49,409.47 1515.66,411.14 1516.83,410.29 1518,413.06 1519.17,412.61 1520.34,412.4 1521.51,411.2 1522.69,408.42 1523.86,408.57 1525.03,410.54 1526.2,411.74 1527.37,410.98 1528.54,410.06 1529.71,410.85 1530.89,411.35 1532.06,409.81 1533.23,409.68 1534.4,409.65"/>
<polyline fill="none" stroke="#5ad65a" stroke-width="1" stroke-linejoin="round" points="935.8,417.35 936.97,414.65 938.14,414.55 939.31,418.11 940.49,419.95 941.66,418.25 942.83,418.11 944,420.34 945.17,420.05 946.34,419.6 947.51,419.44 948.69,419.84 949.86,420.82 951.03,419.8 952.2,423.72 953.37,423.65 954.54,419.54 955.71,418.21 956.89,419.44 958.06,418.46 959.23,416.6 960.4,416.03 961.57,419.24 962.74,419.7 963.91,420.19 965.09,419.81 966.26,418.74 967.43,418.09 968.6,420.9 969.77,421.65 970.94,419.71 972.11,419 973.29,416.4 974.46,417.95 975.63,419.36 976.8,417.64 977.97,422.65 979.14,420.64 980.31,419.05 981.49,414.08 982.66,407.13 983.83,415.38 985,414.21 986.17,407.2 987.34,413.18 988.51,418.24 989.69,420.68 990.86,421.91 992.03,418.81 993.2,416.19 994.37,419.06 995.54,420.94 996.71,419.11 997.89,420.78 999.06,421.18 1000.23,418.03 1001.4,418.51 1002.57,420.8 1003.74,421.15 1004.91,420.31 1006.09,417.86 1007.26,417.96 1008.43,419.53 1009.6,419.41 1010.77,419.56 1011.94,417 1013.11,416.49 1014.29,416.37 1015.46,414.61 1016.63,417.18 1017.8,416.65 1018.97,417.32 1020.14,420.27 1021.31,420.37 1022.49,418.46 1023.66,420.45 1024.83,420.96 1026,423.62 1027.17,423.09 1028.34,420.73 1029.51,421.69 1030.69,402.44 1031.86,380.07 1033.03,402.26 1034.2,421.92 1035.37,421.74 1036.54,422.68 1037.71,420.63 1038.89,388.57 1040.06,363.13 1041.23,389.15 1042.4,419.93 1043.57,421.16 1044.74,419.32 1045.91,421.67 1047.09,419.5 1048.26,418.95 1049.43,419.74 1050.6,419.49 1051.77,417.88 1052.94,418.46 1054.11,420.28 1055.29,421.14 1056.46,420.86 1057.63,419.18 1058.8,421.78 1059.97,422.61 1061.14,421.53 1062.31,423.01 1063.49,420.09 1064.66,417.41 1065.83,417.29 1067,418.4 1068.17,418.82 1069.34,418.53 1070.51,419.76 1071.69,420.52 1072.86,420.26 1074.03,419.8 1075.2,423.34 1076.37,420.44 1077.54,418.06 1078.71,417.97 1079.89,418.93 1081.06,419.36 1082.23,419.19 1083.4,416.11 1084.57,417.36 1085.74,421.39 1086.91,419.54 1088.09,417.45 1089.26,418 1090.43,419.58 1091.6,421.14 1092.77,421.87 1093.94,419.19 1095.11,418.45 1096.29,417.87 1097.46,419.45 1098.63,421.97 1099.8,421.78 1100.97,420.87 1102.14,421.89 1103.31,419.43 1104.49,416.3 1105.66,415.08 1106.83,416.59 1108,421.07 1109.17,420.11 1110.34,419.59 1111.51,422.48 1112.69,420.12 1113.86,418.94 1115.03,421.27 1116.2,421.96 1117.37,422.26 1118.54,420.42 1119.71,420.68 1120.89,418.26 1122.06,419.11 1123.23,425.68 1124.4,425.53 1125.57,422.32 1126.74,421.63 1127.91,421.34 1129.09,422.73 1130.26,420.43 1131.43,417.83 1132.6,419.9 1133.77,419.11 1134.94,412.81 1136.11,405.92 1137.29,413.83 1138.46,419.5 1139.63,418.25 1140.8,417.98 1141.97,417.1 1143.14,413.02 1144.31,416.89 1145.49,418.97 1146.66,422.85 1147.83,421 1149,418.93 1150.17,418.74 1151.34,418 1152.51,417.28 1153.69,418.09 1154.86,419.65 1156.03,411.92 1157.2,405.68 1158.37,414.01 1159.54,420.07 1160.71,420.46 1161.89,417.82 1163.06,401.98 1164.23,390.64 1165.4,403.92 1166.57,417.8 1167.74,419.04 1168.91,420.08 1170.09,418.3 1171.26,421.37 1172.43,423.45 1173.6,418.8 1174.77,417.94 1175.94,404.88 1177.11,392.6 1178.29,405.41 1179.46,419.49 1180.63,417.24 1181.8,392.62 1182.97,376.56 1184.14,389.66 1185.31,401.75 1186.49,413.15 1187.66,418.57 1188.83,418.16 1190,417.63 1191.17,394.33 1192.34,378.62 1193.51,394.36 1194.69,408.99 1195.86,398.8 1197.03,396.82 1198.2,391.77 1199.37,404.44 1200.54,416.99 1201.71,417.59 1202.89,418.9 1204.06,417.8 1205.23,405.17 1206.4,395 1207.57,407.25 1208.74,419.96 1209.91,416.4 1211.09,390.38 1212.26,373.93 1213.43,389.99 1214.6,414.32 1215.77,417.15 1216.94,415.53 1218.11,396.45 1219.29,382.25 1220.46,395.43 1221.63,406.35 1222.8,366.76 1223.97,347.78 1225.14,366.13 1226.31,401.61 1227.49,394.15 1228.66,382.07 1229.83,373.8 1231,272.27 1232.17,233.98 1233.34,272.27 1234.51,377.92 1235.69,398.37 1236.86,364.66 1238.03,346.67 1239.2,364.73 1240.37,385.96 1241.54,375.13 1242.71,389.91 1243.89,387.32 1245.06,372.26 1246.23,389.03 1247.4,414.15 1248.57,414.47 1249.74,393.42 1250.91,378.53 1252.09,393.2 1253.26,395.88 1254.43,384.27 1255.6,398.81 1256.77,416.67 1257.94,416.47 1259.11,410.56 1260.29,403.01 1261.46,411.28 1262.63,417.18 1263.8,407.46 1264.97,395.22 1266.14,406.8 1267.31,417.21 1268.49,399.81 1269.66,385.45 1270.83,399.33 1272,415.46 1273.17,411.13 1274.34,403.13 1275.51,411.7 1276.69,415.19 1277.86,384.25 1279.03,366.44 1280.2,383.66 1281.37,415.25 1282.54,413.54 1283.71,394.24 1284.89,379.08 1286.06,394.41 1287.23,415.86 1288.4,419 1289.57,415.62 1290.74,409.38 1291.91,414.71 1293.09,419.1 1294.26,416.42 1295.43,417.67 1296.6,401.68 1297.77,387.28 1298.94,400.69 1300.11,417.46 1301.29,412.08 1302.46,403.58 1303.63,412.81 1304.8,422.15 1305.97,421.07 1307.14,407.05 1308.31,394.11 1309.49,405.09 1310.66,419.03 1311.83,420.17 1313,411.14 1314.17,405.38 1315.34,415.91 1316.51,422.11 1317.69,420.07 1318.86,418.71 1320.03,418.79 1321.2,419.51 1322.37,418.61 1323.54,420.58 1324.71,421.29 1325.89,419.73 1327.06,419.56 1328.23,417.9 1329.4,416.81 1330.57,416.8 1331.74,418.28 1332.91,419.92 1334.09,420.44 1335.26,421.26 1336.43,419.59 1337.6,418.62 1338.77,419.12 1339.94,420.29 1341.11,419.22 1342.29,417.85 1343.46,418.54 1344.63,419.67 1345.8,420.65 1346.97,421.07 1348.14,419.87 1349.31,416.31 1350.49,418.04 1351.66,419.22 1352.83,418.94 1354,418.9 1355.17,420.64 1356.34,419.56 1357.51,419.35 1358.69,418.88 1359.86,419.28 1361.03,418.75 1362.2,418.32 1363.37,420.25 1364.54,423.04 1365.71,423.96 1366.89,423.09 1368.06,422.18 1369.23,423.58 1370.4,421.7 1371.57,419.94 1372.74,419.41 1373.91,421.76 1375.09,425.25 1376.26,423.85 1377.43,421.8 1378.6,420.27 1379.77,421.91 1380.94,424.1 1382.11,423.09 1383.29,423.04 1384.46,421.6 1385.63,422.61 1386.8,421.09 1387.97,422.04 1389.14,419.56 1390.31,418.47 1391.49,421.09 1392.66,423.69 1393.83,422.04 1395,422.11 1396.17,421.86 1397.34,420.77 1398.51,420.63 1399.69,420.74 1400.86,418.65 1402.03,418.88 1403.2,415.38 1404.37,416.71 1405.54,418.41 1406.71,419.28 1407.89,417.6 1409.06,418.69 1410.23,419.17 1411.4,421.05 1412.57,421.8 1413.74,418.44 1414.91,417.95 1416.09,420.04 1417.26,420.18 1418.43,421.6 1419.6,418.8 1420.77,418.15 1421.94,416.88 1423.11,415.34 1424.29,419.54 1425.46,420.88 1426.63,421.57 1427.8,420.06 1428.97,417.11 1430.14,402.44 1431.31,384.78 1432.49,405.9 1433.66,420.09 1434.83,419.32 1436,422.25 1437.17,394.69 1438.34,369.15 1439.51,392.79 1440.69,416.37 1441.86,419.16 1443.03,419.27 1444.2,419.9 1445.37,417.65 1446.54,419.96 1447.71,421.06 1448.89,420.17 1450.06,419.93 1451.23,421.23 1452.4,421 1453.57,421.62 1454.74,421.73 1455.91,421.93 1457.09,420.2 1458.26,418.14 1459.43,417.81 1460.6,415.83 1461.77,417.24 1462.94,420.94 1464.11,419.96 1465.29,421.09 1466.46,417.6 1467.63,416.07 1468.8,417.69 1469.97,419.03 1471.14,420.49 1472.31,418.47 1473.49,418.09 1474.66,418.81 1475.83,418.2 1477,417.54 1478.17,418.6 1479.34,419.39 1480.51,414.7 1481.69,405.72 1482.86,415.12 1484.03,419.25 1485.2,418.04 1486.37,418.71 1487.54,416.79 1488.71,421.57 1489.89,421.97 1491.06,419.07 1492.23,421.51 1493.4,421.33 1494.57,421.4 1495.74,421.04 1496.91,418.63 1498.09,419.81 1499.26,417.1 1500.43,416.56 1501.6,418.7 1502.77,420.11 1503.94,419.36 1505.11,419.07 1506.29,417.81 1507.46,419 1508.63,421.36 1509.8,420.84 1510.97,419.78 1512.14,419.54 1513.31,418.46 1514.49,420.79 1515.66,421.72 1516.83,422.24 1518,419.28 1519.17,420.97 1520.34,421.07 1521.51,419.84 1522.69,421.93 1523.86,424.36 1525.03,423.89 1526.2,418.69 1527.37,418.09 1528.54,421.87 1529.71,422.64 1530.89,422.61 1532.06,419.39 1533.23,417.23 1534.4,418.45"/>
<polyline fill="none" stroke="#d04444" stroke-width="1" stroke-linejoin="round" points="935.8,428.45 936.97,426.47 938.14,426.02 939.31,431.33 940.49,432.27 941.66,432.55 942.83,429.05 944,427.66 945.17,428.81 946.34,433.74 947.51,433.24 948.69,429.78 949.86,427.26 951.03,428.77 952.2,431.15 953.37,430.96 954.54,428.9 955.71,430.36 956.89,431.59 958.06,428.5 959.23,428.98 960.4,428.86 961.57,429.56 962.74,429.3 963.91,428.01 965.09,430.38 966.26,431.96 967.43,427.96 968.6,428.8 969.77,429.17 970.94,429.27 972.11,427.15 973.29,429.31 974.46,428.43 975.63,425.65 976.8,427.41 977.97,427.97 979.14,430.08 980.31,431.09 981.49,425.91 982.66,418.39 983.83,427.61 985,427.86 986.17,418.51 987.34,424 988.51,429.46 989.69,428.16 990.86,426.66 992.03,430.49 993.2,431.17 994.37,428.21 995.54,430.18 996.71,430.39 997.89,428.33 999.06,431.49 1000.23,431.07 1001.4,430.19 1002.57,428.63 1003.74,428.21 1004.91,429.51 1006.09,430.65 1007.26,432.44 1008.43,430.25 1009.6,428.7 1010.77,430.49 1011.94,429.39 1013.11,426.98 1014.29,426.97 1015.46,429.16 1016.63,429.58 1017.8,428.64 1018.97,430.73 1020.14,430.59 1021.31,430.19 1022.49,431.18 1023.66,433.24 1024.83,434.64 1026,433.27 1027.17,431.67 1028.34,432.29 1029.51,432.05 1030.69,416.8 1031.86,397.62 1033.03,416.33 1034.2,431.94 1035.37,430.32 1036.54,429.49 1037.71,427.43 1038.89,399.2 1040.06,373.81 1041.23,399.93 1042.4,430.64 1043.57,432.46 1044.74,432.69 1045.91,430.13 1047.09,432.28 1048.26,431.57 1049.43,429.32 1050.6,429.24 1051.77,429.04 1052.94,429.5 1054.11,429.16 1055.29,432.13 1056.46,432.01 1057.63,431.52 1058.8,429.97 1059.97,430.58 1061.14,432.22 1062.31,432.76 1063.49,432.74 1064.66,430.51 1065.83,428.53 1067,428.01 1068.17,430.91 1069.34,430.11 1070.51,429.38 1071.69,431.39 1072.86,430.65 1074.03,430.06 1075.2,432.48 1076.37,433.37 1077.54,433.52 1078.71,429.48 1079.89,429.47 1081.06,430.81 1082.23,429.59 1083.4,430.39 1084.57,429.93 1085.74,430.59 1086.91,430.84 1088.09,432.16 1089.26,432.73 1090.43,431.96 1091.6,429.66 1092.77,429.83 1093.94,432.68 1095.11,432.55 1096.29,433.17 1097.46,432.08 1098.63,429.72 1099.8,426.88 1100.97,428.28 1102.14,428.89 1103.31,430.04 1104.49,430.01 1105.66,428.13 1106.83,429.59 1108,432.5 1109.17,431.55 1110.34,430.98 1111.51,430.97 1112.69,432.12 1113.86,432.19 1115.03,430.18 1116.2,430.72 1117.37,434.64 1118.54,434.37 1119.71,430.08 1120.89,430.23 1122.06,432.91 1123.23,433.34 1124.4,433.1 1125.57,432.55 1126.74,430.33 1127.91,429.28 1129.09,428.34 1130.26,427.16 1131.43,428.7 1132.6,428.83 1133.77,431.77 1134.94,423.3 1136.11,414.72 1137.29,423.8 1138.46,431.53 1139.63,431.35 1140.8,429.47 1141.97,426.91 1143.14,428.96 1144.31,433.26 1145.49,434.12 1146.66,433.66 1147.83,430.39 1149,429.98 1150.17,429.96 1151.34,427.79 1152.51,428.67 1153.69,431.43 1154.86,430.61 1156.03,427.08 1157.2,425.09 1158.37,427.77 1159.54,428.59 1160.71,427.53 1161.89,426 1163.06,411.19 1164.23,399.19 1165.4,412.64 1166.57,428.81 1167.74,428.36 1168.91,429 1170.09,430.48 1171.26,432.7 1172.43,429.51 1173.6,429.36 1174.77,429.09 1175.94,417.88 1177.11,407.11 1178.29,417.46 1179.46,426.39 1180.63,427.94 1181.8,419.69 1182.97,408.97 1184.14,413.43 1185.31,416.98 1186.49,425.68 1187.66,431.59 1188.83,431.74 1190,429.47 1191.17,413.72 1192.34,401.61 1193.51,414.09 1194.69,419.34 1195.86,408.09 1197.03,391.4 1198.2,376.55 1199.37,394.01 1200.54,422.98 1201.71,428.04 1202.89,428.06 1204.06,427.14 1205.23,404.89 1206.4,390.59 1207.57,405.23 1208.74,425.19 1209.91,425.92 1211.09,402.36 1212.26,386.74 1213.43,402.26 1214.6,425.24 1215.77,428.82 1216.94,422.23 1218.11,398.94 1219.29,384.19 1220.46,400.05 1221.63,414.45 1222.8,378.24 1223.97,359.56 1225.14,377.7 1226.31,411.62 1227.49,397.37 1228.66,383.84 1229.83,381.55 1231,282.52 1232.17,244.22 1233.34,282.51 1234.51,387.89 1235.69,410.33 1236.86,385.24 1238.03,368.94 1239.2,385.28 1240.37,394.29 1241.54,381.34 1242.71,396.4 1243.89,395.61 1245.06,380.2 1246.23,396.39 1247.4,423.11 1248.57,425 1249.74,397.25 1250.91,380.37 1252.09,396.52 1253.26,410.46 1254.43,401.62 1255.6,413.11 1256.77,427.07 1257.94,426.32 1259.11,420.92 1260.29,415.62 1261.46,424.38 1262.63,430.74 1263.8,426.31 1264.97,420.78 1266.14,424.64 1267.31,425.09 1268.49,415.36 1269.66,405.14 1270.83,416.89 1272,427.12 1273.17,422.68 1274.34,418.42 1275.51,425.24 1276.69,427.02 1277.86,398.96 1279.03,382.1 1280.2,398.74 1281.37,423.44 1282.54,425.26 1283.71,407.73 1284.89,392.83 1286.06,406.94 1287.23,427.42 1288.4,430.8 1289.57,423.56 1290.74,415.1 1291.91,422.08 1293.09,428.71 1294.26,427.68 1295.43,426.17 1296.6,419.81 1297.77,415 1298.94,422.47 1300.11,429.67 1301.29,430.21 1302.46,428.52 1303.63,428.85 1304.8,432.21 1305.97,430.04 1307.14,410.34 1308.31,396.62 1309.49,411.43 1310.66,430.09 1311.83,432.04 1313,426.19 1314.17,418.88 1315.34,423.77 1316.51,428.08 1317.69,430.24 1318.86,433.03 1320.03,431.08 1321.2,426.61 1322.37,428.63 1323.54,429.08 1324.71,427.37 1325.89,428.94 1327.06,430.51 1328.23,430.62 1329.4,428.43 1330.57,428.69 1331.74,430.15 1332.91,430.75 1334.09,431.13 1335.26,430.23 1336.43,431.51 1337.6,430.87 1338.77,427.82 1339.94,428.8 1341.11,431.86 1342.29,433.12 1343.46,432.03 1344.63,430.78 1345.8,431.15 1346.97,429.11 1348.14,429.04 1349.31,428.91 1350.49,427.06 1351.66,428.55 1352.83,429.53 1354,427.12 1355.17,424.93 1356.34,426.92 1357.51,429.1 1358.69,430.79 1359.86,433.43 1361.03,429.15 1362.2,428.88 1363.37,429.94 1364.54,431.65 1365.71,432.13 1366.89,430.27 1368.06,429.28 1369.23,432.62 1370.4,433.07 1371.57,429.75 1372.74,429.21 1373.91,430.61 1375.09,431.01 1376.26,427.78 1377.43,427.92 1378.6,431.18 1379.77,431.31 1380.94,431.84 1382.11,430.56 1383.29,428.06 1384.46,427.06 1385.63,429.72 1386.8,429.56 1387.97,429.06 1389.14,428.38 1390.31,429.24 1391.49,430.08 1392.66,427.44 1393.83,425.3 1395,426.74 1396.17,431.52 1397.34,430.47 1398.51,429.99 1399.69,431.69 1400.86,429.23 1402.03,428.85 1403.2,431.13 1404.37,431.85 1405.54,430.89 1406.71,431.48 1407.89,431.76 1409.06,431.68 1410.23,430.06 1411.4,431.98 1412.57,435.2 1413.74,434.07 1414.91,430.15 1416.09,432.64 1417.26,431.33 1418.43,429.88 1419.6,431.94 1420.77,429 1421.94,427.89 1423.11,430.32 1424.29,431.58 1425.46,430.91 1426.63,428.28 1427.8,428.24 1428.97,428.72 1430.14,412.78 1431.31,392.01 1432.49,412.64 1433.66,428.76 1434.83,431.41 1436,429.18 1437.17,396.6 1438.34,370.59 1439.51,396.56 1440.69,427.2 1441.86,428.6 1443.03,428.59 1444.2,430.1 1445.37,429.95 1446.54,429.9 1447.71,434.23 1448.89,433.62 1450.06,433.17 1451.23,431.5 1452.4,429.24 1453.57,429.51 1454.74,430.04 1455.91,427.99 1457.09,428.47 1458.26,428.43 1459.43,428.88 1460.6,432.18 1461.77,434.09 1462.94,431.01 1464.11,429.47 1465.29,424.75 1466.46,426.49 1467.63,428.64 1468.8,429.91 1469.97,430.23 1471.14,430.8 1472.31,430.74 1473.49,429.78 1474.66,427.88 1475.83,426.63 1477,425.81 1478.17,426.8 1479.34,430.83 1480.51,424.61 1481.69,412.18 1482.86,415.92 1484.03,430.31 1485.2,431.56 1486.37,428.27 1487.54,423.11 1488.71,426.75 1489.89,430.39 1491.06,430.04 1492.23,429.93 1493.4,431.49 1494.57,430.95 1495.74,429.12 1496.91,430.66 1498.09,433.26 1499.26,430.38 1500.43,428.77 1501.6,428.5 1502.77,429.99 1503.94,429.21 1505.11,431.1 1506.29,432.66 1507.46,432.15 1508.63,429.66 1509.8,430.55 1510.97,430.73 1512.14,429.11 1513.31,428.52 1514.49,428.73 1515.66,428.92 1516.83,425.78 1518,426.7 1519.17,432.76 1520.34,431.32 1521.51,429.25 1522.69,430.1 1523.86,431.15 1525.03,431.26 1526.2,432.43 1527.37,429.91 1528.54,426.95 1529.71,431.37 1530.89,433.41 1532.06,425.81 1533.23,430.33 1534.4,429.16"/>
<polyline fill="none" stroke="#3030b0" stroke-width="1" stroke-linejoin="round" points="935.8,442.88 936.97,442.56 938.14,441.02 939.31,440.19 940.49,441.81 941.66,441.9 942.83,441.77 944,442.89 945.17,441.87 946.34,438.96 947.51,439.62 948.69,440.44 949.86,439.82 951.03,440.53 952.2,438.99 953.37,435.26 954.54,437.34 955.71,439.2 956.89,437.71 958.06,437.94 959.23,441.94 960.4,442.2 961.57,440.53 962.74,440.38 963.91,440.73 965.09,441.37 966.26,439.86 967.43,441.75 968.6,442.53 969.77,439.86 970.94,437.01 972.11,439.66 973.29,439.53 974.46,439.68 975.63,441.2 976.8,440.18 977.97,443.04 979.14,442.03 980.31,441.86 981.49,432.86 982.66,426.1 983.83,436.06 985,436.82 986.17,429.9 987.34,435.81 988.51,442.04 989.69,442.23 990.86,440.5 992.03,439.51 993.2,440.11 994.37,441.33 995.54,441.83 996.71,444.09 997.89,443.76 999.06,441.1 1000.23,442.04 1001.4,441.78 1002.57,441.6 1003.74,444.39 1004.91,444.31 1006.09,441.61 1007.26,440.03 1008.43,440.26 1009.6,439.23 1010.77,440.91 1011.94,441.03 1013.11,439.52 1014.29,439.54 1015.46,439.7 1016.63,439.59 1017.8,439.6 1018.97,441.04 1020.14,441.55 1021.31,439.79 1022.49,442.58 1023.66,442.37 1024.83,442.01 1026,441.53 1027.17,437.72 1028.34,438.42 1029.51,438.78 1030.69,429.01 1031.86,411.61 1033.03,429.57 1034.2,439.13 1035.37,438.38 1036.54,441.19 1037.71,438.56 1038.89,410.9 1040.06,386.01 1041.23,411.22 1042.4,439.56 1043.57,440.79 1044.74,441.3 1045.91,441.04 1047.09,442.59 1048.26,442.92 1049.43,442.93 1050.6,440.12 1051.77,439.65 1052.94,440.09 1054.11,437.91 1055.29,441.34 1056.46,441.8 1057.63,440.81 1058.8,443.8 1059.97,445.79 1061.14,441.62 1062.31,437.46 1063.49,438.25 1064.66,440.41 1065.83,439.8 1067,440.67 1068.17,442.88 1069.34,445.01 1070.51,443.94 1071.69,443.75 1072.86,442.33 1074.03,441.48 1075.2,438.82 1076.37,438.52 1077.54,436.44 1078.71,440.22 1079.89,441.99 1081.06,441.38 1082.23,441.18 1083.4,443.32 1084.57,439.61 1085.74,440.42 1086.91,442.65 1088.09,437.62 1089.26,440.5 1090.43,442.17 1091.6,440.71 1092.77,440.1 1093.94,441.41 1095.11,441.3 1096.29,441.87 1097.46,442.47 1098.63,440.2 1099.8,439.51 1100.97,441.97 1102.14,442.36 1103.31,440.11 1104.49,438.57 1105.66,440.3 1106.83,441.81 1108,442 1109.17,442.38 1110.34,442.14 1111.51,438.77 1112.69,439.38 1113.86,444.52 1115.03,445.39 1116.2,444.88 1117.37,446.21 1118.54,443.29 1119.71,439.56 1120.89,442.76 1122.06,443.25 1123.23,442.44 1124.4,442.9 1125.57,444.56 1126.74,442.44 1127.91,440.4 1129.09,441.29 1130.26,438.92 1131.43,438.41 1132.6,440.61 1133.77,440.18 1134.94,437.7 1136.11,435.87 1137.29,439.25 1138.46,441.66 1139.63,441.17 1140.8,441.47 1141.97,445.94 1143.14,443.27 1144.31,439.39 1145.49,438.32 1146.66,438.82 1147.83,437.46 1149,435.23 1150.17,437.64 1151.34,439.72 1152.51,440.79 1153.69,440.11 1154.86,440.15 1156.03,440.75 1157.2,439.54 1158.37,441.2 1159.54,442.8 1160.71,442.06 1161.89,440.69 1163.06,424.49 1164.23,412.57 1165.4,424.9 1166.57,437.29 1167.74,439.7 1168.91,442.34 1170.09,443.39 1171.26,440.66 1172.43,439.99 1173.6,442.86 1174.77,439.46 1175.94,412.21 1177.11,395.27 1178.29,410.91 1179.46,436.47 1180.63,435.89 1181.8,416.68 1182.97,401.84 1184.14,413.36 1185.31,421.04 1186.49,431.6 1187.66,438.35 1188.83,440.4 1190,437.97 1191.17,411.92 1192.34,395.84 1193.51,411.64 1194.69,427.14 1195.86,420.48 1197.03,411.58 1198.2,399.21 1199.37,414.75 1200.54,438.55 1201.71,439.08 1202.89,437.26 1204.06,437.3 1205.23,414.9 1206.4,399.62 1207.57,414.56 1208.74,436.64 1209.91,433.02 1211.09,400.42 1212.26,383.04 1213.43,401.1 1214.6,433.54 1215.77,438.38 1216.94,433.2 1218.11,409.06 1219.29,393.8 1220.46,409.26 1221.63,425.02 1222.8,390.76 1223.97,372.6 1225.14,390.7 1226.31,421.85 1227.49,406.88 1228.66,392.44 1229.83,392.84 1231,296.75 1232.17,258.47 1233.34,296.75 1234.51,401.63 1235.69,422.09 1236.86,391.94 1238.03,374.72 1239.2,391.95 1240.37,410.34 1241.54,400.63 1242.71,412.86 1243.89,402.7 1245.06,386.44 1246.23,403.27 1247.4,431.39 1248.57,434.48 1249.74,404.03 1250.91,386.71 1252.09,403.41 1253.26,429.68 1254.43,427.17 1255.6,432.35 1256.77,439.96 1257.94,440.72 1259.11,422.17 1260.29,407.8 1261.46,420.81 1262.63,437.31 1263.8,425.88 1264.97,414.2 1266.14,426.77 1267.31,436 1268.49,413.43 1269.66,397.31 1270.83,413.52 1272,438.97 1273.17,442.34 1274.34,437.43 1275.51,439.38 1276.69,440.81 1277.86,417.81 1279.03,401.42 1280.2,415.86 1281.37,438.76 1282.54,435.68 1283.71,409.64 1284.89,392.94 1286.06,409.45 1287.23,436.84 1288.4,442.35 1289.57,438.04 1290.74,433.48 1291.91,436.97 1293.09,441.2 1294.26,438.83 1295.43,435.64 1296.6,415.07 1297.77,399.56 1298.94,414.57 1300.11,439.43 1301.29,441.97 1302.46,441.57 1303.63,440.54 1304.8,441.34 1305.97,440.17 1307.14,430.37 1308.31,421.83 1309.49,433.1 1310.66,439.96 1311.83,438.08 1313,433.7 1314.17,429.95 1315.34,435.01 1316.51,441.44 1317.69,442.36 1318.86,443.03 1320.03,442.73 1321.2,437.55 1322.37,438.17 1323.54,443.91 1324.71,444.39 1325.89,440.27 1327.06,437.42 1328.23,440.05 1329.4,442.41 1330.57,444.37 1331.74,443.44 1332.91,440.57 1334.09,441.16 1335.26,442.01 1336.43,442.87 1337.6,442.78 1338.77,439.09 1339.94,440.21 1341.11,439.66 1342.29,441.51 1343.46,443.83 1344.63,444.35 1345.8,441.69 1346.97,440.1 1348.14,439.81 1349.31,440 1350.49,439.28 1351.66,437.07 1352.83,437.64 1354,440.75 1355.17,443.71 1356.34,440.46 1357.51,438.64 1358.69,440.79 1359.86,442.4 1361.03,442.38 1362.2,439.64 1363.37,442.81 1364.54,442.5 1365.71,441.9 1366.89,440.21 1368.06,440.42 1369.23,442.41 1370.4,442.45 1371.57,441.34 1372.74,442.62 1373.91,441.5 1375.09,440.4 1376.26,441.86 1377.43,442.14 1378.6,439.16 1379.77,440.2 1380.94,439.33 1382.11,440.18 1383.29,439.66 1384.46,444.98 1385.63,446.48 1386.8,442.27 1387.97,442.9 1389.14,440.19 1390.31,440.33 1391.49,442.84 1392.66,441.12 1393.83,442.17 1395,442.63 1396.17,445.52 1397.34,441.75 1398.51,440.08 1399.69,440.91 1400.86,442.21 1402.03,442.07 1403.2,439.75 1404.37,439.06 1405.54,440.39 1406.71,442.2 1407.89,441.22 1409.06,443.05 1410.23,444.36 1411.4,444.75 1412.57,444.26 1413.74,443.58 1414.91,442.14 1416.09,441.84 1417.26,442.45 1418.43,442.26 1419.6,442.59 1420.77,441.19 1421.94,442.88 1423.11,441.98 1424.29,438.42 1425.46,436.7 1426.63,436.42 1427.8,437.67 1428.97,444.35 1430.14,424.99 1431.31,403.25 1432.49,424.18 1433.66,440.31 1434.83,439.03 1436,437.63 1437.17,413.57 1438.34,389.56 1439.51,413.86 1440.69,442.36 1441.86,441.5 1443.03,441.34 1444.2,439.93 1445.37,439.81 1446.54,439.14 1447.71,438.75 1448.89,439.85 1450.06,440.12 1451.23,440.66 1452.4,442.45 1453.57,445.22 1454.74,444.25 1455.91,441.14 1457.09,439.79 1458.26,438.31 1459.43,442.67 1460.6,441.99 1461.77,440.24 1462.94,439.88 1464.11,441.85 1465.29,441.45 1466.46,440.2 1467.63,440.49 1468.8,437.8 1469.97,442.67 1471.14,443.45 1472.31,440.74 1473.49,438.81 1474.66,437.78 1475.83,440.19 1477,442.05 1478.17,443.64 1479.34,443.88 1480.51,435.4 1481.69,428.31 1482.86,437.44 1484.03,441.06 1485.2,440.57 1486.37,439.03 1487.54,432.76 1488.71,435.83 1489.89,440.45 1491.06,440.03 1492.23,438.79 1493.4,438.46 1494.57,440.96 1495.74,442.16 1496.91,443.01 1498.09,441.01 1499.26,440.22 1500.43,439.67 1501.6,439.87 1502.77,441.32 1503.94,439.35 1505.11,437.73 1506.29,440.32 1507.46,442.45 1508.63,443.49 1509.8,443.45 1510.97,443.08 1512.14,441.35 1513.31,440.45 1514.49,440.47 1515.66,439.01 1516.83,439.63 1518,440.27 1519.17,440.12 1520.34,441.13 1521.51,439.24 1522.69,442.15 1523.86,443.04 1525.03,442.85 1526.2,446.92 1527.37,445.72 1528.54,441.26 1529.71,438.12 1530.89,439.5 1532.06,441.92 1533.23,442.21 1534.4,442.16"/>
<polyline fill="none" stroke="#1e1e1e" stroke-width="1" stroke-linejoin="round" points="935.8,446.91 936.97,449.26 938.14,452.7 939.31,454.38 940.49,452.17 941.66,452.48 942.83,451.71 944,452.45 945.17,452.95 946.34,452.25 947.51,453.96 948.69,454.2 949.86,451.58 951.03,450.28 952.2,450.84 953.37,454.01 954.54,452.3 955.71,453.88 956.89,452.54 958.06,450.84 959.23,453.82 960.4,454.82 961.57,452.02 962.74,452.19 963.91,453.15 965.09,451.98 966.26,451.83 967.43,451.78 968.6,452.22 969.77,450.78 970.94,451.75 972.11,456.04 973.29,454.83 974.46,450.7 975.63,451.05 976.8,451.77 977.97,451.72 979.14,454.89 980.31,455.08 981.49,449.83 982.66,440.63 983.83,447.24 985,446.18 986.17,436.43 987.34,445.76 988.51,451.19 989.69,451.43 990.86,452.14 992.03,451.19 993.2,452.74 994.37,452.01 995.54,451.78 996.71,450.27 997.89,447.21 999.06,447.29 1000.23,449.87 1001.4,449.34 1002.57,443.36 1003.74,449.73 1004.91,450.53 1006.09,450.14 1007.26,450.81 1008.43,451.4 1009.6,451.67 1010.77,454.4 1011.94,452.73 1013.11,450.21 1014.29,451.94 1015.46,452.72 1016.63,452.23 1017.8,450.66 1018.97,449.93 1020.14,448 1021.31,450.94 1022.49,452.37 1023.66,448.16 1024.83,448.04 1026,451.28 1027.17,453.27 1028.34,455.59 1029.51,455.02 1030.69,432.45 1031.86,411.47 1033.03,433.22 1034.2,453.54 1035.37,451.88 1036.54,450.45 1037.71,450.16 1038.89,420.1 1040.06,394.63 1041.23,420.44 1042.4,449.36 1043.57,449.75 1044.74,451.62 1045.91,450.67 1047.09,450.52 1048.26,450.69 1049.43,452.83 1050.6,452.3 1051.77,451.55 1052.94,452.54 1054.11,453.68 1055.29,456.19 1056.46,452.93 1057.63,451.15 1058.8,451.85 1059.97,451.24 1061.14,448.47 1062.31,448.69 1063.49,449.34 1064.66,452.4 1065.83,453.02 1067,453.22 1068.17,452.91 1069.34,453.45 1070.51,452.24 1071.69,450.9 1072.86,451.81 1074.03,451 1075.2,450.5 1076.37,448.73 1077.54,449.74 1078.71,451.29 1079.89,450.92 1081.06,450.84 1082.23,450.7 1083.4,452.41 1084.57,453.12 1085.74,450.2 1086.91,450.49 1088.09,452.61 1089.26,454.39 1090.43,455.16 1091.6,452.23 1092.77,451.51 1093.94,454.66 1095.11,455.04 1096.29,452.63 1097.46,450.5 1098.63,448.65 1099.8,450.01 1100.97,450.66 1102.14,453.5 1103.31,456.78 1104.49,457.31 1105.66,453.14 1106.83,449.63 1108,450.96 1109.17,451.25 1110.34,450.24 1111.51,448.46 1112.69,450.86 1113.86,454.27 1115.03,455.09 1116.2,455.17 1117.37,454.32 1118.54,451.55 1119.71,452.12 1120.89,451.29 1122.06,450.48 1123.23,451.24 1124.4,450.22 1125.57,452.07 1126.74,451.38 1127.91,451.2 1129.09,449.14 1130.26,453.11 1131.43,450.5 1132.6,448.18 1133.77,452.08 1134.94,448.55 1136.11,445.1 1137.29,448.56 1138.46,450.55 1139.63,452.92 1140.8,452.79 1141.97,452.67 1143.14,454.03 1144.31,454.46 1145.49,453.9 1146.66,452.63 1147.83,448.03 1149,444.18 1150.17,446.92 1151.34,445.72 1152.51,444.57 1153.69,448.35 1154.86,450.75 1156.03,450.06 1157.2,451.37 1158.37,453.14 1159.54,453.41 1160.71,452.14 1161.89,452.44 1163.06,431.79 1164.23,416.56 1165.4,431.38 1166.57,449.63 1167.74,449.65 1168.91,447.17 1170.09,447.9 1171.26,450.16 1172.43,451.56 1173.6,451.81 1174.77,450.92 1175.94,435.81 1177.11,423.38 1178.29,436.14 1179.46,450.3 1180.63,449.3 1181.8,429.54 1182.97,415.15 1184.14,426.37 1185.31,435.68 1186.49,443.26 1187.66,449.71 1188.83,452.19 1190,449.66 1191.17,429.75 1192.34,415.36 1193.51,429.62 1194.69,446.74 1195.86,440.12 1197.03,426.79 1198.2,414.4 1199.37,429.01 1200.54,451.07 1201.71,455.42 1202.89,455.55 1204.06,452.53 1205.23,438.79 1206.4,427.22 1207.57,437.48 1208.74,449.68 1209.91,449.92 1211.09,422.41 1212.26,405.54 1213.43,421.67 1214.6,446.27 1215.77,450.35 1216.94,447.6 1218.11,432.35 1219.29,419.99 1220.46,432 1221.63,436.41 1222.8,414.77 1223.97,398.19 1225.14,413.94 1226.31,433.63 1227.49,417.01 1228.66,402.35 1229.83,400.65 1231,301.28 1232.17,262.98 1233.34,301.28 1234.51,407.72 1235.69,431.28 1236.86,406.43 1238.03,390.21 1239.2,406.86 1240.37,422.82 1241.54,413.73 1242.71,426.01 1243.89,422.87 1245.06,408.41 1246.23,423.26 1247.4,446.3 1248.57,448.4 1249.74,430.29 1250.91,417.87 1252.09,430.42 1253.26,426.19 1254.43,412.31 1255.6,426.99 1256.77,447.09 1257.94,447.62 1259.11,437.29 1260.29,428.58 1261.46,439.46 1262.63,447.5 1263.8,437.73 1264.97,426.6 1266.14,437.82 1267.31,448.03 1268.49,431.02 1269.66,417.71 1270.83,431.42 1272,449.4 1273.17,451.2 1274.34,447.15 1275.51,446.54 1276.69,447.76 1277.86,423.59 1279.03,408.41 1280.2,424.28 1281.37,444.82 1282.54,445.74 1283.71,424.43 1284.89,409.22 1286.06,425.38 1287.23,449.74 1288.4,449.74 1289.57,445.44 1290.74,440.46 1291.91,446.46 1293.09,451.96 1294.26,451.74 1295.43,451.47 1296.6,440.74 1297.77,429.6 1298.94,439.84 1300.11,450.57 1301.29,446.53 1302.46,439.19 1303.63,445.37 1304.8,451.51 1305.97,451.76 1307.14,434.83 1308.31,421.24 1309.49,433.64 1310.66,449.67 1311.83,452.76 1313,449.69 1314.17,447.75 1315.34,450.12 1316.51,453.43 1317.69,453.75 1318.86,451.16 1320.03,450.67 1321.2,451.71 1322.37,450.97 1323.54,450.65 1324.71,451.33 1325.89,449.29 1327.06,451.32 1328.23,453.05 1329.4,446.83 1330.57,448.91 1331.74,449.72 1332.91,448.93 1334.09,450.08 1335.26,454.75 1336.43,453.31 1337.6,450.36 1338.77,449.48 1339.94,451.31 1341.11,456.3 1342.29,455.86 1343.46,454.62 1344.63,453.81 1345.8,450.36 1346.97,450.61 1348.14,451.65 1349.31,449.56 1350.49,451.38 1351.66,453.11 1352.83,450.59 1354,451.63 1355.17,451.58 1356.34,450.11 1357.51,451.23 1358.69,452.62 1359.86,452.03 1361.03,453.98 1362.2,454.74 1363.37,453.65 1364.54,451.04 1365.71,452.64 1366.89,449.66 1368.06,448.92 1369.23,449.57 1370.4,451.21 1371.57,449.11 1372.74,449.06 1373.91,454.37 1375.09,452.7 1376.26,448.34 1377.43,450.53 1378.6,454.08 1379.77,453.13 1380.94,452.14 1382.11,450.46 1383.29,448.6 1384.46,449.32 1385.63,450.19 1386.8,451.79 1387.97,452.36 1389.14,455.58 1390.31,453.55 1391.49,449.68 1392.66,450.36 1393.83,452.14 1395,449.5 1396.17,448.97 1397.34,449.38 1398.51,451.4 1399.69,448.91 1400.86,450.96 1402.03,451.33 1403.2,455.74 1404.37,454.12 1405.54,449.55 1406.71,450.16 1407.89,448.09 1409.06,450.11 1410.23,451.32 1411.4,449.56 1412.57,448.2 1413.74,449.95 1414.91,450.75 1416.09,451.19 1417.26,451.9 1418.43,451.74 1419.6,451.14 1420.77,454.3 1421.94,454.26 1423.11,453.73 1424.29,454.21 1425.46,454.61 1426.63,453 1427.8,452.25 1428.97,450.15 1430.14,439.38 1431.31,422.9 1432.49,439.68 1433.66,450.46 1434.83,452.01 1436,450.94 1437.17,426.45 1438.34,401.62 1439.51,425.78 1440.69,447.99 1441.86,447.46 1443.03,447.57 1444.2,450.53 1445.37,453.69 1446.54,454.49 1447.71,453.62 1448.89,454.83 1450.06,451.99 1451.23,450.79 1452.4,448.97 1453.57,447.73 1454.74,449.99 1455.91,450.27 1457.09,449.6 1458.26,449.52 1459.43,450.78 1460.6,452.43 1461.77,455.7 1462.94,453.2 1464.11,451.44 1465.29,450.19 1466.46,450.07 1467.63,451.76 1468.8,452.9 1469.97,449.95 1471.14,451.03 1472.31,449.9 1473.49,449.86 1474.66,452.12 1475.83,452.83 1477,452.51 1478.17,451.1 1479.34,448.4 1480.51,442.32 1481.69,436.14 1482.86,446.24 1484.03,453.55 1485.2,455.82 1486.37,452.89 1487.54,443.64 1488.71,451.63 1489.89,456.89 1491.06,454.09 1492.23,451.57 1493.4,452.54 1494.57,451.58 1495.74,450.91 1496.91,449.24 1498.09,450.8 1499.26,451.45 1500.43,449.26 1501.6,448.28 1502.77,451.97 1503.94,452.29 1505.11,451.44 1506.29,448.74 1507.46,448.39 1508.63,449.56 1509.8,452.01 1510.97,453.72 1512.14,451.05 1513.31,452.89 1514.49,453.87 1515.66,451.94 1516.83,452.18 1518,449.5 1519.17,447.85 1520.34,451.31 1521.51,454.17 1522.69,453.33 1523.86,450.49 1525.03,450.49 1526.2,453.45 1527.37,454.31 1528.54,452.03 1529.71,453.25 1530.89,455.35 1532.06,451.76 1533.23,449.58 1534.4,451.65"/>
<polyline fill="none" stroke="#5ad65a" stroke-width="1" stroke-linejoin="round" points="935.8,461.9 936.97,461.69 938.14,459.33 939.31,460.47 940.49,460.54 941.66,458.03 942.83,460.03 944,460.96 945.17,461.81 946.34,462.36 947.51,460.63 948.69,459.59 949.86,461.53 951.03,464.35 952.2,464.38 953.37,462.51 954.54,462.96 955.71,461.5 956.89,459.98 958.06,459.21 959.23,459.71 960.4,460.36 961.57,460.05 962.74,460.41 963.91,462.79 965.09,460.68 966.26,461.1 967.43,462.93 968.6,463.16 969.77,461.2 970.94,457.56 972.11,458.18 973.29,461.2 974.46,462.77 975.63,463.91 976.8,464.11 977.97,460.1 979.14,458.85 980.31,459.8 981.49,455.83 982.66,450.05 983.83,457.62 985,456.44 986.17,453.93 987.34,462.41 988.51,468.1 989.69,463.98 990.86,462.81 992.03,462.84 993.2,462.94 994.37,463.88 995.54,462.01 996.71,458.67 997.89,460.18 999.06,462.71 1000.23,463.96 1001.4,463.33 1002.57,462.03 1003.74,461.41 1004.91,460.98 1006.09,459.19 1007.26,461.28 1008.43,461.66 1009.6,460.11 1010.77,461.23 1011.94,463.24 1013.11,464.1 1014.29,461.67 1015.46,461.25 1016.63,461.68 1017.8,463.44 1018.97,463.9 1020.14,462.62 1021.31,459.56 1022.49,460.06 1023.66,461.5 1024.83,462.52 1026,462.34 1027.17,462.56 1028.34,462.08 1029.51,462.18 1030.69,453.54 1031.86,436.14 1033.03,453.27 1034.2,464.6 1035.37,463.71 1036.54,463.16 1037.71,461.69 1038.89,442.8 1040.06,420.6 1041.23,443.24 1042.4,460.71 1043.57,461.76 1044.74,464.75 1045.91,464.5 1047.09,461.8 1048.26,459.92 1049.43,457.63 1050.6,463.31 1051.77,464.38 1052.94,462.88 1054.11,461.75 1055.29,462.8 1056.46,465.57 1057.63,465.23 1058.8,460.75 1059.97,460.87 1061.14,463.32 1062.31,461.14 1063.49,461.57 1064.66,461.3 1065.83,462.92 1067,462.89 1068.17,461.44 1069.34,462.4 1070.51,461.23 1071.69,461.36 1072.86,464.15 1074.03,461.07 1075.2,459.46 1076.37,460.34 1077.54,463.14 1078.71,463.61 1079.89,461.89 1081.06,460.77 1082.23,461.03 1083.4,461.61 1084.57,461.38 1085.74,460.08 1086.91,459.81 1088.09,460.41 1089.26,459.31 1090.43,459.85 1091.6,461.23 1092.77,464.93 1093.94,466.2 1095.11,462.95 1096.29,462.07 1097.46,462.84 1098.63,462.31 1099.8,463.62 1100.97,464.18 1102.14,464.24 1103.31,463.4 1104.49,464.74 1105.66,465.17 1106.83,461.18 1108,461.82 1109.17,462.56 1110.34,461.54 1111.51,460.98 1112.69,460.68 1113.86,459.9 1115.03,461.42 1116.2,462.76 1117.37,463.95 1118.54,463.64 1119.71,459.95 1120.89,460.72 1122.06,465.18 1123.23,463.64 1124.4,461.96 1125.57,464.47 1126.74,466.87 1127.91,464.1 1129.09,461.56 1130.26,462.41 1131.43,461.7 1132.6,465.34 1133.77,464.87 1134.94,462.72 1136.11,461.45 1137.29,459.95 1138.46,461.8 1139.63,463.45 1140.8,465.85 1141.97,465.69 1143.14,462.71 1144.31,461.07 1145.49,461.01 1146.66,462.28 1147.83,460.8 1149,459.61 1150.17,459.67 1151.34,453.84 1152.51,449.47 1153.69,456.51 1154.86,462.39 1156.03,462.02 1157.2,461.7 1158.37,463.22 1159.54,463.82 1160.71,462.83 1161.89,458.68 1163.06,440.71 1164.23,427.72 1165.4,440.36 1166.57,456.68 1167.74,461.91 1168.91,460.07 1170.09,459.84 1171.26,464.09 1172.43,464.56 1173.6,463.51 1174.77,461.62 1175.94,442.78 1177.11,428.83 1178.29,443.51 1179.46,462.96 1180.63,461.81 1181.8,435.91 1182.97,419.51 1184.14,429.9 1185.31,435.14 1186.49,447.34 1187.66,457.57 1188.83,458.53 1190,459.67 1191.17,442.86 1192.34,429.66 1193.51,443.23 1194.69,454.91 1195.86,446.09 1197.03,435.46 1198.2,424.26 1199.37,438.71 1200.54,457.12 1201.71,461.37 1202.89,463.51 1204.06,458.58 1205.23,433.11 1206.4,417.34 1207.57,433.47 1208.74,457.26 1209.91,458.16 1211.09,440.45 1212.26,425.97 1213.43,440.39 1214.6,459.25 1215.77,459.45 1216.94,452.26 1218.11,421.78 1219.29,404.66 1220.46,421.72 1221.63,447.85 1222.8,425.11 1223.97,408.21 1225.14,424.14 1226.31,447.68 1227.49,434.61 1228.66,421.1 1229.83,415.12 1231,314.75 1232.17,276.46 1233.34,314.75 1234.51,420.49 1235.69,442.68 1236.86,412.67 1238.03,395.3 1239.2,412.82 1240.37,434.7 1241.54,426.39 1242.71,437.77 1243.89,430.88 1245.06,417.33 1246.23,433.47 1247.4,457.43 1248.57,451.99 1249.74,426.22 1250.91,410.3 1252.09,426.8 1253.26,444.43 1254.43,436.11 1255.6,446.81 1256.77,459.68 1257.94,460.75 1259.11,443.71 1260.29,435.84 1261.46,447.46 1262.63,457.84 1263.8,446.76 1264.97,436.09 1266.14,446.26 1267.31,458.1 1268.49,447.45 1269.66,433.69 1270.83,444.98 1272,458 1273.17,448.74 1274.34,437.06 1275.51,447.41 1276.69,453.19 1277.86,424.68 1279.03,407.65 1280.2,424.64 1281.37,455.11 1282.54,457.02 1283.71,426.4 1284.89,409.04 1286.06,426.75 1287.23,458.03 1288.4,464.46 1289.57,461.13 1290.74,461.79 1291.91,462.71 1293.09,462.14 1294.26,461.26 1295.43,459.44 1296.6,452.5 1297.77,445.51 1298.94,454.58 1300.11,462.02 1301.29,456.93 1302.46,449.98 1303.63,456.94 1304.8,463.89 1305.97,461.77 1307.14,453.41 1308.31,444.53 1309.49,453.22 1310.66,462.4 1311.83,464.35 1313,454.43 1314.17,442.4 1315.34,450.64 1316.51,458.59 1317.69,461.36 1318.86,462.26 1320.03,460.02 1321.2,461.04 1322.37,456.67 1323.54,453.66 1324.71,457.37 1325.89,462.64 1327.06,462.6 1328.23,461.39 1329.4,459.99 1330.57,463.04 1331.74,458.41 1332.91,458.05 1334.09,462.02 1335.26,459.69 1336.43,460.23 1337.6,459.85 1338.77,457.79 1339.94,460.9 1341.11,462.15 1342.29,463.71 1343.46,460.76 1344.63,460.37 1345.8,461.76 1346.97,462.13 1348.14,463.03 1349.31,460.15 1350.49,461.05 1351.66,463.03 1352.83,459.9 1354,460.99 1355.17,463.42 1356.34,464 1357.51,463.56 1358.69,465.16 1359.86,464.62 1361.03,462.69 1362.2,460.36 1363.37,459.42 1364.54,460.34 1365.71,461.65 1366.89,462.16 1368.06,461.44 1369.23,461.86 1370.4,461.87 1371.57,462.2 1372.74,463.1 1373.91,465.24 1375.09,466.82 1376.26,463.27 1377.43,464.65 1378.6,464.73 1379.77,462.99 1380.94,461.76 1382.11,460.09 1383.29,464.15 1384.46,465.1 1385.63,464.27 1386.8,464.19 1387.97,463.25 1389.14,465.49 1390.31,464.93 1391.49,461.81 1392.66,459.45 1393.83,463.23 1395,461.33 1396.17,460.95 1397.34,463.1 1398.51,463.94 1399.69,463.35 1400.86,462.4 1402.03,463.25 1403.2,465.71 1404.37,461.49 1405.54,462.39 1406.71,462.66 1407.89,460.74 1409.06,459.74 1410.23,460.48 1411.4,463.07 1412.57,463.86 1413.74,462.37 1414.91,464.74 1416.09,464.08 1417.26,461.85 1418.43,461.06 1419.6,462.09 1420.77,461.2 1421.94,460.07 1423.11,457.2 1424.29,457.86 1425.46,462.23 1426.63,466.41 1427.8,464.94 1428.97,460.66 1430.14,447.8 1431.31,430.08 1432.49,448.53 1433.66,460.58 1434.83,462.53 1436,462.92 1437.17,434.4 1438.34,410.07 1439.51,435.17 1440.69,461.6 1441.86,461.95 1443.03,463.78 1444.2,463.9 1445.37,462.39 1446.54,461.7 1447.71,464.93 1448.89,463.94 1450.06,463.12 1451.23,463.32 1452.4,460.85 1453.57,459.39 1454.74,464.85 1455.91,464.2 1457.09,461.73 1458.26,460.03 1459.43,461 1460.6,461.66 1461.77,457.59 1462.94,459.94 1464.11,463.13 1465.29,458.32 1466.46,458 1467.63,460.44 1468.8,461.16 1469.97,462.36 1471.14,463.37 1472.31,462.83 1473.49,462.2 1474.66,463.81 1475.83,463.74 1477,460.56 1478.17,461.58 1479.34,462.54 1480.51,454.19 1481.69,444.16 1482.86,454.48 1484.03,460.96 1485.2,460.99 1486.37,457.5 1487.54,453.06 1488.71,460.15 1489.89,464.25 1491.06,463.28 1492.23,461.83 1493.4,458.54 1494.57,458.5 1495.74,461.32 1496.91,461.96 1498.09,461.04 1499.26,461.33 1500.43,462.16 1501.6,463.3 1502.77,462.06 1503.94,461.66 1505.11,462.41 1506.29,462.47 1507.46,462.84 1508.63,465.14 1509.8,463.38 1510.97,460.93 1512.14,460.53 1513.31,462.32 1514.49,462.53 1515.66,464.69 1516.83,463.37 1518,460.29 1519.17,458.93 1520.34,459.85 1521.51,461.64 1522.69,461.9 1523.86,461.44 1525.03,463.6 1526.2,463.47 1527.37,461.53 1528.54,463.92 1529.71,462.77 1530.89,455.24 1532.06,461.47 1533.23,461 1534.4,460.63"/>
<polyline fill="none" stroke="#d04444" stroke-width="1" stroke-linejoin="round" points="935.8,471.16 936.97,471.29 938.14,472.8 939.31,473.8 940.49,469.32 941.66,467.65 942.83,470.03 944,471.38 945.17,473.09 946.34,475.75 947.51,472.91 948.69,474.6 949.86,474.9 951.03,474.77 952.2,476.76 953.37,472.34 954.54,470.74 955.71,471.07 956.89,470.52 958.06,471.86 959.23,471.52 960.4,472.96 961.57,473.96 962.74,474.26 963.91,474.88 965.09,472.39 966.26,472.95 967.43,471.17 968.6,473.22 969.77,474.92 970.94,474.38 972.11,472.69 973.29,470.31 974.46,466.98 975.63,469.26 976.8,474.53 977.97,476.44 979.14,474.35 980.31,472.57 981.49,466.3 982.66,459.61 983.83,468.55 985,473.32 986.17,469.05 987.34,470.51 988.51,469.05 989.69,471.49 990.86,474.99 992.03,473.15 993.2,474.18 994.37,477.13 995.54,477.11 996.71,473.63 997.89,472.33 999.06,469.93 1000.23,470.86 1001.4,473 1002.57,471.8 1003.74,471.3 1004.91,470.34 1006.09,470.46 1007.26,469.65 1008.43,469.65 1009.6,470.82 1010.77,470.62 1011.94,472.37 1013.11,471.75 1014.29,471.76 1015.46,469.82 1016.63,467.73 1017.8,469.89 1018.97,469.63 1020.14,470.86 1021.31,472.94 1022.49,472.7 1023.66,473.43 1024.83,471.13 1026,465.88 1027.17,473.65 1028.34,470 1029.51,470.01 1030.69,454.81 1031.86,432.91 1033.03,454.42 1034.2,471.68 1035.37,473.23 1036.54,474.74 1037.71,473.89 1038.89,453.04 1040.06,430.33 1041.23,451.39 1042.4,473.29 1043.57,471.72 1044.74,473.46 1045.91,474.87 1047.09,474.12 1048.26,475.44 1049.43,475.85 1050.6,471.84 1051.77,469.76 1052.94,471.23 1054.11,472.13 1055.29,475.09 1056.46,476.01 1057.63,476.12 1058.8,474.8 1059.97,475.34 1061.14,473.86 1062.31,473.85 1063.49,475.86 1064.66,474.93 1065.83,472.29 1067,471.99 1068.17,474.46 1069.34,474.38 1070.51,469.49 1071.69,470.82 1072.86,474.14 1074.03,473.37 1075.2,474.28 1076.37,474.01 1077.54,471.41 1078.71,469.18 1079.89,470.88 1081.06,471.59 1082.23,474.94 1083.4,475.37 1084.57,474.11 1085.74,471.39 1086.91,469.95 1088.09,472.42 1089.26,473.8 1090.43,475.02 1091.6,472.38 1092.77,474.36 1093.94,475.9 1095.11,472.93 1096.29,471.41 1097.46,471.47 1098.63,472.72 1099.8,474.45 1100.97,474.92 1102.14,476.86 1103.31,474.29 1104.49,473.1 1105.66,473.73 1106.83,471.05 1108,472.71 1109.17,475.66 1110.34,476.56 1111.51,474.27 1112.69,472.99 1113.86,472.09 1115.03,472.02 1116.2,470.91 1117.37,470.5 1118.54,470.95 1119.71,472.47 1120.89,471.91 1122.06,474.74 1123.23,473.57 1124.4,475.47 1125.57,477.05 1126.74,474.73 1127.91,470.46 1129.09,469.43 1130.26,472.96 1131.43,473.98 1132.6,474.66 1133.77,473.72 1134.94,471.51 1136.11,468.53 1137.29,472.6 1138.46,474.62 1139.63,472.84 1140.8,473.87 1141.97,474.32 1143.14,471.16 1144.31,469.91 1145.49,470.15 1146.66,471.5 1147.83,469.88 1149,468.66 1150.17,472.63 1151.34,473.84 1152.51,472.69 1153.69,470.45 1154.86,470.96 1156.03,470.52 1157.2,469.74 1158.37,474.18 1159.54,472.58 1160.71,470.34 1161.89,467.29 1163.06,456.2 1164.23,445.02 1165.4,456.39 1166.57,470.18 1167.74,471.93 1168.91,471.31 1170.09,471.98 1171.26,473.25 1172.43,470.54 1173.6,470.93 1174.77,472.4 1175.94,460.8 1177.11,447.62 1178.29,457.74 1179.46,470.68 1180.63,468.66 1181.8,450.34 1182.97,436.78 1184.14,445.81 1185.31,447.94 1186.49,459.69 1187.66,471.71 1188.83,471.43 1190,468.89 1191.17,450.89 1192.34,436.42 1193.51,450.47 1194.69,448.93 1195.86,434.18 1197.03,444.41 1198.2,450 1199.37,461.36 1200.54,471.99 1201.71,472.51 1202.89,471.63 1204.06,468.43 1205.23,454.91 1206.4,441.79 1207.57,455.04 1208.74,471.14 1209.91,469.41 1211.09,444.38 1212.26,428.57 1213.43,443.93 1214.6,466.15 1215.77,469 1216.94,464.92 1218.11,440.3 1219.29,424.22 1220.46,439.69 1221.63,455.26 1222.8,422.79 1223.97,404.77 1225.14,422.7 1226.31,453.76 1227.49,439.89 1228.66,425.57 1229.83,422.95 1231,323.79 1232.17,285.5 1233.34,323.79 1234.51,429.5 1235.69,454.35 1236.86,430.18 1238.03,413.73 1239.2,430.19 1240.37,447.89 1241.54,440.33 1242.71,450.43 1243.89,437.61 1245.06,421.94 1246.23,438.29 1247.4,466.05 1248.57,466.32 1249.74,443.78 1250.91,428.93 1252.09,444.3 1253.26,453.37 1254.43,441.83 1255.6,455.3 1256.77,471.89 1257.94,470.42 1259.11,462.84 1260.29,457.36 1261.46,464.07 1262.63,470.86 1263.8,459.42 1264.97,447.45 1266.14,457.31 1267.31,467.97 1268.49,455.52 1269.66,442.57 1270.83,455.16 1272,471.28 1273.17,471.84 1274.34,467.38 1275.51,471.85 1276.69,468.62 1277.86,442.17 1279.03,425.79 1280.2,442.44 1281.37,467.98 1282.54,469.04 1283.71,446.62 1284.89,431.82 1286.06,446.91 1287.23,470.61 1288.4,472.86 1289.57,468.27 1290.74,463.33 1291.91,469.6 1293.09,473.58 1294.26,471.07 1295.43,472.05 1296.6,469.88 1297.77,463.6 1298.94,467.84 1300.11,470.95 1301.29,461.11 1302.46,451.15 1303.63,462.7 1304.8,473 1305.97,472.44 1307.14,456.26 1308.31,442.21 1309.49,455.27 1310.66,470.98 1311.83,472.47 1313,468.33 1314.17,464.7 1315.34,467.61 1316.51,472.89 1317.69,473.61 1318.86,473.7 1320.03,475.65 1321.2,474.62 1322.37,472.7 1323.54,471.79 1324.71,472.08 1325.89,473.44 1327.06,472.86 1328.23,473.39 1329.4,473.28 1330.57,474.13 1331.74,473.56 1332.91,472.94 1334.09,473.13 1335.26,475.25 1336.43,473.89 1337.6,469.04 1338.77,470.51 1339.94,472.16 1341.11,471.85 1342.29,473.99 1343.46,471.99 1344.63,470.98 1345.8,468.53 1346.97,470.25 1348.14,471.57 1349.31,472.19 1350.49,470.29 1351.66,471.07 1352.83,474.36 1354,474.96 1355.17,473.72 1356.34,470.86 1357.51,471.9 1358.69,473.46 1359.86,476.61 1361.03,474.63 1362.2,475.06 1363.37,471.4 1364.54,470.93 1365.71,470.86 1366.89,474.14 1368.06,472.4 1369.23,472.19 1370.4,473.15 1371.57,474.17 1372.74,474.69 1373.91,469.87 1375.09,473.03 1376.26,471.27 1377.43,472.03 1378.6,472.52 1379.77,471.07 1380.94,471.8 1382.11,472.92 1383.29,472.87 1384.46,474.85 1385.63,473.49 1386.8,470.24 1387.97,471.54 1389.14,473.81 1390.31,471.84 1391.49,470.12 1392.66,467.92 1393.83,469.09 1395,469.96 1396.17,474.77 1397.34,475.97 1398.51,474.97 1399.69,471.34 1400.86,471.14 1402.03,471.92 1403.2,469.07 1404.37,472.97 1405.54,473.07 1406.71,472.33 1407.89,475.61 1409.06,475.18 1410.23,474.16 1411.4,472.58 1412.57,474.05 1413.74,473.44 1414.91,475.51 1416.09,473.55 1417.26,474.94 1418.43,474.64 1419.6,472.22 1420.77,472.5 1421.94,471.44 1423.11,471.53 1424.29,473.16 1425.46,476.93 1426.63,473.56 1427.8,470.51 1428.97,472.44 1430.14,459.26 1431.31,441.09 1432.49,460.94 1433.66,473.86 1434.83,471.44 1436,470.77 1437.17,446.72 1438.34,422.77 1439.51,447.25 1440.69,470.71 1441.86,469.63 1443.03,472.45 1444.2,473.72 1445.37,471.55 1446.54,471.97 1447.71,472.2 1448.89,472.52 1450.06,472.51 1451.23,471.9 1452.4,469.39 1453.57,470.58 1454.74,473.3 1455.91,473.79 1457.09,472.98 1458.26,476.64 1459.43,476.72 1460.6,473.05 1461.77,472.92 1462.94,474.31 1464.11,472.47 1465.29,473.52 1466.46,474.22 1467.63,474.11 1468.8,473.07 1469.97,472.1 1471.14,474.02 1472.31,474.05 1473.49,475.23 1474.66,475 1475.83,476.08 1477,476 1478.17,475.19 1479.34,474.55 1480.51,468.99 1481.69,462.59 1482.86,469.77 1484.03,473.63 1485.2,471.23 1486.37,467.59 1487.54,460.57 1488.71,469.13 1489.89,472.52 1491.06,473.1 1492.23,471.75 1493.4,471.51 1494.57,472.09 1495.74,472.31 1496.91,471.62 1498.09,472.7 1499.26,475.92 1500.43,472.94 1501.6,471.17 1502.77,469.85 1503.94,468.94 1505.11,469.92 1506.29,475.07 1507.46,475.48 1508.63,475.83 1509.8,475.21 1510.97,475.23 1512.14,475.37 1513.31,473.03 1514.49,472.34 1515.66,474.82 1516.83,474.02 1518,471.99 1519.17,474.26 1520.34,472.03 1521.51,468.17 1522.69,472 1523.86,474.14 1525.03,473.42 1526.2,472.23 1527.37,471.51 1528.54,473.21 1529.71,474.7 1530.89,474.07 1532.06,474.82 1533.23,471.92 1534.4,471.99"/>
<polyline fill="none" stroke="#3030b0" stroke-width="1" stroke-linejoin="round" points="935.8,481.87 936.97,482.37 938.14,483.1 939.31,483.36 940.49,482.86 941.66,484.38 942.83,483.59 944,484.53 945.17,484.15 946.34,484.65 947.51,485.59 948.69,484.47 949.86,483.12 951.03,479.54 952.2,481.49 953.37,480.98 954.54,481.34 955.71,482.06 956.89,485.13 958.06,483.46 959.23,483.46 960.4,483.16 961.57,482.94 962.74,480.92 963.91,480.29 965.09,483.63 966.26,484.17 967.43,482.76 968.6,481.46 969.77,482.72 970.94,483.05 972.11,480.32 973.29,480.99 974.46,482.75 975.63,481.79 976.8,483.86 977.97,484.68 979.14,483.18 980.31,481.36 981.49,474.24 982.66,467.73 983.83,475.52 985,478.01 986.17,468.03 987.34,474.12 988.51,482.98 989.69,484.47 990.86,482.5 992.03,479.45 993.2,482.27 994.37,482.13 995.54,481.95 996.71,481.78 997.89,479.93 999.06,484.22 1000.23,484.77 1001.4,480.2 1002.57,480.94 1003.74,483.82 1004.91,484.39 1006.09,483.57 1007.26,481.97 1008.43,482.22 1009.6,480.72 1010.77,479.82 1011.94,483 1013.11,483.47 1014.29,484.33 1015.46,484.56 1016.63,485.11 1017.8,484.9 1018.97,485.5 1020.14,485.91 1021.31,486.69 1022.49,482.18 1023.66,481.07 1024.83,482.17 1026,483.34 1027.17,483.85 1028.34,485.29 1029.51,486.27 1030.69,470.26 1031.86,448.29 1033.03,467.8 1034.2,483.9 1035.37,483.8 1036.54,484.24 1037.71,482.68 1038.89,457.5 1040.06,434.7 1041.23,458.66 1042.4,483.56 1043.57,483.31 1044.74,482.6 1045.91,479.61 1047.09,479.69 1048.26,481.27 1049.43,480.47 1050.6,481.73 1051.77,483.91 1052.94,485.09 1054.11,484.49 1055.29,485.18 1056.46,481.36 1057.63,482.7 1058.8,481.43 1059.97,481.99 1061.14,483.01 1062.31,481.84 1063.49,480.64 1064.66,483.36 1065.83,483.12 1067,482.02 1068.17,481.52 1069.34,481.18 1070.51,481.55 1071.69,481.94 1072.86,483.63 1074.03,482.36 1075.2,486.35 1076.37,487.09 1077.54,482.47 1078.71,480.78 1079.89,482.47 1081.06,482.42 1082.23,480.57 1083.4,483.27 1084.57,482.33 1085.74,481.72 1086.91,483.63 1088.09,483.98 1089.26,483.3 1090.43,483.27 1091.6,484.15 1092.77,484.77 1093.94,483.97 1095.11,484.42 1096.29,485.11 1097.46,481.77 1098.63,482.55 1099.8,485.38 1100.97,486.25 1102.14,484.94 1103.31,480.95 1104.49,480.84 1105.66,483.16 1106.83,484.12 1108,485.76 1109.17,477.16 1110.34,480.2 1111.51,481.2 1112.69,483.8 1113.86,482.63 1115.03,482.72 1116.2,483.01 1117.37,480.86 1118.54,480.43 1119.71,480.42 1120.89,480.89 1122.06,480.14 1123.23,484.85 1124.4,487.3 1125.57,484.64 1126.74,481.6 1127.91,480.92 1129.09,482.9 1130.26,482.51 1131.43,482.18 1132.6,483.66 1133.77,480.05 1134.94,471.61 1136.11,465.17 1137.29,474.69 1138.46,483.9 1139.63,482.31 1140.8,482.52 1141.97,482.3 1143.14,485.03 1144.31,483.74 1145.49,479.48 1146.66,482.49 1147.83,476.77 1149,470.54 1150.17,477.37 1151.34,482.64 1152.51,483.63 1153.69,484.02 1154.86,482 1156.03,480.57 1157.2,480.51 1158.37,482.25 1159.54,483.06 1160.71,485.31 1161.89,482.53 1163.06,468.64 1164.23,457.28 1165.4,469.37 1166.57,481.86 1167.74,482.32 1168.91,482.82 1170.09,478.81 1171.26,482.84 1172.43,483.49 1173.6,484.09 1174.77,479.56 1175.94,450.86 1177.11,433.96 1178.29,450.82 1179.46,479.12 1180.63,481.28 1181.8,457.18 1182.97,440.57 1184.14,454.81 1185.31,472.39 1186.49,476.73 1187.66,480.19 1188.83,483.52 1190,481.26 1191.17,463.89 1192.34,449.99 1193.51,463.13 1194.69,474.75 1195.86,465.67 1197.03,464.65 1198.2,459.72 1199.37,470.18 1200.54,481.35 1201.71,480.1 1202.89,482.66 1204.06,482.47 1205.23,473.16 1206.4,464.95 1207.57,473.12 1208.74,482.87 1209.91,484.4 1211.09,459.27 1212.26,442.83 1213.43,457.12 1214.6,477.88 1215.77,479.98 1216.94,470.9 1218.11,439.4 1219.29,421.86 1220.46,439.67 1221.63,465.22 1222.8,429.89 1223.97,411.33 1225.14,429.71 1226.31,464.82 1227.49,459 1228.66,447.99 1229.83,439.53 1231,338.22 1232.17,299.93 1233.34,338.21 1234.51,442.93 1235.69,465.87 1236.86,445.35 1238.03,430.35 1239.2,446.02 1240.37,458.01 1241.54,448.25 1242.71,458 1243.89,441.32 1245.06,424.58 1246.23,441.63 1247.4,473.41 1248.57,478.79 1249.74,457.5 1250.91,442.75 1252.09,457.44 1253.26,461.43 1254.43,447.53 1255.6,460.48 1256.77,477.71 1257.94,479.24 1259.11,463.72 1260.29,450.16 1261.46,462.87 1262.63,478.15 1263.8,466.98 1264.97,454.39 1266.14,465.23 1267.31,476.83 1268.49,458.09 1269.66,443.24 1270.83,457.9 1272,480.68 1273.17,486.49 1274.34,483.85 1275.51,485.04 1276.69,478.52 1277.86,446.15 1279.03,429.61 1280.2,447.65 1281.37,481.54 1282.54,483.6 1283.71,467.02 1284.89,454.39 1286.06,468.66 1287.23,485.2 1288.4,482.86 1289.57,479.46 1290.74,474.89 1291.91,476.71 1293.09,482.1 1294.26,479.43 1295.43,479.97 1296.6,475.93 1297.77,467.84 1298.94,475.3 1300.11,483.25 1301.29,475.73 1302.46,466.74 1303.63,475.36 1304.8,483.65 1305.97,481.98 1307.14,464.08 1308.31,449.59 1309.49,463.06 1310.66,481.42 1311.83,487.42 1313,485.5 1314.17,482.03 1315.34,482.11 1316.51,481.61 1317.69,479.98 1318.86,480.43 1320.03,482.95 1321.2,480.99 1322.37,479.12 1323.54,481.5 1324.71,483.39 1325.89,485.91 1327.06,489.26 1328.23,490.53 1329.4,487.67 1330.57,484.36 1331.74,485.59 1332.91,487.28 1334.09,484.39 1335.26,483.5 1336.43,486.94 1337.6,485.99 1338.77,483.58 1339.94,482.45 1341.11,483.18 1342.29,482.79 1343.46,482.37 1344.63,483.56 1345.8,483.91 1346.97,484.22 1348.14,485.57 1349.31,482.3 1350.49,482.78 1351.66,480.82 1352.83,481.05 1354,483.81 1355.17,481.26 1356.34,480.69 1357.51,483.87 1358.69,485.34 1359.86,485.05 1361.03,482.12 1362.2,480.33 1363.37,480.31 1364.54,481.76 1365.71,482.92 1366.89,484.78 1368.06,484.08 1369.23,483.97 1370.4,483.77 1371.57,482.5 1372.74,483.34 1373.91,481.84 1375.09,481.38 1376.26,481.76 1377.43,481.83 1378.6,480.64 1379.77,483.54 1380.94,485.33 1382.11,483.57 1383.29,481.05 1384.46,480.95 1385.63,483.23 1386.8,482.59 1387.97,481.81 1389.14,484.04 1390.31,484.72 1391.49,483.34 1392.66,481.3 1393.83,479.66 1395,480.96 1396.17,482.07 1397.34,482.21 1398.51,481.89 1399.69,482.42 1400.86,480.91 1402.03,481.28 1403.2,484.39 1404.37,482.11 1405.54,480.2 1406.71,483.14 1407.89,483.28 1409.06,482.44 1410.23,484.5 1411.4,484.24 1412.57,482 1413.74,483.62 1414.91,484.11 1416.09,483.22 1417.26,479.81 1418.43,480.34 1419.6,480.73 1420.77,482.01 1421.94,483.94 1423.11,482.95 1424.29,484.14 1425.46,482.95 1426.63,481.49 1427.8,482.35 1428.97,484.22 1430.14,467.97 1431.31,449.14 1432.49,467.13 1433.66,478.54 1434.83,483.18 1436,482.64 1437.17,461.7 1438.34,439.01 1439.51,461.66 1440.69,482.1 1441.86,485.03 1443.03,484.38 1444.2,484.83 1445.37,481 1446.54,483.02 1447.71,482.71 1448.89,482.05 1450.06,483.63 1451.23,484.72 1452.4,483.44 1453.57,482.12 1454.74,483.58 1455.91,482.25 1457.09,482.67 1458.26,484.37 1459.43,483.05 1460.6,484.12 1461.77,485.99 1462.94,485.44 1464.11,485.26 1465.29,482.53 1466.46,481.48 1467.63,481.06 1468.8,481.45 1469.97,484.15 1471.14,482.85 1472.31,480.26 1473.49,484.99 1474.66,485.81 1475.83,484.8 1477,483.68 1478.17,482.9 1479.34,484.27 1480.51,479.1 1481.69,469.54 1482.86,478.03 1484.03,484.11 1485.2,485.25 1486.37,476.93 1487.54,468.86 1488.71,477.64 1489.89,480.77 1491.06,480.49 1492.23,482.34 1493.4,481.67 1494.57,481.46 1495.74,483.91 1496.91,484.07 1498.09,482.24 1499.26,481.53 1500.43,482.41 1501.6,482.04 1502.77,483.85 1503.94,482.31 1505.11,482.35 1506.29,483.1 1507.46,479.1 1508.63,479.11 1509.8,481.61 1510.97,482.14 1512.14,483.24 1513.31,482.03 1514.49,483.29 1515.66,483.35 1516.83,483.4 1518,481.55 1519.17,479.94 1520.34,480.45 1521.51,482.09 1522.69,483.12 1523.86,482.21 1525.03,479.65 1526.2,479.11 1527.37,479.55 1528.54,480.52 1529.71,479.3 1530.89,477.55 1532.06,482.64 1533.23,485.56 1534.4,485.92"/>
<polyline fill="none" stroke="#1e1e1e" stroke-width="1" stroke-linejoin="round" points="935.8,492.85 936.97,492.19 938.14,491.59 939.31,488.84 940.49,490.62 941.66,493.09 942.83,495.63 944,494.83 945.17,493.2 946.34,491.16 947.51,492.22 948.69,493.2 949.86,492.66 951.03,490.17 952.2,491.83 953.37,490.81 954.54,489.78 955.71,486.98 956.89,488.41 958.06,492.42 959.23,492.49 960.4,489.02 961.57,482.8 962.74,491.06 963.91,491.97 965.09,495.46 966.26,493.66 967.43,491.57 968.6,489.52 969.77,491.56 970.94,493.58 972.11,491.83 973.29,491.97 974.46,492.39 975.63,492.32 976.8,494.58 977.97,495.26 979.14,493.26 980.31,493.31 981.49,488.79 982.66,480.96 983.83,489.4 985,493.02 986.17,490.05 987.34,491.97 988.51,491.95 989.69,493.61 990.86,492.23 992.03,494.88 993.2,495.15 994.37,492.77 995.54,495.06 996.71,496.1 997.89,495.43 999.06,493.71 1000.23,491.43 1001.4,488.91 1002.57,491.62 1003.74,492.37 1004.91,493.47 1006.09,494.83 1007.26,493.83 1008.43,494.57 1009.6,493.66 1010.77,494.7 1011.94,495 1013.11,496.4 1014.29,494.14 1015.46,491.79 1016.63,491.32 1017.8,491.06 1018.97,491.05 1020.14,492.85 1021.31,490.91 1022.49,491.71 1023.66,492.57 1024.83,491.43 1026,491.89 1027.17,494.16 1028.34,497.21 1029.51,493.51 1030.69,477.68 1031.86,459.01 1033.03,477.25 1034.2,491.84 1035.37,496.94 1036.54,497.03 1037.71,493.73 1038.89,459.35 1040.06,433.29 1041.23,459.56 1042.4,492.87 1043.57,493.88 1044.74,488.36 1045.91,492.57 1047.09,492.32 1048.26,493.68 1049.43,495.86 1050.6,494.18 1051.77,490.65 1052.94,492.31 1054.11,494.42 1055.29,492.49 1056.46,491.61 1057.63,493.76 1058.8,492.7 1059.97,491.43 1061.14,492.54 1062.31,493.25 1063.49,493.36 1064.66,492.78 1065.83,493.55 1067,491.53 1068.17,490.56 1069.34,492.05 1070.51,493.01 1071.69,494.97 1072.86,494.45 1074.03,493.64 1075.2,490.67 1076.37,492.44 1077.54,494.47 1078.71,492.38 1079.89,492.45 1081.06,493.63 1082.23,494.28 1083.4,492.42 1084.57,490.62 1085.74,489.84 1086.91,491.87 1088.09,494.03 1089.26,494.36 1090.43,491.43 1091.6,489.96 1092.77,493.22 1093.94,494.97 1095.11,494.54 1096.29,493.43 1097.46,489.55 1098.63,493.66 1099.8,498.18 1100.97,496.42 1102.14,493.39 1103.31,494.26 1104.49,495.79 1105.66,496.74 1106.83,495.34 1108,492.49 1109.17,492.57 1110.34,492.99 1111.51,491.98 1112.69,494.53 1113.86,493.99 1115.03,494.99 1116.2,492.76 1117.37,492.55 1118.54,490.66 1119.71,489.15 1120.89,494.32 1122.06,494.02 1123.23,493.42 1124.4,494.46 1125.57,493.4 1126.74,490.75 1127.91,492.03 1129.09,492.06 1130.26,491.86 1131.43,491.5 1132.6,492.2 1133.77,493.46 1134.94,490.9 1136.11,490.38 1137.29,491.51 1138.46,492.72 1139.63,491.83 1140.8,492.13 1141.97,492.61 1143.14,489.9 1144.31,492.08 1145.49,492.22 1146.66,492.79 1147.83,493.48 1149,492.85 1150.17,492.36 1151.34,486.96 1152.51,482.99 1153.69,488.15 1154.86,493.27 1156.03,489.79 1157.2,482.41 1158.37,485.94 1159.54,490.9 1160.71,492.53 1161.89,493.37 1163.06,482.28 1164.23,470.91 1165.4,483.29 1166.57,494.22 1167.74,491.73 1168.91,495.57 1170.09,498.18 1171.26,493.65 1172.43,492.7 1173.6,494.47 1174.77,493.77 1175.94,475.4 1177.11,461.62 1178.29,475.78 1179.46,492.56 1180.63,485.28 1181.8,452.51 1182.97,434.23 1184.14,446.94 1185.31,456.3 1186.49,472.97 1187.66,492.51 1188.83,492.79 1190,491.62 1191.17,473.38 1192.34,458.79 1193.51,472 1194.69,477.04 1195.86,467.01 1197.03,472.74 1198.2,473.48 1199.37,485.99 1200.54,496.21 1201.71,493.07 1202.89,495.79 1204.06,491.17 1205.23,473.5 1206.4,460.39 1207.57,473.23 1208.74,490.18 1209.91,490.74 1211.09,474.43 1212.26,459.32 1213.43,472.6 1214.6,486.17 1215.77,488.7 1216.94,488.78 1218.11,463.34 1219.29,446.82 1220.46,462.51 1221.63,478.37 1222.8,445.22 1223.97,426.96 1225.14,444.35 1226.31,473.35 1227.49,454.14 1228.66,438.13 1229.83,442.84 1231,351.36 1232.17,313.09 1233.34,351.35 1234.51,454.36 1235.69,470.79 1236.86,435.69 1238.03,417.69 1239.2,436.26 1240.37,469.89 1241.54,470.09 1242.71,477.02 1243.89,469.03 1245.06,456.39 1246.23,469.89 1247.4,488.25 1248.57,489.46 1249.74,472.77 1250.91,459.63 1252.09,471.9 1253.26,467.87 1254.43,455.19 1255.6,470.97 1256.77,491.04 1257.94,492.18 1259.11,489.79 1260.29,488.12 1261.46,491.31 1262.63,492.99 1263.8,481.25 1264.97,470.88 1266.14,482.88 1267.31,491.66 1268.49,466.88 1269.66,450.64 1270.83,465.78 1272,485.94 1273.17,476.68 1274.34,464.75 1275.51,476.68 1276.69,486.58 1277.86,463.85 1279.03,447.9 1280.2,464.03 1281.37,491.39 1282.54,493.2 1283.71,473.5 1284.89,457.66 1286.06,470.72 1287.23,489.04 1288.4,490.42 1289.57,488.74 1290.74,484.54 1291.91,491.05 1293.09,494.64 1294.26,495.4 1295.43,493.42 1296.6,481.05 1297.77,471.34 1298.94,482.29 1300.11,494.01 1301.29,484.92 1302.46,476.58 1303.63,486.31 1304.8,492.98 1305.97,490.33 1307.14,485.55 1308.31,481.46 1309.49,488.67 1310.66,493.72 1311.83,492.13 1313,488.59 1314.17,486.39 1315.34,490.89 1316.51,492.02 1317.69,493.23 1318.86,493.45 1320.03,495.72 1321.2,494.61 1322.37,491.42 1323.54,491.11 1324.71,492.43 1325.89,492.69 1327.06,493.42 1328.23,490.37 1329.4,488.97 1330.57,490.82 1331.74,492.16 1332.91,493.16 1334.09,493.25 1335.26,494.57 1336.43,495.07 1337.6,494.5 1338.77,493.92 1339.94,494.08 1341.11,496.29 1342.29,496.3 1343.46,497.32 1344.63,495.83 1345.8,494.12 1346.97,495.61 1348.14,496.19 1349.31,494.66 1350.49,493.01 1351.66,490.43 1352.83,491.64 1354,497.16 1355.17,494.63 1356.34,495.25 1357.51,495.2 1358.69,490.68 1359.86,489.84 1361.03,493.59 1362.2,494.81 1363.37,493.57 1364.54,490.42 1365.71,490.44 1366.89,493.79 1368.06,495.17 1369.23,496.05 1370.4,496.82 1371.57,495.92 1372.74,494.5 1373.91,492.81 1375.09,491.15 1376.26,491.08 1377.43,491.84 1378.6,491.88 1379.77,492.14 1380.94,490.37 1382.11,490.79 1383.29,495.24 1384.46,496.42 1385.63,493.6 1386.8,492.86 1387.97,492.58 1389.14,490.21 1390.31,490.4 1391.49,493.44 1392.66,495.96 1393.83,496.29 1395,492.77 1396.17,492.2 1397.34,493.93 1398.51,492.48 1399.69,491.29 1400.86,491.7 1402.03,490.43 1403.2,490.43 1404.37,495 1405.54,497.91 1406.71,495.84 1407.89,493.76 1409.06,493.48 1410.23,494.41 1411.4,495.93 1412.57,490.67 1413.74,490.42 1414.91,490.04 1416.09,489.75 1417.26,493.68 1418.43,493.67 1419.6,493.42 1420.77,496.55 1421.94,494.75 1423.11,490.56 1424.29,494.4 1425.46,494.99 1426.63,493.93 1427.8,490.92 1428.97,491.94 1430.14,478.83 1431.31,459.11 1432.49,477.72 1433.66,493.64 1434.83,492.06 1436,490.87 1437.17,463.33 1438.34,438.46 1439.51,463.53 1440.69,491.42 1441.86,493.68 1443.03,493.32 1444.2,491.83 1445.37,493.23 1446.54,492.57 1447.71,489.68 1448.89,490.79 1450.06,491.01 1451.23,489.85 1452.4,494.04 1453.57,495.51 1454.74,495.13 1455.91,494.44 1457.09,491.8 1458.26,492.81 1459.43,494.83 1460.6,493.99 1461.77,492.79 1462.94,492.9 1464.11,493.44 1465.29,495.92 1466.46,494.08 1467.63,492.86 1468.8,490.34 1469.97,492.31 1471.14,492.19 1472.31,493.51 1473.49,495.54 1474.66,494.46 1475.83,493.35 1477,492.43 1478.17,495.9 1479.34,495.4 1480.51,487.17 1481.69,481.93 1482.86,488.27 1484.03,493.23 1485.2,495.9 1486.37,489.9 1487.54,480.31 1488.71,488.39 1489.89,493.05 1491.06,493.42 1492.23,492.43 1493.4,488.09 1494.57,488.15 1495.74,492.27 1496.91,491.75 1498.09,491.25 1499.26,492.03 1500.43,492.67 1501.6,496.84 1502.77,497.9 1503.94,495.7 1505.11,493.2 1506.29,492.21 1507.46,491.9 1508.63,491.16 1509.8,490.1 1510.97,493.91 1512.14,491.89 1513.31,490.41 1514.49,491.51 1515.66,490.8 1516.83,491.13 1518,493.48 1519.17,496.32 1520.34,494.34 1521.51,491.01 1522.69,493.04 1523.86,494.1 1525.03,495.7 1526.2,494.66 1527.37,493.13 1528.54,493.56 1529.71,494.25 1530.89,493.96 1532.06,492.62 1533.23,490.07 1534.4,492.45"/>
<polyline fill="none" stroke="#5ad65a" stroke-width="1" stroke-linejoin="round" points="935.8,503.6 936.97,502.89 938.14,507.32 939.31,507.93 940.49,506.72 941.66,503.1 942.83,504.25 944,507.33 945.17,505.26 946.34,502.39 947.51,502.34 948.69,504.29 949.86,504.74 951.03,501.55 952.2,503.74 953.37,504.98 954.54,501.67 955.71,501.28 956.89,502.65 958.06,505.06 959.23,503.94 960.4,502.65 961.57,500.91 962.74,503.24 963.91,505.64 965.09,506.69 966.26,504.98 967.43,502.2 968.6,501.4 969.77,502.38 970.94,506.58 972.11,506.99 973.29,503.75 974.46,504.57 975.63,503.59 976.8,503.28 977.97,503.48 979.14,501.03 980.31,501.29 981.49,498.11 982.66,488.45 983.83,498.59 985,498.92 986.17,487.85 987.34,497.6 988.51,504.69 989.69,503.42 990.86,503.91 992.03,502.85 993.2,503.09 994.37,506.01 995.54,505.35 996.71,503.36 997.89,503.77 999.06,502.96 1000.23,503.88 1001.4,504.21 1002.57,500.98 1003.74,503.41 1004.91,508.86 1006.09,508.31 1007.26,504.59 1008.43,502.23 1009.6,503.05 1010.77,502.56 1011.94,501.01 1013.11,502.91 1014.29,505.79 1015.46,505.2 1016.63,501.52 1017.8,503.24 1018.97,501.72 1020.14,504.36 1021.31,506.54 1022.49,504.63 1023.66,503.7 1024.83,504.18 1026,503.06 1027.17,499.96 1028.34,501.5 1029.51,501.13 1030.69,486.81 1031.86,470.74 1033.03,490.63 1034.2,504.7 1035.37,504.6 1036.54,504.38 1037.71,502.68 1038.89,475.8 1040.06,450.92 1041.23,475.41 1042.4,502.48 1043.57,504.3 1044.74,503.71 1045.91,504.32 1047.09,504.76 1048.26,504.48 1049.43,505.19 1050.6,503.4 1051.77,504.37 1052.94,504.17 1054.11,504.09 1055.29,502.06 1056.46,503.19 1057.63,502.99 1058.8,503.68 1059.97,503.48 1061.14,502.08 1062.31,500.7 1063.49,502.94 1064.66,505.86 1065.83,506.48 1067,503.07 1068.17,499.68 1069.34,501.54 1070.51,502.26 1071.69,503.41 1072.86,504.5 1074.03,506.68 1075.2,504.36 1076.37,501.86 1077.54,503.22 1078.71,505.34 1079.89,503.31 1081.06,502.53 1082.23,503.56 1083.4,506.29 1084.57,505.36 1085.74,503.74 1086.91,504.99 1088.09,504.69 1089.26,505.74 1090.43,509.53 1091.6,507.77 1092.77,504.68 1093.94,504.73 1095.11,504.38 1096.29,505.45 1097.46,501 1098.63,501.27 1099.8,503.1 1100.97,505.17 1102.14,505.69 1103.31,506.19 1104.49,503.02 1105.66,501.72 1106.83,502.81 1108,500.62 1109.17,503.47 1110.34,503.45 1111.51,501.78 1112.69,502.61 1113.86,504.44 1115.03,503.97 1116.2,502.15 1117.37,502.59 1118.54,503.5 1119.71,503.18 1120.89,503.87 1122.06,504.75 1123.23,502.66 1124.4,502.57 1125.57,504.58 1126.74,501.68 1127.91,504.41 1129.09,505 1130.26,502.09 1131.43,504.4 1132.6,506.02 1133.77,506.61 1134.94,495.27 1136.11,484.09 1137.29,494.2 1138.46,505.67 1139.63,507.85 1140.8,507.12 1141.97,505.39 1143.14,502.4 1144.31,504 1145.49,504 1146.66,503.09 1147.83,501.09 1149,504.69 1150.17,506.96 1151.34,499.78 1152.51,492.31 1153.69,500.03 1154.86,502.13 1156.03,489.77 1157.2,481.19 1158.37,492.74 1159.54,503.4 1160.71,506 1161.89,503.62 1163.06,495.5 1164.23,487.04 1165.4,495.08 1166.57,500.34 1167.74,501.14 1168.91,502.92 1170.09,501.43 1171.26,501.82 1172.43,502.94 1173.6,502.12 1174.77,501.52 1175.94,484.82 1177.11,470.71 1178.29,483.66 1179.46,498.84 1180.63,499.84 1181.8,476.41 1182.97,459.95 1184.14,467.93 1185.31,468.05 1186.49,482.19 1187.66,499.89 1188.83,504.64 1190,502.19 1191.17,485.67 1192.34,472.72 1193.51,485.46 1194.69,494.65 1195.86,486.25 1197.03,488.36 1198.2,484.06 1199.37,493.42 1200.54,502.76 1201.71,502.07 1202.89,503.81 1204.06,502.26 1205.23,496.53 1206.4,488.99 1207.57,497.8 1208.74,503.82 1209.91,500.68 1211.09,479.17 1212.26,463.92 1213.43,478.47 1214.6,497.44 1215.77,499.77 1216.94,496.51 1218.11,472.94 1219.29,456.55 1220.46,471.94 1221.63,492.55 1222.8,468.45 1223.97,451.78 1225.14,467.44 1226.31,487.85 1227.49,467.93 1228.66,451.9 1229.83,453.83 1231,358.88 1232.17,320.6 1233.34,358.88 1234.51,464.21 1235.69,482.33 1236.86,447.5 1238.03,429.2 1239.2,447.59 1240.37,479.04 1241.54,476.11 1242.71,486.23 1243.89,483.3 1245.06,471.81 1246.23,484.43 1247.4,499.25 1248.57,494.17 1249.74,462.04 1250.91,444.7 1252.09,462.56 1253.26,482.18 1254.43,471.26 1255.6,484.94 1256.77,502.71 1257.94,504.89 1259.11,496.88 1260.29,487.59 1261.46,495.72 1262.63,502.91 1263.8,491.34 1264.97,479.17 1266.14,490.49 1267.31,501.65 1268.49,483.34 1269.66,469.28 1270.83,483.95 1272,502.96 1273.17,497.68 1274.34,489.94 1275.51,495.29 1276.69,498.14 1277.86,475.77 1279.03,460.56 1280.2,476.23 1281.37,500.17 1282.54,500.61 1283.71,485.1 1284.89,474.64 1286.06,488.24 1287.23,503.08 1288.4,501.4 1289.57,492.85 1290.74,484.3 1291.91,492.66 1293.09,502.59 1294.26,505.9 1295.43,503.8 1296.6,494.42 1297.77,486.67 1298.94,495.94 1300.11,504.6 1301.29,495.74 1302.46,484.08 1303.63,494.59 1304.8,502.65 1305.97,504.62 1307.14,498.02 1308.31,488.31 1309.49,494.62 1310.66,501.85 1311.83,503.64 1313,498.05 1314.17,492.13 1315.34,500.23 1316.51,504.36 1317.69,502.13 1318.86,502.02 1320.03,503.98 1321.2,503.29 1322.37,503.94 1323.54,504.19 1324.71,505.39 1325.89,505.68 1327.06,506.07 1328.23,495.4 1329.4,509.09 1330.57,506.09 1331.74,505.02 1332.91,505.8 1334.09,505.84 1335.26,503.46 1336.43,504.81 1337.6,504.66 1338.77,503.58 1339.94,501.01 1341.11,501.29 1342.29,503.49 1343.46,503.92 1344.63,503.31 1345.8,503.18 1346.97,503.13 1348.14,503.57 1349.31,503.27 1350.49,505.6 1351.66,504.07 1352.83,503.9 1354,504.05 1355.17,503.26 1356.34,501.45 1357.51,503.15 1358.69,504.69 1359.86,504.14 1361.03,504.78 1362.2,505.95 1363.37,505.11 1364.54,502.7 1365.71,504.71 1366.89,502.58 1368.06,500.77 1369.23,501.88 1370.4,500.59 1371.57,502.19 1372.74,501.23 1373.91,504.48 1375.09,504.64 1376.26,504.98 1377.43,504.45 1378.6,504.16 1379.77,502.29 1380.94,497.23 1382.11,501.76 1383.29,503.75 1384.46,506.32 1385.63,504.08 1386.8,501.35 1387.97,502.22 1389.14,501.4 1390.31,503.55 1391.49,503.82 1392.66,502.33 1393.83,503.69 1395,503.47 1396.17,504.78 1397.34,503.15 1398.51,501.89 1399.69,503.9 1400.86,503.29 1402.03,503.6 1403.2,503.6 1404.37,501.83 1405.54,503.22 1406.71,505.99 1407.89,504.52 1409.06,503.87 1410.23,505.06 1411.4,505.23 1412.57,503.91 1413.74,503.75 1414.91,500.93 1416.09,500.92 1417.26,501.67 1418.43,505.14 1419.6,505.23 1420.77,502.02 1421.94,504.11 1423.11,507.81 1424.29,503.91 1425.46,502.27 1426.63,504.71 1427.8,503.48 1428.97,499.76 1430.14,487.95 1431.31,471.55 1432.49,491.11 1433.66,504.42 1434.83,505.7 1436,505.56 1437.17,479.66 1438.34,455 1439.51,477.9 1440.69,503.15 1441.86,504.65 1443.03,502.99 1444.2,501.57 1445.37,502.38 1446.54,504.53 1447.71,503.46 1448.89,502.23 1450.06,501.67 1451.23,502.61 1452.4,502.7 1453.57,502.4 1454.74,502.9 1455.91,505.09 1457.09,505.36 1458.26,502.24 1459.43,500.42 1460.6,500.97 1461.77,501.07 1462.94,503.01 1464.11,503.78 1465.29,504.03 1466.46,502.71 1467.63,499.85 1468.8,500.81 1469.97,503.58 1471.14,499.62 1472.31,502.76 1473.49,501.26 1474.66,500.43 1475.83,501.22 1477,502.61 1478.17,503.34 1479.34,505.26 1480.51,503 1481.69,498.05 1482.86,499.04 1484.03,499.34 1485.2,499.26 1486.37,497.6 1487.54,493.53 1488.71,500.03 1489.89,502.17 1491.06,502.29 1492.23,502.64 1493.4,502.93 1494.57,502.32 1495.74,501.53 1496.91,502.04 1498.09,502.51 1499.26,506.44 1500.43,505.71 1501.6,503.27 1502.77,503.51 1503.94,504.3 1505.11,504.27 1506.29,503.9 1507.46,500.87 1508.63,500.75 1509.8,502.55 1510.97,503.98 1512.14,503.19 1513.31,503.85 1514.49,504.42 1515.66,502.7 1516.83,504.49 1518,503.81 1519.17,502.54 1520.34,503.68 1521.51,504.5 1522.69,502.77 1523.86,503.9 1525.03,503.91 1526.2,504.61 1527.37,505.97 1528.54,507.23 1529.71,504.92 1530.89,502.02 1532.06,503.16 1533.23,498.62 1534.4,500.64"/>
<polyline fill="none" stroke="#d04444" stroke-width="1" stroke-linejoin="round" points="935.8,515.73 936.97,511.69 938.14,513.95 939.31,514.68 940.49,514.41 941.66,515.42 942.83,517.76 944,515.27 945.17,513.09 946.34,514.94 947.51,515.01 948.69,510.84 949.86,511.75 951.03,514.14 952.2,513.34 953.37,513.5 954.54,516.56 955.71,514.44 956.89,511.84 958.06,510.33 959.23,511.86 960.4,516.24 961.57,517.03 962.74,515.49 963.91,514.49 965.09,514.61 966.26,516.99 967.43,516.01 968.6,509.11 969.77,513.85 970.94,510.4 972.11,512.27 973.29,514.14 974.46,513.34 975.63,513.66 976.8,514.99 977.97,516.49 979.14,517.75 980.31,513.57 981.49,511.77 982.66,505.53 983.83,509.66 985,503.76 986.17,494.36 987.34,506.8 988.51,515.42 989.69,517.3 990.86,516.84 992.03,514.78 993.2,515.48 994.37,513.31 995.54,512.55 996.71,507.85 997.89,515.09 999.06,514.33 1000.23,515.89 1001.4,513.62 1002.57,512.01 1003.74,513.37 1004.91,514.47 1006.09,516.36 1007.26,516.67 1008.43,515.27 1009.6,517.21 1010.77,518.3 1011.94,516.66 1013.11,514.69 1014.29,513.21 1015.46,514.73 1016.63,515.72 1017.8,514.5 1018.97,514.24 1020.14,513.95 1021.31,515.44 1022.49,514.99 1023.66,513.61 1024.83,515.16 1026,518.01 1027.17,516.89 1028.34,511.01 1029.51,513.29 1030.69,498.66 1031.86,479.66 1033.03,498.98 1034.2,510.61 1035.37,510.88 1036.54,513.55 1037.71,512.23 1038.89,484.87 1040.06,460.2 1041.23,484.02 1042.4,508.17 1043.57,512.56 1044.74,514.63 1045.91,514.03 1047.09,513.73 1048.26,513.15 1049.43,511.46 1050.6,513.34 1051.77,513.83 1052.94,514.73 1054.11,514.1 1055.29,512.01 1056.46,511.92 1057.63,513.49 1058.8,511.49 1059.97,512.35 1061.14,512.79 1062.31,513.93 1063.49,514.27 1064.66,514 1065.83,513.68 1067,514.23 1068.17,513.46 1069.34,513.72 1070.51,515.1 1071.69,515.27 1072.86,515.15 1074.03,513.38 1075.2,512.17 1076.37,512.19 1077.54,513.91 1078.71,513.49 1079.89,512.63 1081.06,512.19 1082.23,513.83 1083.4,515.89 1084.57,513.11 1085.74,511 1086.91,512.78 1088.09,514.91 1089.26,518.08 1090.43,519.24 1091.6,516.4 1092.77,515.27 1093.94,512.93 1095.11,511.69 1096.29,512.51 1097.46,515.39 1098.63,515.73 1099.8,516.4 1100.97,515.16 1102.14,513.65 1103.31,515.91 1104.49,512.43 1105.66,510.07 1106.83,510.46 1108,510.89 1109.17,513.69 1110.34,513.84 1111.51,513.59 1112.69,515.49 1113.86,515.27 1115.03,516.73 1116.2,516.91 1117.37,516.16 1118.54,515.48 1119.71,516.05 1120.89,515.78 1122.06,516.4 1123.23,516.13 1124.4,513.8 1125.57,514.09 1126.74,514.57 1127.91,514.18 1129.09,511.23 1130.26,514.51 1131.43,515.41 1132.6,513.04 1133.77,508.33 1134.94,502.41 1136.11,494.88 1137.29,504.2 1138.46,514.8 1139.63,513.3 1140.8,512.7 1141.97,511.12 1143.14,513.77 1144.31,516.22 1145.49,515.49 1146.66,516.31 1147.83,514.57 1149,508.95 1150.17,512.02 1151.34,508.45 1152.51,501.49 1153.69,509.01 1154.86,513.12 1156.03,502.84 1157.2,494.34 1158.37,504.74 1159.54,515.3 1160.71,517.14 1161.89,513.57 1163.06,498.58 1164.23,487.62 1165.4,499.3 1166.57,511.37 1167.74,513.14 1168.91,516.17 1170.09,516.68 1171.26,514.65 1172.43,514.88 1173.6,516.36 1174.77,512.59 1175.94,489.3 1177.11,472.88 1178.29,488.29 1179.46,511.04 1180.63,511.74 1181.8,488.98 1182.97,473.2 1184.14,485.4 1185.31,493.82 1186.49,507.56 1187.66,514.86 1188.83,514.83 1190,510.88 1191.17,493.23 1192.34,479.6 1193.51,494.06 1194.69,507.12 1195.86,499.71 1197.03,492.88 1198.2,480.88 1199.37,494.82 1200.54,513.58 1201.71,514.14 1202.89,515.62 1204.06,513.86 1205.23,501.75 1206.4,489.79 1207.57,500.53 1208.74,515.25 1209.91,513.21 1211.09,488.09 1212.26,472.51 1213.43,487.43 1214.6,509.37 1215.77,511.92 1216.94,506.02 1218.11,488.14 1219.29,473.82 1220.46,488.89 1221.63,502.3 1222.8,473.37 1223.97,456.35 1225.14,473.2 1226.31,499.28 1227.49,482.49 1228.66,468.72 1229.83,468.34 1231,371.9 1232.17,333.63 1233.34,371.91 1234.51,475.9 1235.69,493.39 1236.86,466.21 1238.03,449.51 1239.2,466.82 1240.37,477.93 1241.54,464.36 1242.71,478.99 1243.89,478.37 1245.06,463.61 1246.23,480.34 1247.4,508.31 1248.57,509.81 1249.74,488.14 1250.91,474.24 1252.09,489.3 1253.26,495.12 1254.43,482.97 1255.6,497.23 1256.77,514.32 1257.94,512.99 1259.11,509.02 1260.29,501.66 1261.46,508.01 1262.63,514.15 1263.8,505.85 1264.97,497.48 1266.14,506.75 1267.31,512.8 1268.49,490.54 1269.66,476.45 1270.83,491.82 1272,511.16 1273.17,514.38 1274.34,515.7 1275.51,515.31 1276.69,512.01 1277.86,494.03 1279.03,479.91 1280.2,493.48 1281.37,510.55 1282.54,511.98 1283.71,498.78 1284.89,485.34 1286.06,498.14 1287.23,510.15 1288.4,512.77 1289.57,508.51 1290.74,503.16 1291.91,511.32 1293.09,513.69 1294.26,513.01 1295.43,516.23 1296.6,511.98 1297.77,505.35 1298.94,508.51 1300.11,513.01 1301.29,513.81 1302.46,513.76 1303.63,512.96 1304.8,515.83 1305.97,515.28 1307.14,504.46 1308.31,494.49 1309.49,503.8 1310.66,516.43 1311.83,516.12 1313,512.34 1314.17,513.54 1315.34,515.85 1316.51,515.02 1317.69,513.75 1318.86,513.1 1320.03,515.11 1321.2,515.17 1322.37,516.54 1323.54,516.52 1324.71,516.37 1325.89,517.3 1327.06,515.65 1328.23,516.66 1329.4,515.87 1330.57,513.92 1331.74,512.42 1332.91,510.27 1334.09,512.43 1335.26,514.57 1336.43,513.76 1337.6,515.68 1338.77,514.44 1339.94,512.58 1341.11,514.79 1342.29,513.61 1343.46,515.06 1344.63,514.34 1345.8,513.82 1346.97,513.76 1348.14,512.88 1349.31,513.09 1350.49,513.54 1351.66,512.61 1352.83,512.01 1354,513.34 1355.17,514.42 1356.34,514.99 1357.51,511.61 1358.69,513.13 1359.86,515.38 1361.03,517.59 1362.2,516.26 1363.37,513.34 1364.54,513.14 1365.71,514.47 1366.89,517.08 1368.06,518.09 1369.23,516.71 1370.4,515.41 1371.57,512.59 1372.74,509.11 1373.91,514.81 1375.09,515.22 1376.26,516.84 1377.43,513.59 1378.6,513.91 1379.77,511.98 1380.94,509.59 1382.11,510.87 1383.29,513.4 1384.46,511.89 1385.63,511.13 1386.8,509.83 1387.97,510.98 1389.14,511.74 1390.31,515.2 1391.49,513.25 1392.66,508.89 1393.83,510.28 1395,513.46 1396.17,511.56 1397.34,509.31 1398.51,510.28 1399.69,515.49 1400.86,514.95 1402.03,513.42 1403.2,515.47 1404.37,512.87 1405.54,513.32 1406.71,514.47 1407.89,513.57 1409.06,515.5 1410.23,513.28 1411.4,514.27 1412.57,514.86 1413.74,515.68 1414.91,514.08 1416.09,514.17 1417.26,514.79 1418.43,516.9 1419.6,515.28 1420.77,513.53 1421.94,514.76 1423.11,511.89 1424.29,511.05 1425.46,513.71 1426.63,515.92 1427.8,518.16 1428.97,515.63 1430.14,499.6 1431.31,480.4 1432.49,499.91 1433.66,513 1434.83,515.89 1436,515.21 1437.17,489.64 1438.34,465.52 1439.51,490.15 1440.69,513.96 1441.86,514.7 1443.03,516.56 1444.2,516.49 1445.37,511.18 1446.54,512.1 1447.71,510.81 1448.89,515.22 1450.06,516.08 1451.23,515.45 1452.4,513.05 1453.57,513 1454.74,514.48 1455.91,514.97 1457.09,514.8 1458.26,513.88 1459.43,513.96 1460.6,513.7 1461.77,512.42 1462.94,512.51 1464.11,512 1465.29,512.98 1466.46,513.44 1467.63,513.75 1468.8,515.93 1469.97,518.02 1471.14,518.36 1472.31,514.8 1473.49,512.25 1474.66,514.07 1475.83,515.19 1477,516.36 1478.17,515.67 1479.34,514.31 1480.51,513.39 1481.69,508.39 1482.86,510.87 1484.03,510.04 1485.2,512.21 1486.37,510.04 1487.54,505.51 1488.71,509.37 1489.89,510.2 1491.06,512.27 1492.23,514.16 1493.4,516.41 1494.57,518.8 1495.74,517.55 1496.91,515.76 1498.09,515.1 1499.26,514.14 1500.43,514.52 1501.6,514.8 1502.77,517.74 1503.94,518.04 1505.11,516.08 1506.29,514.77 1507.46,518.06 1508.63,516.48 1509.8,516.34 1510.97,517.42 1512.14,517.3 1513.31,515.34 1514.49,513.95 1515.66,514.45 1516.83,516.58 1518,514.26 1519.17,513.12 1520.34,515.04 1521.51,516.6 1522.69,513.5 1523.86,513.07 1525.03,515.95 1526.2,516.03 1527.37,516.81 1528.54,513.1 1529.71,515.35 1530.89,518.89 1532.06,518.19 1533.23,517.42 1534.4,516.72"/>
<polyline fill="none" stroke="#3030b0" stroke-width="1" stroke-linejoin="round" points="935.8,523.62 936.97,523.43 938.14,524.37 939.31,524.47 940.49,522.12 941.66,523.87 942.83,523.61 944,523.36 945.17,525.2 946.34,527.9 947.51,527.27 948.69,525.3 949.86,526.75 951.03,527.38 952.2,527.82 953.37,527.09 954.54,523.4 955.71,520.9 956.89,522.81 958.06,522.03 959.23,521.34 960.4,523.58 961.57,524.21 962.74,526.48 963.91,525.01 965.09,523.98 966.26,523.35 967.43,524.01 968.6,523.43 969.77,521.5 970.94,521.3 972.11,523.67 973.29,528.93 974.46,527.07 975.63,526.66 976.8,528.21 977.97,525.07 979.14,524.49 980.31,522.19 981.49,519.28 982.66,513.15 983.83,520.45 985,522.23 986.17,518.05 987.34,523.92 988.51,527.27 989.69,525.22 990.86,524.66 992.03,526.25 993.2,525.24 994.37,524.82 995.54,525.58 996.71,526.54 997.89,524.57 999.06,525.79 1000.23,525.46 1001.4,524.29 1002.57,521 1003.74,522.35 1004.91,522.27 1006.09,521.97 1007.26,524.57 1008.43,524.49 1009.6,527.19 1010.77,526.51 1011.94,523.28 1013.11,525.16 1014.29,525.58 1015.46,523.14 1016.63,523.12 1017.8,526.17 1018.97,525.63 1020.14,525.67 1021.31,527.23 1022.49,525.75 1023.66,525.79 1024.83,525.06 1026,523.34 1027.17,522.43 1028.34,523.55 1029.51,521.96 1030.69,507.8 1031.86,489.77 1033.03,509.48 1034.2,525.62 1035.37,525.67 1036.54,527.82 1037.71,527.29 1038.89,489.22 1040.06,462.58 1041.23,489.54 1042.4,524.63 1043.57,524.78 1044.74,524.02 1045.91,524.97 1047.09,526.77 1048.26,525.26 1049.43,525.18 1050.6,526.72 1051.77,525.94 1052.94,528.06 1054.11,526.34 1055.29,524.62 1056.46,523.77 1057.63,523.17 1058.8,522.92 1059.97,523.97 1061.14,526.67 1062.31,527.71 1063.49,528.42 1064.66,526.51 1065.83,525.1 1067,525.55 1068.17,523.11 1069.34,523.06 1070.51,525.29 1071.69,528.88 1072.86,524.19 1074.03,522.94 1075.2,525.45 1076.37,525.28 1077.54,525.24 1078.71,524.5 1079.89,525.91 1081.06,525.05 1082.23,525.46 1083.4,527.09 1084.57,524.82 1085.74,524.85 1086.91,527.09 1088.09,528.44 1089.26,527.21 1090.43,527.17 1091.6,525.57 1092.77,525.2 1093.94,528.05 1095.11,526.11 1096.29,521.46 1097.46,522.94 1098.63,525.95 1099.8,526.06 1100.97,524.22 1102.14,524.93 1103.31,525.9 1104.49,526.53 1105.66,527.2 1106.83,526.8 1108,526.02 1109.17,525.71 1110.34,524.97 1111.51,525.57 1112.69,523.39 1113.86,523.7 1115.03,525.24 1116.2,525.93 1117.37,523.5 1118.54,525.43 1119.71,524.93 1120.89,521.91 1122.06,526.94 1123.23,527.7 1124.4,525.55 1125.57,525.19 1126.74,523.5 1127.91,522.79 1129.09,522.9 1130.26,522.93 1131.43,525.22 1132.6,526 1133.77,524.11 1134.94,523.97 1136.11,524.91 1137.29,522.38 1138.46,523.94 1139.63,528.24 1140.8,526.96 1141.97,525.19 1143.14,522.39 1144.31,524.93 1145.49,525.67 1146.66,525.67 1147.83,518.7 1149,508.99 1150.17,514.69 1151.34,513.82 1152.51,507.42 1153.69,515.81 1154.86,525.29 1156.03,523.2 1157.2,523.57 1158.37,524.8 1159.54,523.57 1160.71,524.3 1161.89,522.8 1163.06,522.42 1164.23,522.08 1165.4,525.87 1166.57,526.06 1167.74,523.21 1168.91,524.19 1170.09,524.87 1171.26,523.28 1172.43,522.08 1173.6,523.81 1174.77,524.53 1175.94,501.88 1177.11,485.75 1178.29,500.27 1179.46,521.98 1180.63,521.61 1181.8,497.09 1182.97,479.81 1184.14,491.7 1185.31,498.54 1186.49,510.46 1187.66,522.9 1188.83,525.08 1190,521.89 1191.17,506.39 1192.34,493.79 1193.51,506.03 1194.69,505.65 1195.86,491.21 1197.03,496.48 1198.2,495.41 1199.37,507.03 1200.54,521.78 1201.71,524.64 1202.89,525.43 1204.06,520.75 1205.23,503.9 1206.4,492.46 1207.57,506.7 1208.74,524.85 1209.91,522.16 1211.09,494.12 1212.26,477.93 1213.43,494.39 1214.6,518.48 1215.77,522.98 1216.94,520.33 1218.11,494.62 1219.29,478.18 1220.46,493.62 1221.63,507.54 1222.8,471.52 1223.97,453.04 1225.14,471.15 1226.31,505.06 1227.49,500.89 1228.66,490.82 1229.83,485.93 1231,388.17 1232.17,349.91 1233.34,388.16 1234.51,489.86 1235.69,502.87 1236.86,469.84 1238.03,452.16 1239.2,470.54 1240.37,494.38 1241.54,485.6 1242.71,498.57 1243.89,497.98 1245.06,484.86 1246.23,499.33 1247.4,519.93 1248.57,519.95 1249.74,494.37 1250.91,478.34 1252.09,493.99 1253.26,507.6 1254.43,498.43 1255.6,508.57 1256.77,524.38 1257.94,522.57 1259.11,516.83 1260.29,510.22 1261.46,517.63 1262.63,523.21 1263.8,517.17 1264.97,509.93 1266.14,517.35 1267.31,522.83 1268.49,514.24 1269.66,506.08 1270.83,515.81 1272,525.1 1273.17,509.49 1274.34,498.27 1275.51,507.58 1276.69,517.22 1277.86,495.99 1279.03,480.23 1280.2,496.34 1281.37,521.86 1282.54,519.45 1283.71,489.22 1284.89,472.22 1286.06,489.62 1287.23,517.12 1288.4,519.78 1289.57,519.61 1290.74,519.14 1291.91,522.36 1293.09,527.35 1294.26,527.07 1295.43,524.67 1296.6,511.92 1297.77,499.37 1298.94,509.8 1300.11,521.38 1301.29,514.99 1302.46,505.42 1303.63,513.53 1304.8,522.31 1305.97,524.16 1307.14,514.33 1308.31,504.99 1309.49,515.16 1310.66,524.39 1311.83,525.09 1313,523.09 1314.17,520.16 1315.34,524.47 1316.51,526.22 1317.69,525.7 1318.86,524.79 1320.03,522.78 1321.2,525.71 1322.37,527.6 1323.54,525.93 1324.71,521.91 1325.89,522.83 1327.06,525.43 1328.23,525.87 1329.4,521.96 1330.57,520.82 1331.74,522.89 1332.91,525.97 1334.09,524.48 1335.26,524.18 1336.43,525.43 1337.6,523.32 1338.77,524.4 1339.94,525.79 1341.11,525.31 1342.29,525.47 1343.46,526.58 1344.63,525.98 1345.8,527.12 1346.97,526.53 1348.14,525.72 1349.31,523.93 1350.49,523.96 1351.66,523.43 1352.83,521.81 1354,523.7 1355.17,522.73 1356.34,523.91 1357.51,526.37 1358.69,528.29 1359.86,527.83 1361.03,524.91 1362.2,525.46 1363.37,523.35 1364.54,524.94 1365.71,526.6 1366.89,525.1 1368.06,524.64 1369.23,527.46 1370.4,526.7 1371.57,524.16 1372.74,524.43 1373.91,526.19 1375.09,525.53 1376.26,526.48 1377.43,526.09 1378.6,525.1 1379.77,524.81 1380.94,525.14 1382.11,526.5 1383.29,526.09 1384.46,525.82 1385.63,528.56 1386.8,525.63 1387.97,524.02 1389.14,525.95 1390.31,526.02 1391.49,525.92 1392.66,523.91 1393.83,523.86 1395,527.21 1396.17,528.82 1397.34,528.57 1398.51,527.13 1399.69,524.18 1400.86,525.56 1402.03,528.62 1403.2,527.01 1404.37,526.92 1405.54,523.65 1406.71,522.89 1407.89,525.82 1409.06,524.3 1410.23,523.91 1411.4,527.61 1412.57,528.25 1413.74,528.3 1414.91,527.44 1416.09,525.05 1417.26,521.95 1418.43,521.32 1419.6,522.96 1420.77,525.37 1421.94,526.64 1423.11,528.39 1424.29,524.91 1425.46,524.37 1426.63,522.61 1427.8,521.52 1428.97,522.67 1430.14,511.62 1431.31,493.5 1432.49,510.66 1433.66,522.77 1434.83,522.67 1436,522.93 1437.17,502.95 1438.34,481.03 1439.51,503.99 1440.69,524.25 1441.86,522.32 1443.03,523.71 1444.2,523.62 1445.37,525.75 1446.54,525.16 1447.71,521.89 1448.89,523.61 1450.06,527.5 1451.23,532.32 1452.4,524.98 1453.57,522.56 1454.74,522.91 1455.91,523.83 1457.09,521.44 1458.26,520.61 1459.43,523.54 1460.6,526.42 1461.77,526.46 1462.94,524.41 1464.11,524.94 1465.29,524.79 1466.46,528.7 1467.63,525.91 1468.8,523.56 1469.97,524.77 1471.14,524.2 1472.31,525.54 1473.49,522.32 1474.66,521.57 1475.83,523.8 1477,524.69 1478.17,524.58 1479.34,526.55 1480.51,520.56 1481.69,509.49 1482.86,517.62 1484.03,523.27 1485.2,523.8 1486.37,522.04 1487.54,515.59 1488.71,522.79 1489.89,526.89 1491.06,525.74 1492.23,523.87 1493.4,523.78 1494.57,525.07 1495.74,525.74 1496.91,526.2 1498.09,525.28 1499.26,523.94 1500.43,523.14 1501.6,522.54 1502.77,523.47 1503.94,524.09 1505.11,526.11 1506.29,526.58 1507.46,526.69 1508.63,524.46 1509.8,523.59 1510.97,525.93 1512.14,523.89 1513.31,520.77 1514.49,523.28 1515.66,526.32 1516.83,526.23 1518,526.36 1519.17,526.69 1520.34,526.71 1521.51,528.01 1522.69,530.34 1523.86,527.62 1525.03,523.68 1526.2,522.93 1527.37,526.27 1528.54,527.3 1529.71,524.74 1530.89,524.41 1532.06,526.34 1533.23,528.32 1534.4,527.47"/>
<polyline fill="none" stroke="#1e1e1e" stroke-width="1" stroke-linejoin="round" points="935.8,533.79 936.97,536.2 938.14,534.81 939.31,538.43 940.49,538.6 941.66,534.83 942.83,535.02 944,533.93 945.17,535.5 946.34,539.34 947.51,539.12 948.69,536.74 949.86,534.95 951.03,536.04 952.2,534.39 953.37,530.99 954.54,533.3 955.71,534.22 956.89,534.05 958.06,537.38 959.23,535.66 960.4,533.55 961.57,534.93 962.74,536 963.91,533.18 965.09,535.79 966.26,536.91 967.43,536.79 968.6,534.72 969.77,533.56 970.94,536.84 972.11,537.49 973.29,538.34 974.46,537.8 975.63,538.53 976.8,536.75 977.97,535.53 979.14,537.88 980.31,535.85 981.49,533.34 982.66,528.62 983.83,531.74 985,528.55 986.17,521.61 987.34,528.34 988.51,532.77 989.69,534.82 990.86,536.16 992.03,535.16 993.2,532.85 994.37,533.15 995.54,533.82 996.71,535.63 997.89,539.22 999.06,537.1 1000.23,534.04 1001.4,532.77 1002.57,533.3 1003.74,536.9 1004.91,537.42 1006.09,536.05 1007.26,537.43 1008.43,538.64 1009.6,537.68 1010.77,535.63 1011.94,533.76 1013.11,534.54 1014.29,536.87 1015.46,537.94 1016.63,537.51 1017.8,535.4 1018.97,533.87 1020.14,534.28 1021.31,537.8 1022.49,537.3 1023.66,536.54 1024.83,534.48 1026,535.45 1027.17,535.34 1028.34,535.55 1029.51,536.1 1030.69,518.23 1031.86,497.62 1033.03,518.76 1034.2,535.67 1035.37,534.82 1036.54,534.17 1037.71,533.94 1038.89,501.76 1040.06,475.76 1041.23,502.27 1042.4,534.51 1043.57,533.57 1044.74,532.19 1045.91,535.7 1047.09,536.98 1048.26,537.15 1049.43,537.99 1050.6,536.66 1051.77,535.08 1052.94,537.26 1054.11,538.79 1055.29,535.11 1056.46,535.59 1057.63,535.09 1058.8,534.83 1059.97,533.56 1061.14,534.63 1062.31,535.07 1063.49,534.89 1064.66,534.34 1065.83,536.57 1067,535.8 1068.17,534.27 1069.34,534.1 1070.51,532.03 1071.69,534.56 1072.86,535.7 1074.03,534.54 1075.2,533.42 1076.37,535.09 1077.54,534.7 1078.71,533.52 1079.89,534.45 1081.06,537.17 1082.23,538.01 1083.4,536.14 1084.57,535.25 1085.74,536.78 1086.91,535.76 1088.09,534.92 1089.26,531.7 1090.43,535.34 1091.6,537.18 1092.77,536.03 1093.94,536.49 1095.11,537.43 1096.29,538.3 1097.46,535.76 1098.63,533.19 1099.8,536.09 1100.97,538.42 1102.14,537.12 1103.31,537.7 1104.49,538.19 1105.66,537.71 1106.83,536.48 1108,536.24 1109.17,535.39 1110.34,533.89 1111.51,531.7 1112.69,532.3 1113.86,535.97 1115.03,537 1116.2,536.96 1117.37,535.17 1118.54,536.98 1119.71,542.52 1120.89,540.59 1122.06,538.72 1123.23,537.39 1124.4,537.87 1125.57,535.97 1126.74,537.67 1127.91,537.98 1129.09,539.81 1130.26,540.62 1131.43,536.11 1132.6,531.09 1133.77,530.81 1134.94,527.36 1136.11,519.55 1137.29,528.26 1138.46,535.87 1139.63,534.6 1140.8,533.41 1141.97,534.37 1143.14,534.79 1144.31,536.58 1145.49,536.53 1146.66,534.28 1147.83,533.6 1149,534.75 1150.17,535.42 1151.34,535.97 1152.51,535.61 1153.69,532.93 1154.86,535.62 1156.03,534.54 1157.2,527.7 1158.37,531.47 1159.54,534.72 1160.71,536.09 1161.89,538.64 1163.06,527.37 1164.23,516.37 1165.4,524.01 1166.57,533.2 1167.74,537.65 1168.91,540.12 1170.09,537.67 1171.26,535.07 1172.43,533.52 1173.6,533.64 1174.77,530.69 1175.94,512.06 1177.11,497.97 1178.29,512.56 1179.46,532.72 1180.63,530.08 1181.8,498.49 1182.97,481.04 1184.14,498.26 1185.31,525.18 1186.49,528.31 1187.66,532.78 1188.83,537.61 1190,536.28 1191.17,526.76 1192.34,519.27 1193.51,528.13 1194.69,525.59 1195.86,516.24 1197.03,518.1 1198.2,515.86 1199.37,526.37 1200.54,534.17 1201.71,535.67 1202.89,536.41 1204.06,531.4 1205.23,507.13 1206.4,491.15 1207.57,506.46 1208.74,531.53 1209.91,532.27 1211.09,519.45 1212.26,509.12 1213.43,520.03 1214.6,532.77 1215.77,536.49 1216.94,528.62 1218.11,493.27 1219.29,475.59 1220.46,493.23 1221.63,518.74 1222.8,485.84 1223.97,467.44 1225.14,485.42 1226.31,515.96 1227.49,503.58 1228.66,490.34 1229.83,489.27 1231,392.17 1232.17,353.9 1233.34,392.17 1234.51,496.14 1235.69,515.45 1236.86,497.29 1238.03,482.76 1239.2,498.45 1240.37,515.05 1241.54,508.38 1242.71,517.13 1243.89,501.76 1245.06,485.96 1246.23,502 1247.4,529.14 1248.57,531.56 1249.74,500.56 1250.91,483.42 1252.09,499.15 1253.26,509.75 1254.43,497.14 1255.6,512.26 1256.77,535.1 1257.94,535.49 1259.11,516.57 1260.29,503.94 1261.46,518.15 1262.63,533.54 1263.8,523.28 1264.97,511.88 1266.14,520.84 1267.31,526.71 1268.49,501.33 1269.66,484.5 1270.83,500.97 1272,528.46 1273.17,527.51 1274.34,517.93 1275.51,526.26 1276.69,530.61 1277.86,509.32 1279.03,493.87 1280.2,509.17 1281.37,532.03 1282.54,536.32 1283.71,528.38 1284.89,518.88 1286.06,527.64 1287.23,535.56 1288.4,534.65 1289.57,529.6 1290.74,523.48 1291.91,529.29 1293.09,533.17 1294.26,535.93 1295.43,533.34 1296.6,517.11 1297.77,504.49 1298.94,517.42 1300.11,536.79 1301.29,538.33 1302.46,529.79 1303.63,531.74 1304.8,533.5 1305.97,534.92 1307.14,524.29 1308.31,513.22 1309.49,522.44 1310.66,531.87 1311.83,534.59 1313,533.01 1314.17,525.78 1315.34,531.28 1316.51,537.09 1317.69,537.73 1318.86,536.4 1320.03,535.09 1321.2,535.48 1322.37,532.93 1323.54,535.85 1324.71,536.13 1325.89,536.95 1327.06,536.81 1328.23,535.64 1329.4,534.39 1330.57,535 1331.74,534.86 1332.91,535.96 1334.09,536.05 1335.26,537.54 1336.43,538.02 1337.6,538.6 1338.77,539.32 1339.94,537.38 1341.11,538.81 1342.29,537.52 1343.46,535.17 1344.63,535.02 1345.8,533.6 1346.97,533.16 1348.14,533.49 1349.31,535.41 1350.49,533.28 1351.66,534.67 1352.83,535.39 1354,534.94 1355.17,534.4 1356.34,533.85 1357.51,535.51 1358.69,534.59 1359.86,531.76 1361.03,533.26 1362.2,531.02 1363.37,530.84 1364.54,530.25 1365.71,531.52 1366.89,533.97 1368.06,534.57 1369.23,534.1 1370.4,532.81 1371.57,534.29 1372.74,534.04 1373.91,532.55 1375.09,535.04 1376.26,535.66 1377.43,535.03 1378.6,536.7 1379.77,536.78 1380.94,537.56 1382.11,538.53 1383.29,538.4 1384.46,537.89 1385.63,532.97 1386.8,534.39 1387.97,535.72 1389.14,534.33 1390.31,534.79 1391.49,537.03 1392.66,537.12 1393.83,536.99 1395,536.59 1396.17,536.66 1397.34,536.52 1398.51,540.06 1399.69,540.49 1400.86,536.63 1402.03,533.53 1403.2,534.44 1404.37,534.52 1405.54,534.56 1406.71,535.31 1407.89,535.18 1409.06,535.94 1410.23,534.87 1411.4,535.11 1412.57,534.44 1413.74,536.69 1414.91,536.2 1416.09,536.82 1417.26,535.41 1418.43,535.15 1419.6,536.26 1420.77,533.98 1421.94,531.3 1423.11,534.18 1424.29,533.85 1425.46,536.65 1426.63,536.08 1427.8,534.04 1428.97,532.62 1430.14,523.78 1431.31,505.35 1432.49,522.37 1433.66,533.46 1434.83,534.92 1436,535.26 1437.17,513.64 1438.34,490.44 1439.51,513.46 1440.69,533.56 1441.86,534.12 1443.03,536.16 1444.2,539 1445.37,537.29 1446.54,535.31 1447.71,532.49 1448.89,535.5 1450.06,536.75 1451.23,532.67 1452.4,530.72 1453.57,533 1454.74,536.23 1455.91,537.91 1457.09,537.47 1458.26,537.67 1459.43,536.52 1460.6,535.43 1461.77,537.14 1462.94,535.4 1464.11,533.34 1465.29,533.53 1466.46,534.93 1467.63,536.81 1468.8,537.34 1469.97,539.66 1471.14,540.37 1472.31,537.63 1473.49,535.75 1474.66,536.41 1475.83,538.5 1477,538.55 1478.17,536.87 1479.34,531.73 1480.51,527.77 1481.69,521.28 1482.86,529.75 1484.03,536.69 1485.2,536.41 1486.37,538.33 1487.54,537.96 1488.71,537.8 1489.89,536.51 1491.06,534.4 1492.23,531.59 1493.4,534.39 1494.57,536.56 1495.74,536.78 1496.91,536.83 1498.09,537.19 1499.26,537.42 1500.43,537.48 1501.6,536.23 1502.77,537.22 1503.94,533.8 1505.11,532.58 1506.29,533.17 1507.46,533.3 1508.63,536.26 1509.8,536.14 1510.97,534.62 1512.14,533.74 1513.31,531.75 1514.49,533.46 1515.66,535.68 1516.83,535.16 1518,536.03 1519.17,537.81 1520.34,538.61 1521.51,538.16 1522.69,535.79 1523.86,538.13 1525.03,536.22 1526.2,535.29 1527.37,535.42 1528.54,535.49 1529.71,535.05 1530.89,536 1532.06,536.67 1533.23,534.63 1534.4,533.79"/>
<g class="frame"><line x1="936" y1="91.0" x2="936" y2="564.3" stroke="#1e1e1e"/><line x1="1534" y1="91.0" x2="1534" y2="564.3" stroke="#1e1e1e"/><line x1="935.5" y1="91.5" x2="1534.5" y2="91.5" stroke="#4a4a4a"/><line x1="935.5" y1="564" x2="1534.5" y2="564" stroke="#9a9a9a"/><path d="M935.8 564V558M935.8 91.5V97.5M1135.33 564V558M1135.33 91.5V97.5M1334.87 564V558M1334.87 91.5V97.5M1534.4 564V558M1534.4 91.5V97.5M936 91.5H942M1534 91.5H1528M936 143.98H942M1534 143.98H1528M936 196.46H942M1534 196.46H1528M936 248.93H942M1534 248.93H1528M936 301.41H942M1534 301.41H1528M936 353.89H942M1534 353.89H1528M936 406.37H942M1534 406.37H1528M936 458.84H942M1534 458.84H1528M936 511.32H942M1534 511.32H1528M936 563.8H942M1534 563.8H1528" fill="none" stroke="#333"/></g>
<text class="tk" x="935.8" y="581.9" text-anchor="middle">0</text>
<text class="tk" x="1135.33" y="581.9" text-anchor="middle">5000</text>
<text class="tk" x="1334.87" y="581.9" text-anchor="middle">10000</text>
<text class="tk" x="1534.4" y="581.9" text-anchor="middle">15000</text>
<text class="tk" x="930" y="97.1" text-anchor="end">30</text>
<text class="tk" x="930" y="149.58" text-anchor="end">20</text>
<text class="tk" x="930" y="202.06" text-anchor="end">10</text>
<text class="tk" x="930" y="254.53" text-anchor="end">0</text>
<text class="tk" x="930" y="307.01" text-anchor="end">-10</text>
<text class="tk" x="930" y="359.49" text-anchor="end">-20</text>
<text class="tk" x="930" y="411.97" text-anchor="end">-30</text>
<text class="tk" x="930" y="464.44" text-anchor="end">-40</text>
<text class="tk" x="930" y="516.92" text-anchor="end">-50</text>
<text class="tk" x="930" y="569.4" text-anchor="end">-60</text>
<text class="lb" x="1235.7" y="601.5" text-anchor="middle">Frequency (Hz)</text>
<text class="lb" transform="translate(901.6 327.6) rotate(-90)" text-anchor="middle">X-RCP Average Power (dB)</text>
<text class="tt" x="1235" y="86.8" text-anchor="middle">X-RCP Power Spectra vs Time from Raw REDR Data Samples</text>
<text class="an" x="1264.2" y="152">File =</text>
<text class="an" x="1499.5" y="152" text-anchor="end">VC193A.ODR</text>
<text class="an" x="1264.2" y="172.25">Start Time = 1979-03-05T12:30: 1.000</text>
<text class="an" x="1264.2" y="192.5">Integration Time (sec) =</text>
<text class="an" x="1498.8" y="192.5" text-anchor="end">9.933</text>
<text class="an" x="1264.2" y="212.75">Spectrum Resolution (Hz) =</text>
<text class="an" x="1504" y="212.75" text-anchor="end">29.297</text>
<text class="an" x="1264.2" y="233">Peak Carrier-to-Noise (dB) =</text>
<text class="an" x="1502" y="233" text-anchor="end">54.31</text>
<text class="an" x="1275.5" y="253.25">Frequency of Peak (Hz) =</text>
<text class="an" x="1501.2" y="253.25" text-anchor="end">7441.4</text>
<text class="an" x="1275.5" y="273.5">In Average Spectrum</text>
<text class="an" x="1499.8" y="273.5" text-anchor="end">16</text>
<g class="grid"><line x1="248.53" y1="670.9" x2="248.53" y2="1142.2"/><line x1="348.17" y1="670.9" x2="348.17" y2="1142.2"/><line x1="447.8" y1="670.9" x2="447.8" y2="1142.2"/><line x1="547.43" y1="670.9" x2="547.43" y2="1142.2"/><line x1="647.07" y1="670.9" x2="647.07" y2="1142.2"/><line x1="148.9" y1="738.23" x2="746.7" y2="738.23"/><line x1="148.9" y1="805.56" x2="746.7" y2="805.56"/><line x1="148.9" y1="872.89" x2="746.7" y2="872.89"/><line x1="148.9" y1="940.21" x2="746.7" y2="940.21"/><line x1="148.9" y1="1007.54" x2="746.7" y2="1007.54"/><line x1="148.9" y1="1074.87" x2="746.7" y2="1074.87"/></g>
<polyline fill="none" stroke="#40409c" stroke-width="1.05" stroke-linejoin="round" points="149.4,769.33 154.33,741.33 157,757.33 159.67,794.67 162.33,805.33 165,825.33 167.67,785.33 170.33,805.33 173.53,849.33 176.2,786.67 178.87,821.33 181.53,852 184.47,772 187.13,826.67 189.8,876 193,798.67 195.67,832 198.33,869.33 201,796 203.67,825.33 206.33,788 209,752 212.2,812 214.87,776 217.53,764 220.2,840 222.87,896 225.8,1001.33 228.47,904 231.13,889.33 234.33,900 237,881.33 239.67,917.33 242.6,833.33 245.27,886.67 248.2,888 250.87,869.33 253.53,838.67 256.2,865.33 259.13,878.67 261.8,866.67 264.47,818.67 267.13,822.67 270.07,842.67 273,882.67 275.67,804 278.33,794.67 281.27,802.67 283.93,842.67 286.6,797.33 289.27,804 291.93,801.33 294.87,801.33 297.53,928 301.07,1042.67 303.73,960 306.4,873.33 309.07,933.33 312,998.67 314.67,996 317.33,904 320,912 322.67,922.67 325.6,876 328.53,954.67 331.2,933.33 333.87,921.33 336.8,904 339.47,948 342.13,909.33 344.8,964 348,893.33 350.67,933.33 353.33,929.33 356,932 358.93,894.67 361.87,962.67 364.53,912 367.2,897.33 369.87,857.33 372.53,869.33 375.2,893.33 378.13,902.67 381.07,849.33 383.73,865.33 386.4,941.33 389.33,968 392,908 394.93,926.67 397.6,897.33 400.27,869.33 403.2,852 405.87,893.33 408.53,894.67 411.2,890.67 414.13,858.67 416.8,873.33 419.47,832 422.13,833.33 424.8,822.67 427.47,813.33 430.13,808 433.87,841.33 436.53,797.33 438.93,793.33 441.87,914.67 444.53,850.67 447.2,856 450.13,865.33 452.8,822.67 455.47,817.33 458.14,836.08 461.27,792.16 464.1,869.02 466.92,767.06 469.75,861.18 472.88,773.33 475.39,745.1 478.53,795.29 481.35,790.59 483.86,804.71 486.69,760.78 489.51,798.43 492.33,826.67 495.16,843.92 497.98,845.49 500.8,814.12 503.63,782.75 506.45,795.29 508.96,843.92 512.1,814.12 514.61,798.43 516.49,861.18 519.31,760.78 522.14,829.8 524.96,814.12 527.78,770.2 530.61,804.71 533.43,840.78 536.25,796.86 539.08,881.57 541.9,847.06 544.73,837.65 547.55,862.75 550.06,787.45 552.88,845.49 555.71,890.98 558.53,878.43 561.04,890.98 563.86,832.94 566.69,848.63 569.51,886.27 572.65,897.25 575.47,905.1 577.98,1115.29 580.8,1002.35 583.63,920.78 586.14,889.41 588.96,848.63 591.78,848.63 594.61,851.76 597.12,826.67 600,785.71 602.45,857.14 605.1,775.51 607.96,826.53 610.82,856.12 613.47,781.63 616.33,919.39 618.98,877.55 621.84,853.06 624.49,874.49 627.35,826.53 630.2,793.88 632.86,841.84 635.71,822.45 638.37,954.08 641.22,840.82 643.88,817.35 646.73,879.59 649.39,902.04 652.24,914.29 655.1,861.22 657.76,919.39 660.61,781.63 663.27,866.33 666.12,866.33 668.98,886.73 671.63,869.39 674.49,857.14 677.35,872.45 680,846.94 682.86,797.96 685.71,723.47 688.57,855.1 691.22,863.27 694.08,830.61 696.94,802.04 699.8,835.71 702.04,759.18"/>
<g class="frame"><line x1="149" y1="670.4" x2="149" y2="1142.7" stroke="#1e1e1e"/><line x1="747" y1="670.4" x2="747" y2="1142.7" stroke="#1e1e1e"/><line x1="148.5" y1="670.5" x2="747.5" y2="670.5" stroke="#4a4a4a"/><line x1="148.5" y1="1142.5" x2="747.5" y2="1142.5" stroke="#4a4a4a"/><path d="M148.9 1142.5V1136.5M148.9 670.5V676.5M248.53 1142.5V1136.5M248.53 670.5V676.5M348.17 1142.5V1136.5M348.17 670.5V676.5M447.8 1142.5V1136.5M447.8 670.5V676.5M547.43 1142.5V1136.5M547.43 670.5V676.5M647.07 1142.5V1136.5M647.07 670.5V676.5M746.7 1142.5V1136.5M746.7 670.5V676.5M149 670.9H155M747 670.9H741M149 738.23H155M747 738.23H741M149 805.56H155M747 805.56H741M149 872.89H155M747 872.89H741M149 940.21H155M747 940.21H741M149 1007.54H155M747 1007.54H741M149 1074.87H155M747 1074.87H741M149 1142.2H155M747 1142.2H741" fill="none" stroke="#333"/></g>
<text class="tk" x="148.9" y="1160.6" text-anchor="middle">12.5</text>
<text class="tk" x="248.53" y="1160.6" text-anchor="middle">12.51</text>
<text class="tk" x="348.17" y="1160.6" text-anchor="middle">12.52</text>
<text class="tk" x="447.8" y="1160.6" text-anchor="middle">12.53</text>
<text class="tk" x="547.43" y="1160.6" text-anchor="middle">12.54</text>
<text class="tk" x="647.07" y="1160.6" text-anchor="middle">12.55</text>
<text class="tk" x="746.7" y="1160.6" text-anchor="middle">12.56</text>
<text class="tk" x="143" y="676.5" text-anchor="end">-7.08</text>
<text class="tk" x="143" y="743.83" text-anchor="end">-7.1</text>
<text class="tk" x="143" y="811.16" text-anchor="end">-7.12</text>
<text class="tk" x="143" y="878.49" text-anchor="end">-7.14</text>
<text class="tk" x="143" y="945.81" text-anchor="end">-7.16</text>
<text class="tk" x="143" y="1013.14" text-anchor="end">-7.18</text>
<text class="tk" x="143" y="1080.47" text-anchor="end">-7.2</text>
<text class="tk" x="143" y="1147.8" text-anchor="end">-7.22</text>
<text class="lb" x="447.6" y="1180.4" text-anchor="middle">Hours Past Midnight ERT</text>
<text class="lb" transform="translate(103.5 906.5) rotate(-90)" text-anchor="middle">Normalized Average Power (dB)</text>
<text class="tt" x="447.8" y="666" text-anchor="middle">Average Power vs Time from REDR X-Band Samples</text>
<text class="an" x="454.2" y="747.6">REDR File Name =</text>
<text class="an" x="700" y="747.6" text-anchor="end">VC193A.ODR</text>
<text class="an" x="454.2" y="767.25">Start Time = 1979-064T12:30: 1.000000</text>
<text class="an" x="454.2" y="786.9">Integration Time (sec) =</text>
<text class="an" x="702.5" y="786.9" text-anchor="end">1.000000</text>
<text class="mono" x="832.3" y="700.5" xml:space="preserve">PDS4 Product LID:</text>
<text class="mono" x="1482.5" y="700.5" text-anchor="end" xml:space="preserve">vg1j_63mr_1979064t123001</text>
<text class="mono" x="832.3" y="727.17" xml:space="preserve">REDR File Name:</text>
<text class="mono" x="1482.5" y="727.17" text-anchor="end" xml:space="preserve">VC193</text>
<text class="mono" x="832.3" y="753.84" xml:space="preserve">Record Length:</text>
<text class="mono" x="1482.5" y="753.84" text-anchor="end" xml:space="preserve">1692</text>
<text class="mono" x="832.3" y="780.51" xml:space="preserve">Number of Records:</text>
<text class="mono" x="1482.5" y="780.51" text-anchor="end" xml:space="preserve">10000</text>
<text class="mono" x="832.3" y="807.18" xml:space="preserve">Sample Rate:</text>
<text class="mono" x="1482.5" y="807.18" text-anchor="end" xml:space="preserve">10000</text>
<text class="mono" x="832.3" y="833.85" xml:space="preserve">Sample Bits:</text>
<text class="mono" x="1482.5" y="833.85" text-anchor="end" xml:space="preserve">8</text>
<text class="mono" x="832.3" y="860.52" xml:space="preserve">Spacecraft ID:</text>
<text class="mono" x="1482.5" y="860.52" text-anchor="end" xml:space="preserve">99</text>
<text class="mono" x="832.3" y="887.19" xml:space="preserve">DSN Receive Antenna:</text>
<text class="mono" x="1482.5" y="887.19" text-anchor="end" xml:space="preserve">63</text>
<text class="mono" x="832.3" y="913.86" xml:space="preserve">Downlink Polarization:</text>
<text class="mono" x="1482.5" y="913.86" text-anchor="end" xml:space="preserve">R</text>
<text class="mono" x="832.3" y="940.53" xml:space="preserve">Start Time:</text>
<text class="mono" x="1482.5" y="940.53" text-anchor="end" xml:space="preserve">1979-064T12:30:01.000</text>
<text class="mono" x="832.3" y="967.2" xml:space="preserve">Stop Time:</text>
<text class="mono" x="1482.5" y="967.2" text-anchor="end" xml:space="preserve">1979-064T12:33:20.980</text>
<text class="mono" x="832.3" y="993.87" xml:space="preserve">Target Name:</text>
<text class="mono" x="1482.5" y="993.87" text-anchor="end" xml:space="preserve">Jupiter</text>
<text class="mono" x="832.3" y="1020.54" xml:space="preserve">Instrument Name:</text>
<text class="mono" x="1482.5" y="1020.54" text-anchor="end" xml:space="preserve">Radio Science Subsystem</text>
<text class="mono" x="832.3" y="1047.21" xml:space="preserve">Producer ID:</text>
<text class="mono" x="1482.5" y="1047.21" text-anchor="end" xml:space="preserve">DSN</text>
<text class="mono" x="832.3" y="1073.88" xml:space="preserve">Product Type:</text>
<text class="mono" x="1482.5" y="1073.88" text-anchor="end" xml:space="preserve">REDR</text>
<text class="mono" x="832.3" y="1100.55" xml:space="preserve">Max SNR (X):</text>
<text class="mono" x="1482.5" y="1100.55" text-anchor="end" xml:space="preserve">54.31</text>
</svg></body></html>
